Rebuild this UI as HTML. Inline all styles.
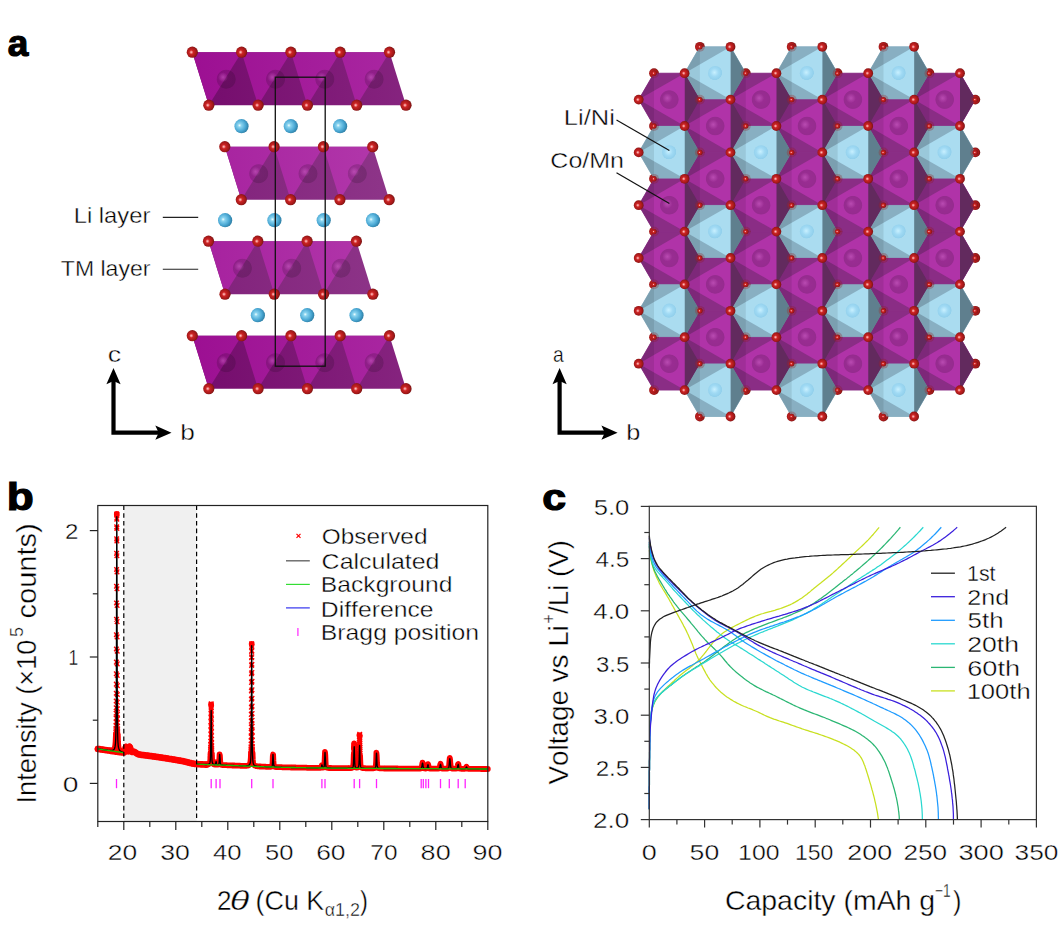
<!DOCTYPE html>
<html><head><meta charset="utf-8"><style>
html,body{margin:0;padding:0;background:#fff;width:1058px;height:925px;overflow:hidden}
svg{display:block} text{font-kerning:none}
</style></head><body>
<svg width="1058" height="925" viewBox="0 0 1058 925">
<rect width="1058" height="925" fill="#fff"/>

<defs>
<radialGradient id="gO" cx="0.45" cy="0.5" r="0.58" fx="0.4" fy="0.5">
 <stop offset="0" stop-color="#ffc8c8"/>
 <stop offset="0.12" stop-color="#f49090"/>
 <stop offset="0.32" stop-color="#cc2424"/>
 <stop offset="0.75" stop-color="#a01818"/>
 <stop offset="1" stop-color="#6a1212"/>
</radialGradient>
<radialGradient id="gOb" cx="0.38" cy="0.36" r="0.65" fx="0.36" fy="0.34">
 <stop offset="0" stop-color="#ffe0e0"/>
 <stop offset="0.25" stop-color="#d83a30"/>
 <stop offset="1" stop-color="#a01818"/>
</radialGradient>
<radialGradient id="gLi" cx="0.4" cy="0.45" r="0.62" fx="0.36" fy="0.44">
 <stop offset="0" stop-color="#f0ffff"/>
 <stop offset="0.2" stop-color="#8ad4f0"/>
 <stop offset="0.65" stop-color="#4aa8d4"/>
 <stop offset="1" stop-color="#2a7aa0"/>
</radialGradient>
<radialGradient id="gTM" cx="0.5" cy="0.5" r="0.5">
 <stop offset="0" stop-color="#000" stop-opacity="0.12"/>
 <stop offset="0.9" stop-color="#000" stop-opacity="0.15"/>
 <stop offset="1" stop-color="#000" stop-opacity="0"/>
</radialGradient>
<radialGradient id="gHi" cx="0.5" cy="0.5" r="0.5">
 <stop offset="0" stop-color="#fff" stop-opacity="0.22"/>
 <stop offset="1" stop-color="#fff" stop-opacity="0"/>
</radialGradient>
<radialGradient id="gHiP" cx="0.5" cy="0.5" r="0.5">
 <stop offset="0" stop-color="#e070d8" stop-opacity="0.45"/>
 <stop offset="1" stop-color="#e070d8" stop-opacity="0"/>
</radialGradient>
<radialGradient id="gSB" cx="0.45" cy="0.45" r="0.55">
 <stop offset="0" stop-color="#c8f0ff"/>
 <stop offset="0.5" stop-color="#a0daf4"/>
 <stop offset="0.92" stop-color="#92d0ec"/>
 <stop offset="1" stop-color="#92d0ec" stop-opacity="0"/>
</radialGradient>
<linearGradient id="L1l" gradientUnits="userSpaceOnUse" x1="190" y1="0" x2="410" y2="0"><stop offset="0" stop-color="#9c0f92"/><stop offset="1" stop-color="#aa28a2"/></linearGradient>
<linearGradient id="L1d" gradientUnits="userSpaceOnUse" x1="190" y1="0" x2="410" y2="0"><stop offset="0" stop-color="#740b6c"/><stop offset="1" stop-color="#86247f"/></linearGradient>
<linearGradient id="L2l" gradientUnits="userSpaceOnUse" x1="190" y1="0" x2="410" y2="0"><stop offset="0" stop-color="#a6209e"/><stop offset="1" stop-color="#b33bac"/></linearGradient>
<linearGradient id="L2d" gradientUnits="userSpaceOnUse" x1="190" y1="0" x2="410" y2="0"><stop offset="0" stop-color="#80207a"/><stop offset="1" stop-color="#8f378a"/></linearGradient>
</defs>

<polygon points="192.3,52.2 389.5,52.2 406.0,105.2 208.8,105.2" fill="url(#L1d)"/>
<polygon points="192.3,52.2 241.6,52.2 208.8,105.2" fill="url(#L1l)"/>
<polygon points="241.6,52.2 290.9,52.2 258.1,105.2" fill="url(#L1l)"/>
<polygon points="290.9,52.2 340.2,52.2 307.4,105.2" fill="url(#L1l)"/>
<polygon points="340.2,52.2 389.5,52.2 356.7,105.2" fill="url(#L1l)"/>
<circle cx="226.2" cy="79.2" r="10" fill="url(#gTM)"/>
<circle cx="223.0" cy="77.2" r="5" fill="url(#gHiP)"/>
<circle cx="275.5" cy="79.2" r="10" fill="url(#gTM)"/>
<circle cx="272.3" cy="77.2" r="5" fill="url(#gHiP)"/>
<circle cx="324.8" cy="79.2" r="10" fill="url(#gTM)"/>
<circle cx="321.6" cy="77.2" r="5" fill="url(#gHiP)"/>
<circle cx="374.1" cy="79.2" r="10" fill="url(#gTM)"/>
<circle cx="370.9" cy="77.2" r="5" fill="url(#gHiP)"/>
<circle cx="192.3" cy="52.2" r="5.6" fill="url(#gO)"/>
<circle cx="241.6" cy="52.2" r="5.6" fill="url(#gO)"/>
<circle cx="290.9" cy="52.2" r="5.6" fill="url(#gO)"/>
<circle cx="340.2" cy="52.2" r="5.6" fill="url(#gO)"/>
<circle cx="389.5" cy="52.2" r="5.6" fill="url(#gO)"/>
<circle cx="208.8" cy="105.2" r="5.6" fill="url(#gO)"/>
<circle cx="258.1" cy="105.2" r="5.6" fill="url(#gO)"/>
<circle cx="307.4" cy="105.2" r="5.6" fill="url(#gO)"/>
<circle cx="356.7" cy="105.2" r="5.6" fill="url(#gO)"/>
<circle cx="406.0" cy="105.2" r="5.6" fill="url(#gO)"/>
<polygon points="224.8,146.7 372.7,146.7 389.2,199.7 241.3,199.7" fill="url(#L2d)"/>
<polygon points="224.8,146.7 274.1,146.7 241.3,199.7" fill="url(#L2l)"/>
<polygon points="274.1,146.7 323.4,146.7 290.6,199.7" fill="url(#L2l)"/>
<polygon points="323.4,146.7 372.7,146.7 339.9,199.7" fill="url(#L2l)"/>
<circle cx="258.7" cy="173.7" r="10" fill="url(#gTM)"/>
<circle cx="255.5" cy="171.7" r="5" fill="url(#gHiP)"/>
<circle cx="308.0" cy="173.7" r="10" fill="url(#gTM)"/>
<circle cx="304.8" cy="171.7" r="5" fill="url(#gHiP)"/>
<circle cx="357.3" cy="173.7" r="10" fill="url(#gTM)"/>
<circle cx="354.1" cy="171.7" r="5" fill="url(#gHiP)"/>
<circle cx="224.8" cy="146.7" r="5.6" fill="url(#gO)"/>
<circle cx="274.1" cy="146.7" r="5.6" fill="url(#gO)"/>
<circle cx="323.4" cy="146.7" r="5.6" fill="url(#gO)"/>
<circle cx="372.7" cy="146.7" r="5.6" fill="url(#gO)"/>
<circle cx="241.3" cy="199.7" r="5.6" fill="url(#gO)"/>
<circle cx="290.6" cy="199.7" r="5.6" fill="url(#gO)"/>
<circle cx="339.9" cy="199.7" r="5.6" fill="url(#gO)"/>
<circle cx="389.2" cy="199.7" r="5.6" fill="url(#gO)"/>
<polygon points="208.5,241.2 356.4,241.2 372.9,294.2 225.0,294.2" fill="url(#L2d)"/>
<polygon points="208.5,241.2 257.8,241.2 225.0,294.2" fill="url(#L2l)"/>
<polygon points="257.8,241.2 307.1,241.2 274.3,294.2" fill="url(#L2l)"/>
<polygon points="307.1,241.2 356.4,241.2 323.6,294.2" fill="url(#L2l)"/>
<circle cx="242.4" cy="268.2" r="10" fill="url(#gTM)"/>
<circle cx="239.2" cy="266.2" r="5" fill="url(#gHiP)"/>
<circle cx="291.7" cy="268.2" r="10" fill="url(#gTM)"/>
<circle cx="288.5" cy="266.2" r="5" fill="url(#gHiP)"/>
<circle cx="341.0" cy="268.2" r="10" fill="url(#gTM)"/>
<circle cx="337.8" cy="266.2" r="5" fill="url(#gHiP)"/>
<circle cx="208.5" cy="241.2" r="5.6" fill="url(#gO)"/>
<circle cx="257.8" cy="241.2" r="5.6" fill="url(#gO)"/>
<circle cx="307.1" cy="241.2" r="5.6" fill="url(#gO)"/>
<circle cx="356.4" cy="241.2" r="5.6" fill="url(#gO)"/>
<circle cx="225.0" cy="294.2" r="5.6" fill="url(#gO)"/>
<circle cx="274.3" cy="294.2" r="5.6" fill="url(#gO)"/>
<circle cx="323.6" cy="294.2" r="5.6" fill="url(#gO)"/>
<circle cx="372.9" cy="294.2" r="5.6" fill="url(#gO)"/>
<polygon points="192.3,335.7 389.5,335.7 406.0,388.7 208.8,388.7" fill="url(#L1d)"/>
<polygon points="192.3,335.7 241.6,335.7 208.8,388.7" fill="url(#L1l)"/>
<polygon points="241.6,335.7 290.9,335.7 258.1,388.7" fill="url(#L1l)"/>
<polygon points="290.9,335.7 340.2,335.7 307.4,388.7" fill="url(#L1l)"/>
<polygon points="340.2,335.7 389.5,335.7 356.7,388.7" fill="url(#L1l)"/>
<circle cx="226.2" cy="362.7" r="10" fill="url(#gTM)"/>
<circle cx="223.0" cy="360.7" r="5" fill="url(#gHiP)"/>
<circle cx="275.5" cy="362.7" r="10" fill="url(#gTM)"/>
<circle cx="272.3" cy="360.7" r="5" fill="url(#gHiP)"/>
<circle cx="324.8" cy="362.7" r="10" fill="url(#gTM)"/>
<circle cx="321.6" cy="360.7" r="5" fill="url(#gHiP)"/>
<circle cx="374.1" cy="362.7" r="10" fill="url(#gTM)"/>
<circle cx="370.9" cy="360.7" r="5" fill="url(#gHiP)"/>
<circle cx="192.3" cy="335.7" r="5.6" fill="url(#gO)"/>
<circle cx="241.6" cy="335.7" r="5.6" fill="url(#gO)"/>
<circle cx="290.9" cy="335.7" r="5.6" fill="url(#gO)"/>
<circle cx="340.2" cy="335.7" r="5.6" fill="url(#gO)"/>
<circle cx="389.5" cy="335.7" r="5.6" fill="url(#gO)"/>
<circle cx="208.8" cy="388.7" r="5.6" fill="url(#gO)"/>
<circle cx="258.1" cy="388.7" r="5.6" fill="url(#gO)"/>
<circle cx="307.4" cy="388.7" r="5.6" fill="url(#gO)"/>
<circle cx="356.7" cy="388.7" r="5.6" fill="url(#gO)"/>
<circle cx="406.0" cy="388.7" r="5.6" fill="url(#gO)"/>
<circle cx="241.5" cy="126.2" r="7.1" fill="url(#gLi)"/>
<circle cx="290.8" cy="126.2" r="7.1" fill="url(#gLi)"/>
<circle cx="340.1" cy="126.2" r="7.1" fill="url(#gLi)"/>
<circle cx="225.1" cy="220.2" r="7.1" fill="url(#gLi)"/>
<circle cx="274.4" cy="220.2" r="7.1" fill="url(#gLi)"/>
<circle cx="323.7" cy="220.2" r="7.1" fill="url(#gLi)"/>
<circle cx="373.0" cy="220.2" r="7.1" fill="url(#gLi)"/>
<circle cx="257.9" cy="315.2" r="7.1" fill="url(#gLi)"/>
<circle cx="307.2" cy="315.2" r="7.1" fill="url(#gLi)"/>
<circle cx="356.5" cy="315.2" r="7.1" fill="url(#gLi)"/>
<rect x="275.3" y="77.2" width="49.9" height="289" fill="none" stroke="#111" stroke-width="1.3"/>
<text x="73.65" y="222.60" font-family="&quot;Liberation Sans&quot;, sans-serif" font-size="22.8" font-weight="normal" font-style="normal" fill="#000" textLength="76.75" lengthAdjust="spacingAndGlyphs" stroke="#fff" stroke-width="0.4">Li layer</text>
<text x="60.88" y="276.10" font-family="&quot;Liberation Sans&quot;, sans-serif" font-size="22.8" font-weight="normal" font-style="normal" fill="#000" textLength="89.50" lengthAdjust="spacingAndGlyphs" stroke="#fff" stroke-width="0.4">TM layer</text>
<line x1="162.8" y1="217.4" x2="198.2" y2="217.4" stroke="#222" stroke-width="1.1"/>
<line x1="162.8" y1="269.2" x2="198.2" y2="269.2" stroke="#222" stroke-width="1.1"/>
<path d="M111.4,434.8 L111.4,378 L115.6,378 L115.6,430.6 L160.5,430.6 L160.5,434.8 Z" fill="#000"/><path d="M113.5,368 L120.6,384.3 L113.5,381 L106.4,384.3 Z" fill="#000"/><path d="M171.5,432.7 L155.3,439.8 L158.7,432.7 L155.3,425.6 Z" fill="#000"/>
<path d="M557.5,434.8 L557.5,378 L561.7,378 L561.7,430.6 L606.6,430.6 L606.6,434.8 Z" fill="#000"/><path d="M559.6,368 L566.7,384.3 L559.6,381 L552.5,384.3 Z" fill="#000"/><path d="M617.6,432.7 L601.4,439.8 L604.8,432.7 L601.4,425.6 Z" fill="#000"/>
<text x="107.76" y="361.50" font-family="&quot;Liberation Sans&quot;, sans-serif" font-size="22.8" font-weight="normal" font-style="normal" fill="#000" textLength="13.45" lengthAdjust="spacingAndGlyphs" stroke="#fff" stroke-width="0.4">c</text>
<text x="180.31" y="439.70" font-family="&quot;Liberation Sans&quot;, sans-serif" font-size="22.8" font-weight="normal" font-style="normal" fill="#000" textLength="14.59" lengthAdjust="spacingAndGlyphs" stroke="#fff" stroke-width="0.4">b</text>
<text x="552.88" y="361.50" font-family="&quot;Liberation Sans&quot;, sans-serif" font-size="22.8" font-weight="normal" font-style="normal" fill="#000" textLength="10.72" lengthAdjust="spacingAndGlyphs" stroke="#fff" stroke-width="0.4">a</text>
<text x="626.37" y="439.70" font-family="&quot;Liberation Sans&quot;, sans-serif" font-size="22.8" font-weight="normal" font-style="normal" fill="#000" textLength="14.10" lengthAdjust="spacingAndGlyphs" stroke="#fff" stroke-width="0.4">b</text>
<text x="7.72" y="56.10" font-family="&quot;Liberation Sans&quot;, sans-serif" font-size="37" font-weight="bold" font-style="normal" fill="#000" textLength="20.55" lengthAdjust="spacingAndGlyphs" stroke="#000" stroke-width="1.2">a</text>
<text x="6.88" y="509.80" font-family="&quot;Liberation Sans&quot;, sans-serif" font-size="38.4" font-weight="bold" font-style="normal" fill="#000" textLength="27.03" lengthAdjust="spacingAndGlyphs" stroke="#000" stroke-width="1.2">b</text>
<text x="542.23" y="509.90" font-family="&quot;Liberation Sans&quot;, sans-serif" font-size="36.5" font-weight="bold" font-style="normal" fill="#000" textLength="23.83" lengthAdjust="spacingAndGlyphs" stroke="#000" stroke-width="1.2">c</text>
<polygon points="654.0,73.2 684.6,73.2 699.9,99.6 684.6,126.0 654.0,126.0 638.7,99.6" fill="#8a2d85" stroke="#8a2d85" stroke-width="0.8"/>
<polygon points="654.0,126.0 684.6,126.0 699.9,152.4 684.6,178.8 654.0,178.8 638.7,152.4" fill="#88afc2" stroke="#88afc2" stroke-width="0.8"/>
<polygon points="654.0,178.8 684.6,178.8 699.9,205.2 684.6,231.6 654.0,231.6 638.7,205.2" fill="#8a2d85" stroke="#8a2d85" stroke-width="0.8"/>
<polygon points="654.0,231.6 684.6,231.6 699.9,258.0 684.6,284.4 654.0,284.4 638.7,258.0" fill="#8a2d85" stroke="#8a2d85" stroke-width="0.8"/>
<polygon points="654.0,284.4 684.6,284.4 699.9,310.8 684.6,337.2 654.0,337.2 638.7,310.8" fill="#88afc2" stroke="#88afc2" stroke-width="0.8"/>
<polygon points="654.0,337.2 684.6,337.2 699.9,363.7 684.6,390.1 654.0,390.1 638.7,363.7" fill="#8a2d85" stroke="#8a2d85" stroke-width="0.8"/>
<polygon points="699.9,46.8 730.5,46.8 745.8,73.2 730.5,99.6 699.9,99.6 684.6,73.2" fill="#88afc2" stroke="#88afc2" stroke-width="0.8"/>
<polygon points="699.9,99.6 730.5,99.6 745.8,126.0 730.5,152.4 699.9,152.4 684.6,126.0" fill="#8a2d85" stroke="#8a2d85" stroke-width="0.8"/>
<polygon points="699.9,152.4 730.5,152.4 745.8,178.8 730.5,205.2 699.9,205.2 684.6,178.8" fill="#8a2d85" stroke="#8a2d85" stroke-width="0.8"/>
<polygon points="699.9,205.2 730.5,205.2 745.8,231.6 730.5,258.0 699.9,258.0 684.6,231.6" fill="#88afc2" stroke="#88afc2" stroke-width="0.8"/>
<polygon points="699.9,258.0 730.5,258.0 745.8,284.4 730.5,310.8 699.9,310.8 684.6,284.4" fill="#8a2d85" stroke="#8a2d85" stroke-width="0.8"/>
<polygon points="699.9,310.8 730.5,310.8 745.8,337.2 730.5,363.7 699.9,363.7 684.6,337.2" fill="#8a2d85" stroke="#8a2d85" stroke-width="0.8"/>
<polygon points="699.9,363.7 730.5,363.7 745.8,390.1 730.5,416.5 699.9,416.5 684.6,390.1" fill="#88afc2" stroke="#88afc2" stroke-width="0.8"/>
<polygon points="745.8,73.2 776.4,73.2 791.7,99.6 776.4,126.0 745.8,126.0 730.5,99.6" fill="#8a2d85" stroke="#8a2d85" stroke-width="0.8"/>
<polygon points="745.8,126.0 776.4,126.0 791.7,152.4 776.4,178.8 745.8,178.8 730.5,152.4" fill="#88afc2" stroke="#88afc2" stroke-width="0.8"/>
<polygon points="745.8,178.8 776.4,178.8 791.7,205.2 776.4,231.6 745.8,231.6 730.5,205.2" fill="#8a2d85" stroke="#8a2d85" stroke-width="0.8"/>
<polygon points="745.8,231.6 776.4,231.6 791.7,258.0 776.4,284.4 745.8,284.4 730.5,258.0" fill="#8a2d85" stroke="#8a2d85" stroke-width="0.8"/>
<polygon points="745.8,284.4 776.4,284.4 791.7,310.8 776.4,337.2 745.8,337.2 730.5,310.8" fill="#88afc2" stroke="#88afc2" stroke-width="0.8"/>
<polygon points="745.8,337.2 776.4,337.2 791.7,363.7 776.4,390.1 745.8,390.1 730.5,363.7" fill="#8a2d85" stroke="#8a2d85" stroke-width="0.8"/>
<polygon points="791.7,46.8 822.3,46.8 837.6,73.2 822.3,99.6 791.7,99.6 776.4,73.2" fill="#88afc2" stroke="#88afc2" stroke-width="0.8"/>
<polygon points="791.7,99.6 822.3,99.6 837.6,126.0 822.3,152.4 791.7,152.4 776.4,126.0" fill="#8a2d85" stroke="#8a2d85" stroke-width="0.8"/>
<polygon points="791.7,152.4 822.3,152.4 837.6,178.8 822.3,205.2 791.7,205.2 776.4,178.8" fill="#8a2d85" stroke="#8a2d85" stroke-width="0.8"/>
<polygon points="791.7,205.2 822.3,205.2 837.6,231.6 822.3,258.0 791.7,258.0 776.4,231.6" fill="#88afc2" stroke="#88afc2" stroke-width="0.8"/>
<polygon points="791.7,258.0 822.3,258.0 837.6,284.4 822.3,310.8 791.7,310.8 776.4,284.4" fill="#8a2d85" stroke="#8a2d85" stroke-width="0.8"/>
<polygon points="791.7,310.8 822.3,310.8 837.6,337.2 822.3,363.7 791.7,363.7 776.4,337.2" fill="#8a2d85" stroke="#8a2d85" stroke-width="0.8"/>
<polygon points="791.7,363.7 822.3,363.7 837.6,390.1 822.3,416.5 791.7,416.5 776.4,390.1" fill="#88afc2" stroke="#88afc2" stroke-width="0.8"/>
<polygon points="837.6,73.2 868.2,73.2 883.5,99.6 868.2,126.0 837.6,126.0 822.3,99.6" fill="#8a2d85" stroke="#8a2d85" stroke-width="0.8"/>
<polygon points="837.6,126.0 868.2,126.0 883.5,152.4 868.2,178.8 837.6,178.8 822.3,152.4" fill="#88afc2" stroke="#88afc2" stroke-width="0.8"/>
<polygon points="837.6,178.8 868.2,178.8 883.5,205.2 868.2,231.6 837.6,231.6 822.3,205.2" fill="#8a2d85" stroke="#8a2d85" stroke-width="0.8"/>
<polygon points="837.6,231.6 868.2,231.6 883.5,258.0 868.2,284.4 837.6,284.4 822.3,258.0" fill="#8a2d85" stroke="#8a2d85" stroke-width="0.8"/>
<polygon points="837.6,284.4 868.2,284.4 883.5,310.8 868.2,337.2 837.6,337.2 822.3,310.8" fill="#88afc2" stroke="#88afc2" stroke-width="0.8"/>
<polygon points="837.6,337.2 868.2,337.2 883.5,363.7 868.2,390.1 837.6,390.1 822.3,363.7" fill="#8a2d85" stroke="#8a2d85" stroke-width="0.8"/>
<polygon points="883.5,46.8 914.1,46.8 929.4,73.2 914.1,99.6 883.5,99.6 868.2,73.2" fill="#88afc2" stroke="#88afc2" stroke-width="0.8"/>
<polygon points="883.5,99.6 914.1,99.6 929.4,126.0 914.1,152.4 883.5,152.4 868.2,126.0" fill="#8a2d85" stroke="#8a2d85" stroke-width="0.8"/>
<polygon points="883.5,152.4 914.1,152.4 929.4,178.8 914.1,205.2 883.5,205.2 868.2,178.8" fill="#8a2d85" stroke="#8a2d85" stroke-width="0.8"/>
<polygon points="883.5,205.2 914.1,205.2 929.4,231.6 914.1,258.0 883.5,258.0 868.2,231.6" fill="#88afc2" stroke="#88afc2" stroke-width="0.8"/>
<polygon points="883.5,258.0 914.1,258.0 929.4,284.4 914.1,310.8 883.5,310.8 868.2,284.4" fill="#8a2d85" stroke="#8a2d85" stroke-width="0.8"/>
<polygon points="883.5,310.8 914.1,310.8 929.4,337.2 914.1,363.7 883.5,363.7 868.2,337.2" fill="#8a2d85" stroke="#8a2d85" stroke-width="0.8"/>
<polygon points="883.5,363.7 914.1,363.7 929.4,390.1 914.1,416.5 883.5,416.5 868.2,390.1" fill="#88afc2" stroke="#88afc2" stroke-width="0.8"/>
<polygon points="929.4,73.2 960.0,73.2 975.3,99.6 960.0,126.0 929.4,126.0 914.1,99.6" fill="#8a2d85" stroke="#8a2d85" stroke-width="0.8"/>
<polygon points="929.4,126.0 960.0,126.0 975.3,152.4 960.0,178.8 929.4,178.8 914.1,152.4" fill="#88afc2" stroke="#88afc2" stroke-width="0.8"/>
<polygon points="929.4,178.8 960.0,178.8 975.3,205.2 960.0,231.6 929.4,231.6 914.1,205.2" fill="#8a2d85" stroke="#8a2d85" stroke-width="0.8"/>
<polygon points="929.4,231.6 960.0,231.6 975.3,258.0 960.0,284.4 929.4,284.4 914.1,258.0" fill="#8a2d85" stroke="#8a2d85" stroke-width="0.8"/>
<polygon points="929.4,284.4 960.0,284.4 975.3,310.8 960.0,337.2 929.4,337.2 914.1,310.8" fill="#88afc2" stroke="#88afc2" stroke-width="0.8"/>
<polygon points="929.4,337.2 960.0,337.2 975.3,363.7 960.0,390.1 929.4,390.1 914.1,363.7" fill="#8a2d85" stroke="#8a2d85" stroke-width="0.8"/>
<polygon points="684.6,73.2 699.9,99.6 684.6,126.0" fill="#622a5e"/>
<polygon points="684.6,73.2 638.7,99.6 684.6,126.0" fill="#b033a8"/>
<polygon points="654.0,73.2 638.7,99.6 654.0,126.0" fill="#000" fill-opacity="0.09"/>
<polygon points="684.6,126.0 699.9,152.4 684.6,178.8" fill="#5f7f8e"/>
<polygon points="684.6,126.0 638.7,152.4 684.6,178.8" fill="#aadcf0"/>
<polygon points="654.0,126.0 638.7,152.4 654.0,178.8" fill="#000" fill-opacity="0.09"/>
<polygon points="684.6,178.8 699.9,205.2 684.6,231.6" fill="#622a5e"/>
<polygon points="684.6,178.8 638.7,205.2 684.6,231.6" fill="#b033a8"/>
<polygon points="654.0,178.8 638.7,205.2 654.0,231.6" fill="#000" fill-opacity="0.09"/>
<polygon points="684.6,231.6 699.9,258.0 684.6,284.4" fill="#622a5e"/>
<polygon points="684.6,231.6 638.7,258.0 684.6,284.4" fill="#b033a8"/>
<polygon points="654.0,231.6 638.7,258.0 654.0,284.4" fill="#000" fill-opacity="0.09"/>
<polygon points="684.6,284.4 699.9,310.8 684.6,337.2" fill="#5f7f8e"/>
<polygon points="684.6,284.4 638.7,310.8 684.6,337.2" fill="#aadcf0"/>
<polygon points="654.0,284.4 638.7,310.8 654.0,337.2" fill="#000" fill-opacity="0.09"/>
<polygon points="684.6,337.2 699.9,363.7 684.6,390.1" fill="#622a5e"/>
<polygon points="684.6,337.2 638.7,363.7 684.6,390.1" fill="#b033a8"/>
<polygon points="654.0,337.2 638.7,363.7 654.0,390.1" fill="#000" fill-opacity="0.09"/>
<polygon points="730.5,46.8 745.8,73.2 730.5,99.6" fill="#5f7f8e"/>
<polygon points="730.5,46.8 684.6,73.2 730.5,99.6" fill="#aadcf0"/>
<polygon points="699.9,46.8 684.6,73.2 699.9,99.6" fill="#000" fill-opacity="0.09"/>
<polygon points="730.5,99.6 745.8,126.0 730.5,152.4" fill="#622a5e"/>
<polygon points="730.5,99.6 684.6,126.0 730.5,152.4" fill="#b033a8"/>
<polygon points="699.9,99.6 684.6,126.0 699.9,152.4" fill="#000" fill-opacity="0.09"/>
<polygon points="730.5,152.4 745.8,178.8 730.5,205.2" fill="#622a5e"/>
<polygon points="730.5,152.4 684.6,178.8 730.5,205.2" fill="#b033a8"/>
<polygon points="699.9,152.4 684.6,178.8 699.9,205.2" fill="#000" fill-opacity="0.09"/>
<polygon points="730.5,205.2 745.8,231.6 730.5,258.0" fill="#5f7f8e"/>
<polygon points="730.5,205.2 684.6,231.6 730.5,258.0" fill="#aadcf0"/>
<polygon points="699.9,205.2 684.6,231.6 699.9,258.0" fill="#000" fill-opacity="0.09"/>
<polygon points="730.5,258.0 745.8,284.4 730.5,310.8" fill="#622a5e"/>
<polygon points="730.5,258.0 684.6,284.4 730.5,310.8" fill="#b033a8"/>
<polygon points="699.9,258.0 684.6,284.4 699.9,310.8" fill="#000" fill-opacity="0.09"/>
<polygon points="730.5,310.8 745.8,337.2 730.5,363.7" fill="#622a5e"/>
<polygon points="730.5,310.8 684.6,337.2 730.5,363.7" fill="#b033a8"/>
<polygon points="699.9,310.8 684.6,337.2 699.9,363.7" fill="#000" fill-opacity="0.09"/>
<polygon points="730.5,363.7 745.8,390.1 730.5,416.5" fill="#5f7f8e"/>
<polygon points="730.5,363.7 684.6,390.1 730.5,416.5" fill="#aadcf0"/>
<polygon points="699.9,363.7 684.6,390.1 699.9,416.5" fill="#000" fill-opacity="0.09"/>
<polygon points="776.4,73.2 791.7,99.6 776.4,126.0" fill="#622a5e"/>
<polygon points="776.4,73.2 730.5,99.6 776.4,126.0" fill="#b033a8"/>
<polygon points="745.8,73.2 730.5,99.6 745.8,126.0" fill="#000" fill-opacity="0.09"/>
<polygon points="776.4,126.0 791.7,152.4 776.4,178.8" fill="#5f7f8e"/>
<polygon points="776.4,126.0 730.5,152.4 776.4,178.8" fill="#aadcf0"/>
<polygon points="745.8,126.0 730.5,152.4 745.8,178.8" fill="#000" fill-opacity="0.09"/>
<polygon points="776.4,178.8 791.7,205.2 776.4,231.6" fill="#622a5e"/>
<polygon points="776.4,178.8 730.5,205.2 776.4,231.6" fill="#b033a8"/>
<polygon points="745.8,178.8 730.5,205.2 745.8,231.6" fill="#000" fill-opacity="0.09"/>
<polygon points="776.4,231.6 791.7,258.0 776.4,284.4" fill="#622a5e"/>
<polygon points="776.4,231.6 730.5,258.0 776.4,284.4" fill="#b033a8"/>
<polygon points="745.8,231.6 730.5,258.0 745.8,284.4" fill="#000" fill-opacity="0.09"/>
<polygon points="776.4,284.4 791.7,310.8 776.4,337.2" fill="#5f7f8e"/>
<polygon points="776.4,284.4 730.5,310.8 776.4,337.2" fill="#aadcf0"/>
<polygon points="745.8,284.4 730.5,310.8 745.8,337.2" fill="#000" fill-opacity="0.09"/>
<polygon points="776.4,337.2 791.7,363.7 776.4,390.1" fill="#622a5e"/>
<polygon points="776.4,337.2 730.5,363.7 776.4,390.1" fill="#b033a8"/>
<polygon points="745.8,337.2 730.5,363.7 745.8,390.1" fill="#000" fill-opacity="0.09"/>
<polygon points="822.3,46.8 837.6,73.2 822.3,99.6" fill="#5f7f8e"/>
<polygon points="822.3,46.8 776.4,73.2 822.3,99.6" fill="#aadcf0"/>
<polygon points="791.7,46.8 776.4,73.2 791.7,99.6" fill="#000" fill-opacity="0.09"/>
<polygon points="822.3,99.6 837.6,126.0 822.3,152.4" fill="#622a5e"/>
<polygon points="822.3,99.6 776.4,126.0 822.3,152.4" fill="#b033a8"/>
<polygon points="791.7,99.6 776.4,126.0 791.7,152.4" fill="#000" fill-opacity="0.09"/>
<polygon points="822.3,152.4 837.6,178.8 822.3,205.2" fill="#622a5e"/>
<polygon points="822.3,152.4 776.4,178.8 822.3,205.2" fill="#b033a8"/>
<polygon points="791.7,152.4 776.4,178.8 791.7,205.2" fill="#000" fill-opacity="0.09"/>
<polygon points="822.3,205.2 837.6,231.6 822.3,258.0" fill="#5f7f8e"/>
<polygon points="822.3,205.2 776.4,231.6 822.3,258.0" fill="#aadcf0"/>
<polygon points="791.7,205.2 776.4,231.6 791.7,258.0" fill="#000" fill-opacity="0.09"/>
<polygon points="822.3,258.0 837.6,284.4 822.3,310.8" fill="#622a5e"/>
<polygon points="822.3,258.0 776.4,284.4 822.3,310.8" fill="#b033a8"/>
<polygon points="791.7,258.0 776.4,284.4 791.7,310.8" fill="#000" fill-opacity="0.09"/>
<polygon points="822.3,310.8 837.6,337.2 822.3,363.7" fill="#622a5e"/>
<polygon points="822.3,310.8 776.4,337.2 822.3,363.7" fill="#b033a8"/>
<polygon points="791.7,310.8 776.4,337.2 791.7,363.7" fill="#000" fill-opacity="0.09"/>
<polygon points="822.3,363.7 837.6,390.1 822.3,416.5" fill="#5f7f8e"/>
<polygon points="822.3,363.7 776.4,390.1 822.3,416.5" fill="#aadcf0"/>
<polygon points="791.7,363.7 776.4,390.1 791.7,416.5" fill="#000" fill-opacity="0.09"/>
<polygon points="868.2,73.2 883.5,99.6 868.2,126.0" fill="#622a5e"/>
<polygon points="868.2,73.2 822.3,99.6 868.2,126.0" fill="#b033a8"/>
<polygon points="837.6,73.2 822.3,99.6 837.6,126.0" fill="#000" fill-opacity="0.09"/>
<polygon points="868.2,126.0 883.5,152.4 868.2,178.8" fill="#5f7f8e"/>
<polygon points="868.2,126.0 822.3,152.4 868.2,178.8" fill="#aadcf0"/>
<polygon points="837.6,126.0 822.3,152.4 837.6,178.8" fill="#000" fill-opacity="0.09"/>
<polygon points="868.2,178.8 883.5,205.2 868.2,231.6" fill="#622a5e"/>
<polygon points="868.2,178.8 822.3,205.2 868.2,231.6" fill="#b033a8"/>
<polygon points="837.6,178.8 822.3,205.2 837.6,231.6" fill="#000" fill-opacity="0.09"/>
<polygon points="868.2,231.6 883.5,258.0 868.2,284.4" fill="#622a5e"/>
<polygon points="868.2,231.6 822.3,258.0 868.2,284.4" fill="#b033a8"/>
<polygon points="837.6,231.6 822.3,258.0 837.6,284.4" fill="#000" fill-opacity="0.09"/>
<polygon points="868.2,284.4 883.5,310.8 868.2,337.2" fill="#5f7f8e"/>
<polygon points="868.2,284.4 822.3,310.8 868.2,337.2" fill="#aadcf0"/>
<polygon points="837.6,284.4 822.3,310.8 837.6,337.2" fill="#000" fill-opacity="0.09"/>
<polygon points="868.2,337.2 883.5,363.7 868.2,390.1" fill="#622a5e"/>
<polygon points="868.2,337.2 822.3,363.7 868.2,390.1" fill="#b033a8"/>
<polygon points="837.6,337.2 822.3,363.7 837.6,390.1" fill="#000" fill-opacity="0.09"/>
<polygon points="914.1,46.8 929.4,73.2 914.1,99.6" fill="#5f7f8e"/>
<polygon points="914.1,46.8 868.2,73.2 914.1,99.6" fill="#aadcf0"/>
<polygon points="883.5,46.8 868.2,73.2 883.5,99.6" fill="#000" fill-opacity="0.09"/>
<polygon points="914.1,99.6 929.4,126.0 914.1,152.4" fill="#622a5e"/>
<polygon points="914.1,99.6 868.2,126.0 914.1,152.4" fill="#b033a8"/>
<polygon points="883.5,99.6 868.2,126.0 883.5,152.4" fill="#000" fill-opacity="0.09"/>
<polygon points="914.1,152.4 929.4,178.8 914.1,205.2" fill="#622a5e"/>
<polygon points="914.1,152.4 868.2,178.8 914.1,205.2" fill="#b033a8"/>
<polygon points="883.5,152.4 868.2,178.8 883.5,205.2" fill="#000" fill-opacity="0.09"/>
<polygon points="914.1,205.2 929.4,231.6 914.1,258.0" fill="#5f7f8e"/>
<polygon points="914.1,205.2 868.2,231.6 914.1,258.0" fill="#aadcf0"/>
<polygon points="883.5,205.2 868.2,231.6 883.5,258.0" fill="#000" fill-opacity="0.09"/>
<polygon points="914.1,258.0 929.4,284.4 914.1,310.8" fill="#622a5e"/>
<polygon points="914.1,258.0 868.2,284.4 914.1,310.8" fill="#b033a8"/>
<polygon points="883.5,258.0 868.2,284.4 883.5,310.8" fill="#000" fill-opacity="0.09"/>
<polygon points="914.1,310.8 929.4,337.2 914.1,363.7" fill="#622a5e"/>
<polygon points="914.1,310.8 868.2,337.2 914.1,363.7" fill="#b033a8"/>
<polygon points="883.5,310.8 868.2,337.2 883.5,363.7" fill="#000" fill-opacity="0.09"/>
<polygon points="914.1,363.7 929.4,390.1 914.1,416.5" fill="#5f7f8e"/>
<polygon points="914.1,363.7 868.2,390.1 914.1,416.5" fill="#aadcf0"/>
<polygon points="883.5,363.7 868.2,390.1 883.5,416.5" fill="#000" fill-opacity="0.09"/>
<polygon points="960.0,73.2 975.3,99.6 960.0,126.0" fill="#622a5e"/>
<polygon points="960.0,73.2 914.1,99.6 960.0,126.0" fill="#b033a8"/>
<polygon points="929.4,73.2 914.1,99.6 929.4,126.0" fill="#000" fill-opacity="0.09"/>
<polygon points="960.0,126.0 975.3,152.4 960.0,178.8" fill="#5f7f8e"/>
<polygon points="960.0,126.0 914.1,152.4 960.0,178.8" fill="#aadcf0"/>
<polygon points="929.4,126.0 914.1,152.4 929.4,178.8" fill="#000" fill-opacity="0.09"/>
<polygon points="960.0,178.8 975.3,205.2 960.0,231.6" fill="#622a5e"/>
<polygon points="960.0,178.8 914.1,205.2 960.0,231.6" fill="#b033a8"/>
<polygon points="929.4,178.8 914.1,205.2 929.4,231.6" fill="#000" fill-opacity="0.09"/>
<polygon points="960.0,231.6 975.3,258.0 960.0,284.4" fill="#622a5e"/>
<polygon points="960.0,231.6 914.1,258.0 960.0,284.4" fill="#b033a8"/>
<polygon points="929.4,231.6 914.1,258.0 929.4,284.4" fill="#000" fill-opacity="0.09"/>
<polygon points="960.0,284.4 975.3,310.8 960.0,337.2" fill="#5f7f8e"/>
<polygon points="960.0,284.4 914.1,310.8 960.0,337.2" fill="#aadcf0"/>
<polygon points="929.4,284.4 914.1,310.8 929.4,337.2" fill="#000" fill-opacity="0.09"/>
<polygon points="960.0,337.2 975.3,363.7 960.0,390.1" fill="#622a5e"/>
<polygon points="960.0,337.2 914.1,363.7 960.0,390.1" fill="#b033a8"/>
<polygon points="929.4,337.2 914.1,363.7 929.4,390.1" fill="#000" fill-opacity="0.09"/>
<circle cx="654.0" cy="73.2" r="4.9" fill="url(#gO)"/>
<circle cx="699.9" cy="99.6" r="4.9" fill="url(#gO)"/>
<circle cx="654.0" cy="126.0" r="4.9" fill="url(#gO)"/>
<circle cx="699.9" cy="152.4" r="4.9" fill="url(#gO)"/>
<circle cx="654.0" cy="178.8" r="4.9" fill="url(#gO)"/>
<circle cx="699.9" cy="205.2" r="4.9" fill="url(#gO)"/>
<circle cx="654.0" cy="231.6" r="4.9" fill="url(#gO)"/>
<circle cx="699.9" cy="258.0" r="4.9" fill="url(#gO)"/>
<circle cx="654.0" cy="284.4" r="4.9" fill="url(#gO)"/>
<circle cx="699.9" cy="310.8" r="4.9" fill="url(#gO)"/>
<circle cx="654.0" cy="337.2" r="4.9" fill="url(#gO)"/>
<circle cx="699.9" cy="363.7" r="4.9" fill="url(#gO)"/>
<circle cx="654.0" cy="390.1" r="4.9" fill="url(#gO)"/>
<circle cx="699.9" cy="46.8" r="4.9" fill="url(#gO)"/>
<circle cx="745.8" cy="73.2" r="4.9" fill="url(#gO)"/>
<circle cx="745.8" cy="126.0" r="4.9" fill="url(#gO)"/>
<circle cx="745.8" cy="178.8" r="4.9" fill="url(#gO)"/>
<circle cx="745.8" cy="231.6" r="4.9" fill="url(#gO)"/>
<circle cx="745.8" cy="284.4" r="4.9" fill="url(#gO)"/>
<circle cx="745.8" cy="337.2" r="4.9" fill="url(#gO)"/>
<circle cx="745.8" cy="390.1" r="4.9" fill="url(#gO)"/>
<circle cx="699.9" cy="416.5" r="4.9" fill="url(#gO)"/>
<circle cx="791.7" cy="99.6" r="4.9" fill="url(#gO)"/>
<circle cx="791.7" cy="152.4" r="4.9" fill="url(#gO)"/>
<circle cx="791.7" cy="205.2" r="4.9" fill="url(#gO)"/>
<circle cx="791.7" cy="258.0" r="4.9" fill="url(#gO)"/>
<circle cx="791.7" cy="310.8" r="4.9" fill="url(#gO)"/>
<circle cx="791.7" cy="363.7" r="4.9" fill="url(#gO)"/>
<circle cx="791.7" cy="46.8" r="4.9" fill="url(#gO)"/>
<circle cx="837.6" cy="73.2" r="4.9" fill="url(#gO)"/>
<circle cx="837.6" cy="126.0" r="4.9" fill="url(#gO)"/>
<circle cx="837.6" cy="178.8" r="4.9" fill="url(#gO)"/>
<circle cx="837.6" cy="231.6" r="4.9" fill="url(#gO)"/>
<circle cx="837.6" cy="284.4" r="4.9" fill="url(#gO)"/>
<circle cx="837.6" cy="337.2" r="4.9" fill="url(#gO)"/>
<circle cx="837.6" cy="390.1" r="4.9" fill="url(#gO)"/>
<circle cx="791.7" cy="416.5" r="4.9" fill="url(#gO)"/>
<circle cx="883.5" cy="99.6" r="4.9" fill="url(#gO)"/>
<circle cx="883.5" cy="152.4" r="4.9" fill="url(#gO)"/>
<circle cx="883.5" cy="205.2" r="4.9" fill="url(#gO)"/>
<circle cx="883.5" cy="258.0" r="4.9" fill="url(#gO)"/>
<circle cx="883.5" cy="310.8" r="4.9" fill="url(#gO)"/>
<circle cx="883.5" cy="363.7" r="4.9" fill="url(#gO)"/>
<circle cx="883.5" cy="46.8" r="4.9" fill="url(#gO)"/>
<circle cx="929.4" cy="73.2" r="4.9" fill="url(#gO)"/>
<circle cx="929.4" cy="126.0" r="4.9" fill="url(#gO)"/>
<circle cx="929.4" cy="178.8" r="4.9" fill="url(#gO)"/>
<circle cx="929.4" cy="231.6" r="4.9" fill="url(#gO)"/>
<circle cx="929.4" cy="284.4" r="4.9" fill="url(#gO)"/>
<circle cx="929.4" cy="337.2" r="4.9" fill="url(#gO)"/>
<circle cx="929.4" cy="390.1" r="4.9" fill="url(#gO)"/>
<circle cx="883.5" cy="416.5" r="4.9" fill="url(#gO)"/>
<circle cx="975.3" cy="99.6" r="4.9" fill="url(#gO)"/>
<circle cx="975.3" cy="152.4" r="4.9" fill="url(#gO)"/>
<circle cx="975.3" cy="205.2" r="4.9" fill="url(#gO)"/>
<circle cx="975.3" cy="258.0" r="4.9" fill="url(#gO)"/>
<circle cx="975.3" cy="310.8" r="4.9" fill="url(#gO)"/>
<circle cx="975.3" cy="363.7" r="4.9" fill="url(#gO)"/>
<g opacity="0.72">
<polygon points="654.0,73.2 684.6,73.2 699.9,99.6 684.6,126.0 654.0,126.0 638.7,99.6" fill="#8a2d85"/>
<polygon points="654.0,126.0 684.6,126.0 699.9,152.4 684.6,178.8 654.0,178.8 638.7,152.4" fill="#88afc2"/>
<polygon points="654.0,178.8 684.6,178.8 699.9,205.2 684.6,231.6 654.0,231.6 638.7,205.2" fill="#8a2d85"/>
<polygon points="654.0,231.6 684.6,231.6 699.9,258.0 684.6,284.4 654.0,284.4 638.7,258.0" fill="#8a2d85"/>
<polygon points="654.0,284.4 684.6,284.4 699.9,310.8 684.6,337.2 654.0,337.2 638.7,310.8" fill="#88afc2"/>
<polygon points="654.0,337.2 684.6,337.2 699.9,363.7 684.6,390.1 654.0,390.1 638.7,363.7" fill="#8a2d85"/>
<polygon points="699.9,46.8 730.5,46.8 745.8,73.2 730.5,99.6 699.9,99.6 684.6,73.2" fill="#88afc2"/>
<polygon points="699.9,99.6 730.5,99.6 745.8,126.0 730.5,152.4 699.9,152.4 684.6,126.0" fill="#8a2d85"/>
<polygon points="699.9,152.4 730.5,152.4 745.8,178.8 730.5,205.2 699.9,205.2 684.6,178.8" fill="#8a2d85"/>
<polygon points="699.9,205.2 730.5,205.2 745.8,231.6 730.5,258.0 699.9,258.0 684.6,231.6" fill="#88afc2"/>
<polygon points="699.9,258.0 730.5,258.0 745.8,284.4 730.5,310.8 699.9,310.8 684.6,284.4" fill="#8a2d85"/>
<polygon points="699.9,310.8 730.5,310.8 745.8,337.2 730.5,363.7 699.9,363.7 684.6,337.2" fill="#8a2d85"/>
<polygon points="699.9,363.7 730.5,363.7 745.8,390.1 730.5,416.5 699.9,416.5 684.6,390.1" fill="#88afc2"/>
<polygon points="745.8,73.2 776.4,73.2 791.7,99.6 776.4,126.0 745.8,126.0 730.5,99.6" fill="#8a2d85"/>
<polygon points="745.8,126.0 776.4,126.0 791.7,152.4 776.4,178.8 745.8,178.8 730.5,152.4" fill="#88afc2"/>
<polygon points="745.8,178.8 776.4,178.8 791.7,205.2 776.4,231.6 745.8,231.6 730.5,205.2" fill="#8a2d85"/>
<polygon points="745.8,231.6 776.4,231.6 791.7,258.0 776.4,284.4 745.8,284.4 730.5,258.0" fill="#8a2d85"/>
<polygon points="745.8,284.4 776.4,284.4 791.7,310.8 776.4,337.2 745.8,337.2 730.5,310.8" fill="#88afc2"/>
<polygon points="745.8,337.2 776.4,337.2 791.7,363.7 776.4,390.1 745.8,390.1 730.5,363.7" fill="#8a2d85"/>
<polygon points="791.7,46.8 822.3,46.8 837.6,73.2 822.3,99.6 791.7,99.6 776.4,73.2" fill="#88afc2"/>
<polygon points="791.7,99.6 822.3,99.6 837.6,126.0 822.3,152.4 791.7,152.4 776.4,126.0" fill="#8a2d85"/>
<polygon points="791.7,152.4 822.3,152.4 837.6,178.8 822.3,205.2 791.7,205.2 776.4,178.8" fill="#8a2d85"/>
<polygon points="791.7,205.2 822.3,205.2 837.6,231.6 822.3,258.0 791.7,258.0 776.4,231.6" fill="#88afc2"/>
<polygon points="791.7,258.0 822.3,258.0 837.6,284.4 822.3,310.8 791.7,310.8 776.4,284.4" fill="#8a2d85"/>
<polygon points="791.7,310.8 822.3,310.8 837.6,337.2 822.3,363.7 791.7,363.7 776.4,337.2" fill="#8a2d85"/>
<polygon points="791.7,363.7 822.3,363.7 837.6,390.1 822.3,416.5 791.7,416.5 776.4,390.1" fill="#88afc2"/>
<polygon points="837.6,73.2 868.2,73.2 883.5,99.6 868.2,126.0 837.6,126.0 822.3,99.6" fill="#8a2d85"/>
<polygon points="837.6,126.0 868.2,126.0 883.5,152.4 868.2,178.8 837.6,178.8 822.3,152.4" fill="#88afc2"/>
<polygon points="837.6,178.8 868.2,178.8 883.5,205.2 868.2,231.6 837.6,231.6 822.3,205.2" fill="#8a2d85"/>
<polygon points="837.6,231.6 868.2,231.6 883.5,258.0 868.2,284.4 837.6,284.4 822.3,258.0" fill="#8a2d85"/>
<polygon points="837.6,284.4 868.2,284.4 883.5,310.8 868.2,337.2 837.6,337.2 822.3,310.8" fill="#88afc2"/>
<polygon points="837.6,337.2 868.2,337.2 883.5,363.7 868.2,390.1 837.6,390.1 822.3,363.7" fill="#8a2d85"/>
<polygon points="883.5,46.8 914.1,46.8 929.4,73.2 914.1,99.6 883.5,99.6 868.2,73.2" fill="#88afc2"/>
<polygon points="883.5,99.6 914.1,99.6 929.4,126.0 914.1,152.4 883.5,152.4 868.2,126.0" fill="#8a2d85"/>
<polygon points="883.5,152.4 914.1,152.4 929.4,178.8 914.1,205.2 883.5,205.2 868.2,178.8" fill="#8a2d85"/>
<polygon points="883.5,205.2 914.1,205.2 929.4,231.6 914.1,258.0 883.5,258.0 868.2,231.6" fill="#88afc2"/>
<polygon points="883.5,258.0 914.1,258.0 929.4,284.4 914.1,310.8 883.5,310.8 868.2,284.4" fill="#8a2d85"/>
<polygon points="883.5,310.8 914.1,310.8 929.4,337.2 914.1,363.7 883.5,363.7 868.2,337.2" fill="#8a2d85"/>
<polygon points="883.5,363.7 914.1,363.7 929.4,390.1 914.1,416.5 883.5,416.5 868.2,390.1" fill="#88afc2"/>
<polygon points="929.4,73.2 960.0,73.2 975.3,99.6 960.0,126.0 929.4,126.0 914.1,99.6" fill="#8a2d85"/>
<polygon points="929.4,126.0 960.0,126.0 975.3,152.4 960.0,178.8 929.4,178.8 914.1,152.4" fill="#88afc2"/>
<polygon points="929.4,178.8 960.0,178.8 975.3,205.2 960.0,231.6 929.4,231.6 914.1,205.2" fill="#8a2d85"/>
<polygon points="929.4,231.6 960.0,231.6 975.3,258.0 960.0,284.4 929.4,284.4 914.1,258.0" fill="#8a2d85"/>
<polygon points="929.4,284.4 960.0,284.4 975.3,310.8 960.0,337.2 929.4,337.2 914.1,310.8" fill="#88afc2"/>
<polygon points="929.4,337.2 960.0,337.2 975.3,363.7 960.0,390.1 929.4,390.1 914.1,363.7" fill="#8a2d85"/>
<polygon points="684.6,73.2 699.9,99.6 684.6,126.0" fill="#622a5e"/>
<polygon points="684.6,73.2 638.7,99.6 684.6,126.0" fill="#b033a8"/>
<polygon points="654.0,73.2 638.7,99.6 654.0,126.0" fill="#000" fill-opacity="0.09"/>
<polygon points="684.6,126.0 699.9,152.4 684.6,178.8" fill="#5f7f8e"/>
<polygon points="684.6,126.0 638.7,152.4 684.6,178.8" fill="#aadcf0"/>
<polygon points="654.0,126.0 638.7,152.4 654.0,178.8" fill="#000" fill-opacity="0.09"/>
<polygon points="684.6,178.8 699.9,205.2 684.6,231.6" fill="#622a5e"/>
<polygon points="684.6,178.8 638.7,205.2 684.6,231.6" fill="#b033a8"/>
<polygon points="654.0,178.8 638.7,205.2 654.0,231.6" fill="#000" fill-opacity="0.09"/>
<polygon points="684.6,231.6 699.9,258.0 684.6,284.4" fill="#622a5e"/>
<polygon points="684.6,231.6 638.7,258.0 684.6,284.4" fill="#b033a8"/>
<polygon points="654.0,231.6 638.7,258.0 654.0,284.4" fill="#000" fill-opacity="0.09"/>
<polygon points="684.6,284.4 699.9,310.8 684.6,337.2" fill="#5f7f8e"/>
<polygon points="684.6,284.4 638.7,310.8 684.6,337.2" fill="#aadcf0"/>
<polygon points="654.0,284.4 638.7,310.8 654.0,337.2" fill="#000" fill-opacity="0.09"/>
<polygon points="684.6,337.2 699.9,363.7 684.6,390.1" fill="#622a5e"/>
<polygon points="684.6,337.2 638.7,363.7 684.6,390.1" fill="#b033a8"/>
<polygon points="654.0,337.2 638.7,363.7 654.0,390.1" fill="#000" fill-opacity="0.09"/>
<polygon points="730.5,46.8 745.8,73.2 730.5,99.6" fill="#5f7f8e"/>
<polygon points="730.5,46.8 684.6,73.2 730.5,99.6" fill="#aadcf0"/>
<polygon points="699.9,46.8 684.6,73.2 699.9,99.6" fill="#000" fill-opacity="0.09"/>
<polygon points="730.5,99.6 745.8,126.0 730.5,152.4" fill="#622a5e"/>
<polygon points="730.5,99.6 684.6,126.0 730.5,152.4" fill="#b033a8"/>
<polygon points="699.9,99.6 684.6,126.0 699.9,152.4" fill="#000" fill-opacity="0.09"/>
<polygon points="730.5,152.4 745.8,178.8 730.5,205.2" fill="#622a5e"/>
<polygon points="730.5,152.4 684.6,178.8 730.5,205.2" fill="#b033a8"/>
<polygon points="699.9,152.4 684.6,178.8 699.9,205.2" fill="#000" fill-opacity="0.09"/>
<polygon points="730.5,205.2 745.8,231.6 730.5,258.0" fill="#5f7f8e"/>
<polygon points="730.5,205.2 684.6,231.6 730.5,258.0" fill="#aadcf0"/>
<polygon points="699.9,205.2 684.6,231.6 699.9,258.0" fill="#000" fill-opacity="0.09"/>
<polygon points="730.5,258.0 745.8,284.4 730.5,310.8" fill="#622a5e"/>
<polygon points="730.5,258.0 684.6,284.4 730.5,310.8" fill="#b033a8"/>
<polygon points="699.9,258.0 684.6,284.4 699.9,310.8" fill="#000" fill-opacity="0.09"/>
<polygon points="730.5,310.8 745.8,337.2 730.5,363.7" fill="#622a5e"/>
<polygon points="730.5,310.8 684.6,337.2 730.5,363.7" fill="#b033a8"/>
<polygon points="699.9,310.8 684.6,337.2 699.9,363.7" fill="#000" fill-opacity="0.09"/>
<polygon points="730.5,363.7 745.8,390.1 730.5,416.5" fill="#5f7f8e"/>
<polygon points="730.5,363.7 684.6,390.1 730.5,416.5" fill="#aadcf0"/>
<polygon points="699.9,363.7 684.6,390.1 699.9,416.5" fill="#000" fill-opacity="0.09"/>
<polygon points="776.4,73.2 791.7,99.6 776.4,126.0" fill="#622a5e"/>
<polygon points="776.4,73.2 730.5,99.6 776.4,126.0" fill="#b033a8"/>
<polygon points="745.8,73.2 730.5,99.6 745.8,126.0" fill="#000" fill-opacity="0.09"/>
<polygon points="776.4,126.0 791.7,152.4 776.4,178.8" fill="#5f7f8e"/>
<polygon points="776.4,126.0 730.5,152.4 776.4,178.8" fill="#aadcf0"/>
<polygon points="745.8,126.0 730.5,152.4 745.8,178.8" fill="#000" fill-opacity="0.09"/>
<polygon points="776.4,178.8 791.7,205.2 776.4,231.6" fill="#622a5e"/>
<polygon points="776.4,178.8 730.5,205.2 776.4,231.6" fill="#b033a8"/>
<polygon points="745.8,178.8 730.5,205.2 745.8,231.6" fill="#000" fill-opacity="0.09"/>
<polygon points="776.4,231.6 791.7,258.0 776.4,284.4" fill="#622a5e"/>
<polygon points="776.4,231.6 730.5,258.0 776.4,284.4" fill="#b033a8"/>
<polygon points="745.8,231.6 730.5,258.0 745.8,284.4" fill="#000" fill-opacity="0.09"/>
<polygon points="776.4,284.4 791.7,310.8 776.4,337.2" fill="#5f7f8e"/>
<polygon points="776.4,284.4 730.5,310.8 776.4,337.2" fill="#aadcf0"/>
<polygon points="745.8,284.4 730.5,310.8 745.8,337.2" fill="#000" fill-opacity="0.09"/>
<polygon points="776.4,337.2 791.7,363.7 776.4,390.1" fill="#622a5e"/>
<polygon points="776.4,337.2 730.5,363.7 776.4,390.1" fill="#b033a8"/>
<polygon points="745.8,337.2 730.5,363.7 745.8,390.1" fill="#000" fill-opacity="0.09"/>
<polygon points="822.3,46.8 837.6,73.2 822.3,99.6" fill="#5f7f8e"/>
<polygon points="822.3,46.8 776.4,73.2 822.3,99.6" fill="#aadcf0"/>
<polygon points="791.7,46.8 776.4,73.2 791.7,99.6" fill="#000" fill-opacity="0.09"/>
<polygon points="822.3,99.6 837.6,126.0 822.3,152.4" fill="#622a5e"/>
<polygon points="822.3,99.6 776.4,126.0 822.3,152.4" fill="#b033a8"/>
<polygon points="791.7,99.6 776.4,126.0 791.7,152.4" fill="#000" fill-opacity="0.09"/>
<polygon points="822.3,152.4 837.6,178.8 822.3,205.2" fill="#622a5e"/>
<polygon points="822.3,152.4 776.4,178.8 822.3,205.2" fill="#b033a8"/>
<polygon points="791.7,152.4 776.4,178.8 791.7,205.2" fill="#000" fill-opacity="0.09"/>
<polygon points="822.3,205.2 837.6,231.6 822.3,258.0" fill="#5f7f8e"/>
<polygon points="822.3,205.2 776.4,231.6 822.3,258.0" fill="#aadcf0"/>
<polygon points="791.7,205.2 776.4,231.6 791.7,258.0" fill="#000" fill-opacity="0.09"/>
<polygon points="822.3,258.0 837.6,284.4 822.3,310.8" fill="#622a5e"/>
<polygon points="822.3,258.0 776.4,284.4 822.3,310.8" fill="#b033a8"/>
<polygon points="791.7,258.0 776.4,284.4 791.7,310.8" fill="#000" fill-opacity="0.09"/>
<polygon points="822.3,310.8 837.6,337.2 822.3,363.7" fill="#622a5e"/>
<polygon points="822.3,310.8 776.4,337.2 822.3,363.7" fill="#b033a8"/>
<polygon points="791.7,310.8 776.4,337.2 791.7,363.7" fill="#000" fill-opacity="0.09"/>
<polygon points="822.3,363.7 837.6,390.1 822.3,416.5" fill="#5f7f8e"/>
<polygon points="822.3,363.7 776.4,390.1 822.3,416.5" fill="#aadcf0"/>
<polygon points="791.7,363.7 776.4,390.1 791.7,416.5" fill="#000" fill-opacity="0.09"/>
<polygon points="868.2,73.2 883.5,99.6 868.2,126.0" fill="#622a5e"/>
<polygon points="868.2,73.2 822.3,99.6 868.2,126.0" fill="#b033a8"/>
<polygon points="837.6,73.2 822.3,99.6 837.6,126.0" fill="#000" fill-opacity="0.09"/>
<polygon points="868.2,126.0 883.5,152.4 868.2,178.8" fill="#5f7f8e"/>
<polygon points="868.2,126.0 822.3,152.4 868.2,178.8" fill="#aadcf0"/>
<polygon points="837.6,126.0 822.3,152.4 837.6,178.8" fill="#000" fill-opacity="0.09"/>
<polygon points="868.2,178.8 883.5,205.2 868.2,231.6" fill="#622a5e"/>
<polygon points="868.2,178.8 822.3,205.2 868.2,231.6" fill="#b033a8"/>
<polygon points="837.6,178.8 822.3,205.2 837.6,231.6" fill="#000" fill-opacity="0.09"/>
<polygon points="868.2,231.6 883.5,258.0 868.2,284.4" fill="#622a5e"/>
<polygon points="868.2,231.6 822.3,258.0 868.2,284.4" fill="#b033a8"/>
<polygon points="837.6,231.6 822.3,258.0 837.6,284.4" fill="#000" fill-opacity="0.09"/>
<polygon points="868.2,284.4 883.5,310.8 868.2,337.2" fill="#5f7f8e"/>
<polygon points="868.2,284.4 822.3,310.8 868.2,337.2" fill="#aadcf0"/>
<polygon points="837.6,284.4 822.3,310.8 837.6,337.2" fill="#000" fill-opacity="0.09"/>
<polygon points="868.2,337.2 883.5,363.7 868.2,390.1" fill="#622a5e"/>
<polygon points="868.2,337.2 822.3,363.7 868.2,390.1" fill="#b033a8"/>
<polygon points="837.6,337.2 822.3,363.7 837.6,390.1" fill="#000" fill-opacity="0.09"/>
<polygon points="914.1,46.8 929.4,73.2 914.1,99.6" fill="#5f7f8e"/>
<polygon points="914.1,46.8 868.2,73.2 914.1,99.6" fill="#aadcf0"/>
<polygon points="883.5,46.8 868.2,73.2 883.5,99.6" fill="#000" fill-opacity="0.09"/>
<polygon points="914.1,99.6 929.4,126.0 914.1,152.4" fill="#622a5e"/>
<polygon points="914.1,99.6 868.2,126.0 914.1,152.4" fill="#b033a8"/>
<polygon points="883.5,99.6 868.2,126.0 883.5,152.4" fill="#000" fill-opacity="0.09"/>
<polygon points="914.1,152.4 929.4,178.8 914.1,205.2" fill="#622a5e"/>
<polygon points="914.1,152.4 868.2,178.8 914.1,205.2" fill="#b033a8"/>
<polygon points="883.5,152.4 868.2,178.8 883.5,205.2" fill="#000" fill-opacity="0.09"/>
<polygon points="914.1,205.2 929.4,231.6 914.1,258.0" fill="#5f7f8e"/>
<polygon points="914.1,205.2 868.2,231.6 914.1,258.0" fill="#aadcf0"/>
<polygon points="883.5,205.2 868.2,231.6 883.5,258.0" fill="#000" fill-opacity="0.09"/>
<polygon points="914.1,258.0 929.4,284.4 914.1,310.8" fill="#622a5e"/>
<polygon points="914.1,258.0 868.2,284.4 914.1,310.8" fill="#b033a8"/>
<polygon points="883.5,258.0 868.2,284.4 883.5,310.8" fill="#000" fill-opacity="0.09"/>
<polygon points="914.1,310.8 929.4,337.2 914.1,363.7" fill="#622a5e"/>
<polygon points="914.1,310.8 868.2,337.2 914.1,363.7" fill="#b033a8"/>
<polygon points="883.5,310.8 868.2,337.2 883.5,363.7" fill="#000" fill-opacity="0.09"/>
<polygon points="914.1,363.7 929.4,390.1 914.1,416.5" fill="#5f7f8e"/>
<polygon points="914.1,363.7 868.2,390.1 914.1,416.5" fill="#aadcf0"/>
<polygon points="883.5,363.7 868.2,390.1 883.5,416.5" fill="#000" fill-opacity="0.09"/>
<polygon points="960.0,73.2 975.3,99.6 960.0,126.0" fill="#622a5e"/>
<polygon points="960.0,73.2 914.1,99.6 960.0,126.0" fill="#b033a8"/>
<polygon points="929.4,73.2 914.1,99.6 929.4,126.0" fill="#000" fill-opacity="0.09"/>
<polygon points="960.0,126.0 975.3,152.4 960.0,178.8" fill="#5f7f8e"/>
<polygon points="960.0,126.0 914.1,152.4 960.0,178.8" fill="#aadcf0"/>
<polygon points="929.4,126.0 914.1,152.4 929.4,178.8" fill="#000" fill-opacity="0.09"/>
<polygon points="960.0,178.8 975.3,205.2 960.0,231.6" fill="#622a5e"/>
<polygon points="960.0,178.8 914.1,205.2 960.0,231.6" fill="#b033a8"/>
<polygon points="929.4,178.8 914.1,205.2 929.4,231.6" fill="#000" fill-opacity="0.09"/>
<polygon points="960.0,231.6 975.3,258.0 960.0,284.4" fill="#622a5e"/>
<polygon points="960.0,231.6 914.1,258.0 960.0,284.4" fill="#b033a8"/>
<polygon points="929.4,231.6 914.1,258.0 929.4,284.4" fill="#000" fill-opacity="0.09"/>
<polygon points="960.0,284.4 975.3,310.8 960.0,337.2" fill="#5f7f8e"/>
<polygon points="960.0,284.4 914.1,310.8 960.0,337.2" fill="#aadcf0"/>
<polygon points="929.4,284.4 914.1,310.8 929.4,337.2" fill="#000" fill-opacity="0.09"/>
<polygon points="960.0,337.2 975.3,363.7 960.0,390.1" fill="#622a5e"/>
<polygon points="960.0,337.2 914.1,363.7 960.0,390.1" fill="#b033a8"/>
<polygon points="929.4,337.2 914.1,363.7 929.4,390.1" fill="#000" fill-opacity="0.09"/>
</g>
<circle cx="654.0" cy="73.2" r="2.7" fill="url(#gO)"/>
<circle cx="699.9" cy="99.6" r="2.7" fill="url(#gO)"/>
<circle cx="654.0" cy="126.0" r="2.7" fill="url(#gO)"/>
<circle cx="699.9" cy="152.4" r="2.7" fill="url(#gO)"/>
<circle cx="654.0" cy="178.8" r="2.7" fill="url(#gO)"/>
<circle cx="699.9" cy="205.2" r="2.7" fill="url(#gO)"/>
<circle cx="654.0" cy="231.6" r="2.7" fill="url(#gO)"/>
<circle cx="699.9" cy="258.0" r="2.7" fill="url(#gO)"/>
<circle cx="654.0" cy="284.4" r="2.7" fill="url(#gO)"/>
<circle cx="699.9" cy="310.8" r="2.7" fill="url(#gO)"/>
<circle cx="654.0" cy="337.2" r="2.7" fill="url(#gO)"/>
<circle cx="699.9" cy="363.7" r="2.7" fill="url(#gO)"/>
<circle cx="654.0" cy="390.1" r="2.7" fill="url(#gO)"/>
<circle cx="699.9" cy="46.8" r="2.7" fill="url(#gO)"/>
<circle cx="745.8" cy="73.2" r="2.7" fill="url(#gO)"/>
<circle cx="745.8" cy="126.0" r="2.7" fill="url(#gO)"/>
<circle cx="745.8" cy="178.8" r="2.7" fill="url(#gO)"/>
<circle cx="745.8" cy="231.6" r="2.7" fill="url(#gO)"/>
<circle cx="745.8" cy="284.4" r="2.7" fill="url(#gO)"/>
<circle cx="745.8" cy="337.2" r="2.7" fill="url(#gO)"/>
<circle cx="745.8" cy="390.1" r="2.7" fill="url(#gO)"/>
<circle cx="699.9" cy="416.5" r="2.7" fill="url(#gO)"/>
<circle cx="791.7" cy="99.6" r="2.7" fill="url(#gO)"/>
<circle cx="791.7" cy="152.4" r="2.7" fill="url(#gO)"/>
<circle cx="791.7" cy="205.2" r="2.7" fill="url(#gO)"/>
<circle cx="791.7" cy="258.0" r="2.7" fill="url(#gO)"/>
<circle cx="791.7" cy="310.8" r="2.7" fill="url(#gO)"/>
<circle cx="791.7" cy="363.7" r="2.7" fill="url(#gO)"/>
<circle cx="791.7" cy="46.8" r="2.7" fill="url(#gO)"/>
<circle cx="837.6" cy="73.2" r="2.7" fill="url(#gO)"/>
<circle cx="837.6" cy="126.0" r="2.7" fill="url(#gO)"/>
<circle cx="837.6" cy="178.8" r="2.7" fill="url(#gO)"/>
<circle cx="837.6" cy="231.6" r="2.7" fill="url(#gO)"/>
<circle cx="837.6" cy="284.4" r="2.7" fill="url(#gO)"/>
<circle cx="837.6" cy="337.2" r="2.7" fill="url(#gO)"/>
<circle cx="837.6" cy="390.1" r="2.7" fill="url(#gO)"/>
<circle cx="791.7" cy="416.5" r="2.7" fill="url(#gO)"/>
<circle cx="883.5" cy="99.6" r="2.7" fill="url(#gO)"/>
<circle cx="883.5" cy="152.4" r="2.7" fill="url(#gO)"/>
<circle cx="883.5" cy="205.2" r="2.7" fill="url(#gO)"/>
<circle cx="883.5" cy="258.0" r="2.7" fill="url(#gO)"/>
<circle cx="883.5" cy="310.8" r="2.7" fill="url(#gO)"/>
<circle cx="883.5" cy="363.7" r="2.7" fill="url(#gO)"/>
<circle cx="883.5" cy="46.8" r="2.7" fill="url(#gO)"/>
<circle cx="929.4" cy="73.2" r="2.7" fill="url(#gO)"/>
<circle cx="929.4" cy="126.0" r="2.7" fill="url(#gO)"/>
<circle cx="929.4" cy="178.8" r="2.7" fill="url(#gO)"/>
<circle cx="929.4" cy="231.6" r="2.7" fill="url(#gO)"/>
<circle cx="929.4" cy="284.4" r="2.7" fill="url(#gO)"/>
<circle cx="929.4" cy="337.2" r="2.7" fill="url(#gO)"/>
<circle cx="929.4" cy="390.1" r="2.7" fill="url(#gO)"/>
<circle cx="883.5" cy="416.5" r="2.7" fill="url(#gO)"/>
<circle cx="975.3" cy="99.6" r="2.7" fill="url(#gO)"/>
<circle cx="975.3" cy="152.4" r="2.7" fill="url(#gO)"/>
<circle cx="975.3" cy="205.2" r="2.7" fill="url(#gO)"/>
<circle cx="975.3" cy="258.0" r="2.7" fill="url(#gO)"/>
<circle cx="975.3" cy="310.8" r="2.7" fill="url(#gO)"/>
<circle cx="975.3" cy="363.7" r="2.7" fill="url(#gO)"/>
<circle cx="669.3" cy="99.6" r="9.8" fill="url(#gTM)"/>
<circle cx="667.3" cy="98.1" r="5" fill="url(#gHiP)"/>
<circle cx="669.3" cy="152.4" r="7.2" fill="url(#gSB)"/>
<circle cx="669.3" cy="205.2" r="9.8" fill="url(#gTM)"/>
<circle cx="667.3" cy="203.7" r="5" fill="url(#gHiP)"/>
<circle cx="669.3" cy="258.0" r="9.8" fill="url(#gTM)"/>
<circle cx="667.3" cy="256.5" r="5" fill="url(#gHiP)"/>
<circle cx="669.3" cy="310.8" r="7.2" fill="url(#gSB)"/>
<circle cx="669.3" cy="363.7" r="9.8" fill="url(#gTM)"/>
<circle cx="667.3" cy="362.2" r="5" fill="url(#gHiP)"/>
<circle cx="715.2" cy="73.2" r="7.2" fill="url(#gSB)"/>
<circle cx="715.2" cy="126.0" r="9.8" fill="url(#gTM)"/>
<circle cx="713.2" cy="124.5" r="5" fill="url(#gHiP)"/>
<circle cx="715.2" cy="178.8" r="9.8" fill="url(#gTM)"/>
<circle cx="713.2" cy="177.3" r="5" fill="url(#gHiP)"/>
<circle cx="715.2" cy="231.6" r="7.2" fill="url(#gSB)"/>
<circle cx="715.2" cy="284.4" r="9.8" fill="url(#gTM)"/>
<circle cx="713.2" cy="282.9" r="5" fill="url(#gHiP)"/>
<circle cx="715.2" cy="337.2" r="9.8" fill="url(#gTM)"/>
<circle cx="713.2" cy="335.8" r="5" fill="url(#gHiP)"/>
<circle cx="715.2" cy="390.1" r="7.2" fill="url(#gSB)"/>
<circle cx="761.1" cy="99.6" r="9.8" fill="url(#gTM)"/>
<circle cx="759.1" cy="98.1" r="5" fill="url(#gHiP)"/>
<circle cx="761.1" cy="152.4" r="7.2" fill="url(#gSB)"/>
<circle cx="761.1" cy="205.2" r="9.8" fill="url(#gTM)"/>
<circle cx="759.1" cy="203.7" r="5" fill="url(#gHiP)"/>
<circle cx="761.1" cy="258.0" r="9.8" fill="url(#gTM)"/>
<circle cx="759.1" cy="256.5" r="5" fill="url(#gHiP)"/>
<circle cx="761.1" cy="310.8" r="7.2" fill="url(#gSB)"/>
<circle cx="761.1" cy="363.7" r="9.8" fill="url(#gTM)"/>
<circle cx="759.1" cy="362.2" r="5" fill="url(#gHiP)"/>
<circle cx="807.0" cy="73.2" r="7.2" fill="url(#gSB)"/>
<circle cx="807.0" cy="126.0" r="9.8" fill="url(#gTM)"/>
<circle cx="805.0" cy="124.5" r="5" fill="url(#gHiP)"/>
<circle cx="807.0" cy="178.8" r="9.8" fill="url(#gTM)"/>
<circle cx="805.0" cy="177.3" r="5" fill="url(#gHiP)"/>
<circle cx="807.0" cy="231.6" r="7.2" fill="url(#gSB)"/>
<circle cx="807.0" cy="284.4" r="9.8" fill="url(#gTM)"/>
<circle cx="805.0" cy="282.9" r="5" fill="url(#gHiP)"/>
<circle cx="807.0" cy="337.2" r="9.8" fill="url(#gTM)"/>
<circle cx="805.0" cy="335.8" r="5" fill="url(#gHiP)"/>
<circle cx="807.0" cy="390.1" r="7.2" fill="url(#gSB)"/>
<circle cx="852.9" cy="99.6" r="9.8" fill="url(#gTM)"/>
<circle cx="850.9" cy="98.1" r="5" fill="url(#gHiP)"/>
<circle cx="852.9" cy="152.4" r="7.2" fill="url(#gSB)"/>
<circle cx="852.9" cy="205.2" r="9.8" fill="url(#gTM)"/>
<circle cx="850.9" cy="203.7" r="5" fill="url(#gHiP)"/>
<circle cx="852.9" cy="258.0" r="9.8" fill="url(#gTM)"/>
<circle cx="850.9" cy="256.5" r="5" fill="url(#gHiP)"/>
<circle cx="852.9" cy="310.8" r="7.2" fill="url(#gSB)"/>
<circle cx="852.9" cy="363.7" r="9.8" fill="url(#gTM)"/>
<circle cx="850.9" cy="362.2" r="5" fill="url(#gHiP)"/>
<circle cx="898.8" cy="73.2" r="7.2" fill="url(#gSB)"/>
<circle cx="898.8" cy="126.0" r="9.8" fill="url(#gTM)"/>
<circle cx="896.8" cy="124.5" r="5" fill="url(#gHiP)"/>
<circle cx="898.8" cy="178.8" r="9.8" fill="url(#gTM)"/>
<circle cx="896.8" cy="177.3" r="5" fill="url(#gHiP)"/>
<circle cx="898.8" cy="231.6" r="7.2" fill="url(#gSB)"/>
<circle cx="898.8" cy="284.4" r="9.8" fill="url(#gTM)"/>
<circle cx="896.8" cy="282.9" r="5" fill="url(#gHiP)"/>
<circle cx="898.8" cy="337.2" r="9.8" fill="url(#gTM)"/>
<circle cx="896.8" cy="335.8" r="5" fill="url(#gHiP)"/>
<circle cx="898.8" cy="390.1" r="7.2" fill="url(#gSB)"/>
<circle cx="944.7" cy="99.6" r="9.8" fill="url(#gTM)"/>
<circle cx="942.7" cy="98.1" r="5" fill="url(#gHiP)"/>
<circle cx="944.7" cy="152.4" r="7.2" fill="url(#gSB)"/>
<circle cx="944.7" cy="205.2" r="9.8" fill="url(#gTM)"/>
<circle cx="942.7" cy="203.7" r="5" fill="url(#gHiP)"/>
<circle cx="944.7" cy="258.0" r="9.8" fill="url(#gTM)"/>
<circle cx="942.7" cy="256.5" r="5" fill="url(#gHiP)"/>
<circle cx="944.7" cy="310.8" r="7.2" fill="url(#gSB)"/>
<circle cx="944.7" cy="363.7" r="9.8" fill="url(#gTM)"/>
<circle cx="942.7" cy="362.2" r="5" fill="url(#gHiP)"/>
<circle cx="684.6" cy="73.2" r="4.9" fill="url(#gO)"/>
<circle cx="638.7" cy="99.6" r="4.9" fill="url(#gO)"/>
<circle cx="684.6" cy="126.0" r="4.9" fill="url(#gO)"/>
<circle cx="638.7" cy="152.4" r="4.9" fill="url(#gO)"/>
<circle cx="684.6" cy="178.8" r="4.9" fill="url(#gO)"/>
<circle cx="638.7" cy="205.2" r="4.9" fill="url(#gO)"/>
<circle cx="684.6" cy="231.6" r="4.9" fill="url(#gO)"/>
<circle cx="638.7" cy="258.0" r="4.9" fill="url(#gO)"/>
<circle cx="684.6" cy="284.4" r="4.9" fill="url(#gO)"/>
<circle cx="638.7" cy="310.8" r="4.9" fill="url(#gO)"/>
<circle cx="684.6" cy="337.2" r="4.9" fill="url(#gO)"/>
<circle cx="638.7" cy="363.7" r="4.9" fill="url(#gO)"/>
<circle cx="684.6" cy="390.1" r="4.9" fill="url(#gO)"/>
<circle cx="730.5" cy="46.8" r="4.9" fill="url(#gO)"/>
<circle cx="730.5" cy="99.6" r="4.9" fill="url(#gO)"/>
<circle cx="730.5" cy="152.4" r="4.9" fill="url(#gO)"/>
<circle cx="730.5" cy="205.2" r="4.9" fill="url(#gO)"/>
<circle cx="730.5" cy="258.0" r="4.9" fill="url(#gO)"/>
<circle cx="730.5" cy="310.8" r="4.9" fill="url(#gO)"/>
<circle cx="730.5" cy="363.7" r="4.9" fill="url(#gO)"/>
<circle cx="730.5" cy="416.5" r="4.9" fill="url(#gO)"/>
<circle cx="776.4" cy="73.2" r="4.9" fill="url(#gO)"/>
<circle cx="776.4" cy="126.0" r="4.9" fill="url(#gO)"/>
<circle cx="776.4" cy="178.8" r="4.9" fill="url(#gO)"/>
<circle cx="776.4" cy="231.6" r="4.9" fill="url(#gO)"/>
<circle cx="776.4" cy="284.4" r="4.9" fill="url(#gO)"/>
<circle cx="776.4" cy="337.2" r="4.9" fill="url(#gO)"/>
<circle cx="776.4" cy="390.1" r="4.9" fill="url(#gO)"/>
<circle cx="822.3" cy="46.8" r="4.9" fill="url(#gO)"/>
<circle cx="822.3" cy="99.6" r="4.9" fill="url(#gO)"/>
<circle cx="822.3" cy="152.4" r="4.9" fill="url(#gO)"/>
<circle cx="822.3" cy="205.2" r="4.9" fill="url(#gO)"/>
<circle cx="822.3" cy="258.0" r="4.9" fill="url(#gO)"/>
<circle cx="822.3" cy="310.8" r="4.9" fill="url(#gO)"/>
<circle cx="822.3" cy="363.7" r="4.9" fill="url(#gO)"/>
<circle cx="822.3" cy="416.5" r="4.9" fill="url(#gO)"/>
<circle cx="868.2" cy="73.2" r="4.9" fill="url(#gO)"/>
<circle cx="868.2" cy="126.0" r="4.9" fill="url(#gO)"/>
<circle cx="868.2" cy="178.8" r="4.9" fill="url(#gO)"/>
<circle cx="868.2" cy="231.6" r="4.9" fill="url(#gO)"/>
<circle cx="868.2" cy="284.4" r="4.9" fill="url(#gO)"/>
<circle cx="868.2" cy="337.2" r="4.9" fill="url(#gO)"/>
<circle cx="868.2" cy="390.1" r="4.9" fill="url(#gO)"/>
<circle cx="914.1" cy="46.8" r="4.9" fill="url(#gO)"/>
<circle cx="914.1" cy="99.6" r="4.9" fill="url(#gO)"/>
<circle cx="914.1" cy="152.4" r="4.9" fill="url(#gO)"/>
<circle cx="914.1" cy="205.2" r="4.9" fill="url(#gO)"/>
<circle cx="914.1" cy="258.0" r="4.9" fill="url(#gO)"/>
<circle cx="914.1" cy="310.8" r="4.9" fill="url(#gO)"/>
<circle cx="914.1" cy="363.7" r="4.9" fill="url(#gO)"/>
<circle cx="914.1" cy="416.5" r="4.9" fill="url(#gO)"/>
<circle cx="960.0" cy="73.2" r="4.9" fill="url(#gO)"/>
<circle cx="960.0" cy="126.0" r="4.9" fill="url(#gO)"/>
<circle cx="960.0" cy="178.8" r="4.9" fill="url(#gO)"/>
<circle cx="960.0" cy="231.6" r="4.9" fill="url(#gO)"/>
<circle cx="960.0" cy="284.4" r="4.9" fill="url(#gO)"/>
<circle cx="960.0" cy="337.2" r="4.9" fill="url(#gO)"/>
<circle cx="960.0" cy="390.1" r="4.9" fill="url(#gO)"/>
<text x="563.81" y="124.80" font-family="&quot;Liberation Sans&quot;, sans-serif" font-size="22.8" font-weight="normal" font-style="normal" fill="#000" textLength="51.01" lengthAdjust="spacingAndGlyphs" stroke="#fff" stroke-width="0.4">Li/Ni</text>
<text x="550.33" y="168.40" font-family="&quot;Liberation Sans&quot;, sans-serif" font-size="22.8" font-weight="normal" font-style="normal" fill="#000" textLength="73.70" lengthAdjust="spacingAndGlyphs" stroke="#fff" stroke-width="0.4">Co/Mn</text>
<line x1="616.5" y1="120.1" x2="669.4" y2="150.6" stroke="#111" stroke-width="1.2"/>
<line x1="616.5" y1="172.8" x2="669.4" y2="203.5" stroke="#111" stroke-width="1.2"/>
<rect x="123.8" y="505.5" width="72.8" height="316.0" fill="#f0f0f0"/>
<polyline points="97.8,748.9 98.3,749.0 98.8,749.1 99.4,749.1 99.9,749.2 100.4,749.3 100.9,749.4 101.4,749.5 102.0,749.5 102.5,749.6 103.0,749.7 103.5,749.8 104.0,749.8 104.6,749.9 105.1,750.0 105.6,750.1 106.1,750.2 106.6,750.2 107.2,750.3 107.7,750.4 108.2,750.5 108.7,750.5 109.2,750.6 109.8,750.7 110.3,750.8 110.8,750.9 111.3,750.9 111.6,751.0 111.7,751.0 111.8,751.0 111.8,751.0 111.9,751.0 112.0,751.0 112.1,751.0 112.2,751.1 112.3,751.1 112.4,751.1 112.4,751.1 112.5,751.1 112.6,751.1 112.7,751.1 112.8,751.1 112.9,751.2 112.9,751.2 113.0,751.2 113.1,751.2 113.2,751.2 113.3,751.2 113.4,751.2 113.5,751.2 113.6,751.3 113.7,751.3 113.8,751.3 113.9,751.3 113.9,751.3 114.0,751.3 114.1,751.3 114.2,751.3 114.3,751.4 114.4,751.4 114.4,751.4 114.5,751.4 114.6,751.4 114.7,751.4 114.8,751.4 114.9,751.4 115.0,751.5 115.0,751.5 115.1,751.5 115.2,751.5 115.3,751.5 115.4,751.5 115.5,751.5 115.5,751.5 115.6,751.6 115.7,751.6 115.8,751.6 115.9,751.6 116.0,751.6 116.1,751.6 116.2,751.6 116.3,751.6 116.4,751.7 116.5,751.7 116.5,751.7 116.6,751.7 116.7,751.7 116.8,751.7 116.9,751.7 117.0,751.7 117.0,751.8 117.1,751.8 117.2,751.8 117.3,751.8 117.4,751.8 117.5,751.8 117.6,751.8 117.6,751.8 117.7,751.8 117.8,751.9 117.9,751.9 118.0,751.9 118.1,751.9 118.1,751.9 118.2,751.9 118.3,751.9 118.4,751.9 118.5,752.0 118.6,752.0 118.7,752.0 118.8,752.0 118.9,752.0 119.0,752.0 119.1,752.0 119.1,752.0 119.2,752.0 119.3,752.1 119.4,752.1 119.5,752.1 119.6,752.1 119.6,752.1 119.7,752.1 119.8,752.1 119.9,752.2 120.0,752.2 120.1,752.2 120.2,752.2 120.2,752.2 120.3,752.2 120.4,752.2 120.5,752.2 120.6,752.3 120.7,752.3 120.7,752.3 120.8,752.3 120.9,752.3 121.0,752.3 121.1,752.3 121.2,752.3 121.3,752.3 121.4,752.4 121.5,752.4 121.6,752.4 121.7,752.4 121.7,752.4 121.8,752.4 121.9,752.4 122.2,752.5 122.8,752.5 123.3,752.6 123.8,752.6 124.3,752.3 124.8,751.1 125.4,748.9 125.9,747.0 126.4,747.0 126.9,749.0 127.4,750.9 128.0,751.2 128.5,749.7 129.0,747.7 129.5,746.7 130.0,747.5 130.6,749.4 131.1,751.0 131.6,751.7 132.1,751.9 132.6,751.8 133.2,751.7 133.7,751.7 134.2,751.8 134.7,752.0 135.2,752.4 135.8,752.7 136.3,753.1 136.8,753.5 137.3,753.8 137.8,754.0 138.4,754.3 138.9,754.4 139.4,754.5 139.9,754.6 140.4,754.7 141.0,754.8 141.5,754.9 142.0,754.9 142.5,755.0 143.0,755.1 143.6,755.1 144.1,755.2 144.6,755.3 145.1,755.3 145.6,755.4 146.2,755.5 146.7,755.5 147.2,755.6 147.7,755.6 148.2,755.7 148.8,755.8 149.3,755.9 149.8,755.9 150.3,756.0 150.8,756.1 151.4,756.1 151.9,756.2 152.4,756.3 152.9,756.4 153.4,756.4 154.0,756.5 154.5,756.6 155.0,756.6 155.5,756.7 156.0,756.8 156.6,756.9 157.1,756.9 157.6,757.0 158.1,757.1 158.6,757.2 159.2,757.3 159.7,757.3 160.2,757.4 160.7,757.5 161.2,757.6 161.8,757.6 162.3,757.7 162.8,757.8 163.3,757.9 163.8,758.0 164.4,758.0 164.9,758.1 165.4,758.2 165.9,758.3 166.4,758.4 167.0,758.4 167.5,758.5 168.0,758.6 168.5,758.7 169.0,758.8 169.6,758.9 170.1,759.0 170.6,759.0 171.1,759.1 171.6,759.2 172.2,759.3 172.7,759.4 173.2,759.5 173.7,759.6 174.2,759.6 174.8,759.7 175.3,759.8 175.8,759.9 176.3,760.0 176.8,760.1 177.4,760.2 177.9,760.3 178.4,760.4 178.9,760.5 179.4,760.6 180.0,760.6 180.5,760.7 181.0,760.8 181.5,760.9 182.0,761.0 182.6,761.1 183.1,761.2 183.6,761.3 184.1,761.5 184.6,761.6 185.2,761.7 185.7,761.8 186.2,762.0 186.7,762.1 187.2,762.2 187.8,762.4 188.3,762.5 188.8,762.6 189.3,762.7 189.8,762.9 190.4,763.0 190.9,763.1 191.4,763.2 191.9,763.4 192.4,763.5 193.0,763.6 193.5,763.7 194.0,763.7 194.5,763.8 195.0,763.9 195.6,764.0 196.1,764.0 196.6,764.1 197.1,764.1 197.6,764.1 198.2,764.2 198.7,764.2 199.2,764.2 199.7,764.3 200.2,764.3 200.8,764.3 201.3,764.4 201.8,764.4 202.3,764.4 202.8,764.4 203.4,764.5 203.9,764.5 204.4,764.5 204.9,764.6 205.4,764.6 206.0,764.6 206.1,764.6 206.2,764.6 206.3,764.6 206.4,764.6 206.5,764.6 206.6,764.6 206.7,764.6 206.8,764.6 206.9,764.6 207.0,764.6" fill="none" stroke="#ff0000" stroke-width="6.6" stroke-linejoin="round" stroke-linecap="round"/>
<path d="M97.8,748.9 L98.1,748.9 L98.4,748.9 L98.7,749.0 L99.0,749.0 L99.3,749.1 L99.5,749.1 L99.8,749.2 L100.1,749.2 L100.4,749.2 L100.7,749.3 L101.0,749.3 L101.3,749.4 L101.6,749.4 L101.9,749.5 L102.2,749.5 L102.5,749.5 L102.8,749.6 L103.0,749.6 L103.3,749.7 L103.6,749.7 L103.9,749.7 L104.2,749.8 L104.5,749.8 L104.8,749.9 L105.1,749.9 L105.4,749.9 L105.7,750.0 L106.0,750.0 L106.2,750.0 L106.5,750.1 L106.8,750.1 L107.1,750.1 L107.4,750.2 L107.7,750.2 L108.0,750.2 L108.3,750.3 L108.6,750.3 L108.9,750.3 L109.2,750.4 L109.4,750.4 L109.7,750.4 L110.0,750.4 L110.3,750.4 L110.6,750.4 L110.9,750.4 L111.2,750.4 L111.5,750.4 L111.8,750.4 L112.1,750.4 L112.4,750.3 L112.7,750.2 L112.9,750.2 L113.2,750.0 L113.5,749.9 L113.8,749.6 L114.1,749.3 L114.4,748.8 L114.7,748.1 L115.0,747.0 L115.3,745.2 L115.6,742.1 L115.9,735.6 L115.9,734.2 M116.8,514.0 L116.8,514.3 M117.7,734.6 L118.0,742.0 L118.3,745.4 L118.5,747.3 L118.8,748.6 L119.1,749.4 L119.4,750.0 L119.7,750.4 L120.0,750.7 L120.3,751.0 L120.6,751.2 L120.9,751.4 L121.2,751.6 L121.5,751.7 L121.8,751.8 L122.0,751.9 L122.3,752.0 L122.6,752.1 L122.9,752.2 L123.2,752.2 L123.5,752.3 L123.8,752.3 L124.1,752.2 L124.4,751.9 L124.7,751.4 L125.0,750.5 L125.2,749.2 L125.5,747.9 L125.8,746.9 L126.1,746.5 L126.4,746.9 L126.7,747.9 L127.0,749.2 L127.3,750.3 L127.6,751.0 L127.9,751.1 L128.2,750.6 L128.4,749.7 L128.7,748.6 L129.0,747.5 L129.3,746.8 L129.6,746.6 L129.9,747.1 L130.2,747.9 L130.5,749.0 L130.8,750.1 L131.1,750.9 L131.4,751.4 L131.7,751.7 L131.9,751.8 L132.2,751.8 L132.5,751.7 L132.8,751.7 L133.1,751.6 L133.4,751.6 L133.7,751.6 L134.0,751.7 L134.3,751.8 L134.6,751.9 L134.9,752.1 L135.1,752.2 L135.4,752.4 L135.7,752.7 L136.0,752.9 L136.3,753.1 L136.6,753.3 L136.9,753.5 L137.2,753.7 L137.5,753.8 L137.8,754.0 L138.1,754.1 L138.3,754.2 L138.6,754.3 L138.9,754.4 L139.2,754.5 L139.5,754.5 L139.8,754.6 L140.1,754.6 L140.4,754.7 L140.7,754.7 L141.0,754.8 L141.3,754.8 L141.6,754.9 L141.8,754.9 L142.1,754.9 L142.4,755.0 L142.7,755.0 L143.0,755.0 L143.3,755.1 L143.6,755.1 L143.9,755.1 L144.2,755.2 L144.5,755.2 L144.8,755.3 L145.0,755.3 L145.3,755.3 L145.6,755.4 L145.9,755.4 L146.2,755.4 L146.5,755.5 L146.8,755.5 L147.1,755.5 L147.4,755.6 L147.7,755.6 L148.0,755.7 L148.3,755.7 L148.5,755.7 L148.8,755.8 L149.1,755.8 L149.4,755.9 L149.7,755.9 L150.0,755.9 L150.3,756.0 L150.6,756.0 L150.9,756.1 L151.2,756.1 L151.5,756.1 L151.7,756.2 L152.0,756.2 L152.3,756.3 L152.6,756.3 L152.9,756.3 L153.2,756.4 L153.5,756.4 L153.8,756.5 L154.1,756.5 L154.4,756.5 L154.7,756.6 L154.9,756.6 L155.2,756.7 L155.5,756.7 L155.8,756.8 L156.1,756.8 L156.4,756.8 L156.7,756.9 L157.0,756.9 L157.3,757.0 L157.6,757.0 L157.9,757.0 L158.2,757.1 L158.4,757.1 L158.7,757.2 L159.0,757.2 L159.3,757.3 L159.6,757.3 L159.9,757.4 L160.2,757.4 L160.5,757.4 L160.8,757.5 L161.1,757.5 L161.4,757.6 L161.6,757.6 L161.9,757.7 L162.2,757.7 L162.5,757.7 L162.8,757.8 L163.1,757.8 L163.4,757.9 L163.7,757.9 L164.0,758.0 L164.3,758.0 L164.6,758.1 L164.8,758.1 L165.1,758.2 L165.4,758.2 L165.7,758.2 L166.0,758.3 L166.3,758.3 L166.6,758.4 L166.9,758.4 L167.2,758.5 L167.5,758.5 L167.8,758.6 L168.1,758.6 L168.3,758.7 L168.6,758.7 L168.9,758.8 L169.2,758.8 L169.5,758.8 L169.8,758.9 L170.1,758.9 L170.4,759.0 L170.7,759.0 L171.0,759.1 L171.3,759.1 L171.5,759.2 L171.8,759.2 L172.1,759.3 L172.4,759.3 L172.7,759.4 L173.0,759.4 L173.3,759.5 L173.6,759.5 L173.9,759.6 L174.2,759.6 L174.5,759.7 L174.7,759.7 L175.0,759.8 L175.3,759.8 L175.6,759.9 L175.9,759.9 L176.2,760.0 L176.5,760.0 L176.8,760.1 L177.1,760.1 L177.4,760.2 L177.7,760.2 L178.0,760.3 L178.2,760.3 L178.5,760.4 L178.8,760.4 L179.1,760.5 L179.4,760.5 L179.7,760.6 L180.0,760.6 L180.3,760.7 L180.6,760.7 L180.9,760.8 L181.2,760.9 L181.4,760.9 L181.7,761.0 L182.0,761.0 L182.3,761.1 L182.6,761.1 L182.9,761.2 L183.2,761.2 L183.5,761.3 L183.8,761.4 L184.1,761.4 L184.4,761.5 L184.7,761.6 L184.9,761.6 L185.2,761.7 L185.5,761.8 L185.8,761.8 L186.1,761.9 L186.4,762.0 L186.7,762.1 L187.0,762.1 L187.3,762.2 L187.6,762.3 L187.9,762.4 L188.1,762.4 L188.4,762.5 L188.7,762.6 L189.0,762.7 L189.3,762.7 L189.6,762.8 L189.9,762.9 L190.2,762.9 L190.5,763.0 L190.8,763.1 L191.1,763.1 L191.3,763.2 L191.6,763.3 L191.9,763.3 L192.2,763.4 L192.5,763.5 L192.8,763.5 L193.1,763.6 L193.4,763.6 L193.7,763.7 L194.0,763.7 L194.3,763.8 L194.6,763.8 L194.8,763.9 L195.1,763.9 L195.4,763.9 L195.7,764.0 L196.0,764.0 L196.3,764.0 L196.6,764.0 L196.9,764.1 L197.2,764.1 L197.5,764.1 L197.8,764.1 L198.0,764.1 L198.3,764.2 L198.6,764.2 L198.9,764.2 L199.2,764.2 L199.5,764.2 L199.8,764.2 L200.1,764.3 L200.4,764.3 L200.7,764.3 L201.0,764.3 L201.2,764.3 L201.5,764.3 L201.8,764.3 L202.1,764.4 L202.4,764.4 L202.7,764.4 L203.0,764.4 L203.3,764.4 L203.6,764.4 L203.9,764.4 L204.2,764.4 L204.5,764.4 L204.7,764.4 L205.0,764.4 L205.3,764.4 L205.6,764.4 L205.9,764.4 L206.2,764.4 L206.5,764.4 L206.8,764.4 L207.1,764.4 L207.4,764.4 L207.7,764.3 L207.9,764.3 L208.2,764.2 L208.5,764.1 L208.8,764.0 L209.1,763.8 L209.4,763.5 L209.7,763.0 L210.0,762.2 L210.3,760.2 L210.6,753.2 M211.1,704.5 L211.2,705.2 M211.8,753.9 L212.1,760.4 L212.4,762.3 L212.6,763.1 L212.9,763.6 L213.2,763.9 L213.5,764.1 L213.8,764.3 L214.1,764.4 L214.4,764.4 L214.7,764.5 L215.0,764.5 L215.3,764.4 L215.6,764.0 L215.8,763.0 L216.1,762.3 L216.4,763.4 L216.7,764.3 L217.0,764.6 L217.3,764.6 L217.6,764.6 L217.9,764.6 L218.2,764.6 L218.5,764.4 L218.8,764.1 L219.0,763.2 L219.3,759.9 L219.6,754.4 L219.9,755.7 L220.2,761.1 L220.5,763.6 L220.8,764.4 L221.1,764.6 L221.4,764.8 L221.7,764.9 L222.0,764.9 L222.3,765.0 L222.5,765.0 L222.8,765.0 L223.1,765.0 L223.4,765.1 L223.7,765.1 L224.0,765.1 L224.3,765.1 L224.6,765.1 L224.9,765.2 L225.2,765.2 L225.5,765.2 L225.7,765.2 L226.0,765.2 L226.3,765.2 L226.6,765.2 L226.9,765.2 L227.2,765.3 L227.5,765.3 L227.8,765.3 L228.1,765.3 L228.4,765.3 L228.7,765.3 L228.9,765.3 L229.2,765.3 L229.5,765.4 L229.8,765.4 L230.1,765.4 L230.4,765.4 L230.7,765.4 L231.0,765.4 L231.3,765.4 L231.6,765.4 L231.9,765.4 L232.2,765.5 L232.4,765.5 L232.7,765.5 L233.0,765.5 L233.3,765.5 L233.6,765.5 L233.9,765.5 L234.2,765.5 L234.5,765.5 L234.8,765.6 L235.1,765.6 L235.4,765.6 L235.6,765.6 L235.9,765.6 L236.2,765.6 L236.5,765.6 L236.8,765.6 L237.1,765.6 L237.4,765.7 L237.7,765.7 L238.0,765.7 L238.3,765.7 L238.6,765.7 L238.9,765.7 L239.1,765.7 L239.4,765.7 L239.7,765.7 L240.0,765.7 L240.3,765.8 L240.6,765.8 L240.9,765.8 L241.2,765.8 L241.5,765.8 L241.8,765.8 L242.1,765.8 L242.3,765.8 L242.6,765.8 L242.9,765.8 L243.2,765.8 L243.5,765.8 L243.8,765.8 L244.1,765.8 L244.4,765.8 L244.7,765.8 L245.0,765.8 L245.3,765.8 L245.5,765.8 L245.8,765.8 L246.1,765.8 L246.4,765.8 L246.7,765.8 L247.0,765.7 L247.3,765.7 L247.6,765.7 L247.9,765.6 L248.2,765.5 L248.5,765.4 L248.8,765.3 L249.0,765.1 L249.3,764.9 L249.6,764.5 L249.9,763.9 L250.2,763.0 L250.5,761.4 L250.8,758.1 L251.0,753.0 M251.7,644.1 L251.7,643.9 M252.5,752.8 L252.8,759.7 L253.0,762.2 L253.3,763.5 L253.6,764.3 L253.9,764.8 L254.2,765.2 L254.5,765.4 L254.8,765.6 L255.1,765.7 L255.4,765.9 L255.7,765.9 L256.0,766.0 L256.2,766.1 L256.5,766.1 L256.8,766.2 L257.1,766.2 L257.4,766.3 L257.7,766.3 L258.0,766.3 L258.3,766.4 L258.6,766.4 L258.9,766.4 L259.2,766.4 L259.5,766.5 L259.7,766.5 L260.0,766.5 L260.3,766.5 L260.6,766.5 L260.9,766.5 L261.2,766.6 L261.5,766.6 L261.8,766.6 L262.1,766.6 L262.4,766.6 L262.7,766.6 L262.9,766.6 L263.2,766.7 L263.5,766.7 L263.8,766.7 L264.1,766.7 L264.4,766.7 L264.7,766.7 L265.0,766.7 L265.3,766.7 L265.6,766.7 L265.9,766.8 L266.1,766.8 L266.4,766.8 L266.7,766.8 L267.0,766.8 L267.3,766.8 L267.6,766.8 L267.9,766.8 L268.2,766.8 L268.5,766.8 L268.8,766.8 L269.1,766.8 L269.4,766.8 L269.6,766.8 L269.9,766.8 L270.2,766.8 L270.5,766.8 L270.8,766.8 L271.1,766.7 L271.4,766.6 L271.7,766.5 L272.0,766.2 L272.3,765.4 L272.6,762.6 L272.8,756.3 L273.1,754.5 L273.4,760.9 L273.7,764.9 L274.0,766.1 L274.3,766.5 L274.6,766.7 L274.9,766.8 L275.2,766.9 L275.5,766.9 L275.8,767.0 L276.1,767.0 L276.3,767.0 L276.6,767.1 L276.9,767.1 L277.2,767.1 L277.5,767.1 L277.8,767.1 L278.1,767.1 L278.4,767.1 L278.7,767.1 L279.0,767.2 L279.3,767.2 L279.5,767.2 L279.8,767.2 L280.1,767.2 L280.4,767.2 L280.7,767.2 L281.0,767.2 L281.3,767.2 L281.6,767.2 L281.9,767.2 L282.2,767.3 L282.5,767.3 L282.7,767.3 L283.0,767.3 L283.3,767.3 L283.6,767.3 L283.9,767.3 L284.2,767.3 L284.5,767.3 L284.8,767.3 L285.1,767.3 L285.4,767.3 L285.7,767.3 L286.0,767.3 L286.2,767.3 L286.5,767.4 L286.8,767.4 L287.1,767.4 L287.4,767.4 L287.7,767.4 L288.0,767.4 L288.3,767.4 L288.6,767.4 L288.9,767.4 L289.2,767.4 L289.4,767.4 L289.7,767.4 L290.0,767.4 L290.3,767.4 L290.6,767.4 L290.9,767.5 L291.2,767.5 L291.5,767.5 L291.8,767.5 L292.1,767.5 L292.4,767.5 L292.6,767.5 L292.9,767.5 L293.2,767.5 L293.5,767.5 L293.8,767.5 L294.1,767.5 L294.4,767.5 L294.7,767.5 L295.0,767.5 L295.3,767.5 L295.6,767.5 L295.9,767.6 L296.1,767.6 L296.4,767.6 L296.7,767.6 L297.0,767.6 L297.3,767.6 L297.6,767.6 L297.9,767.6 L298.2,767.6 L298.5,767.6 L298.8,767.6 L299.1,767.6 L299.3,767.6 L299.6,767.6 L299.9,767.6 L300.2,767.6 L300.5,767.6 L300.8,767.6 L301.1,767.7 L301.4,767.7 L301.7,767.7 L302.0,767.7 L302.3,767.7 L302.6,767.7 L302.8,767.7 L303.1,767.7 L303.4,767.7 L303.7,767.7 L304.0,767.7 L304.3,767.7 L304.6,767.7 L304.9,767.7 L305.2,767.7 L305.5,767.7 L305.8,767.7 L306.0,767.7 L306.3,767.7 L306.6,767.7 L306.9,767.8 L307.2,767.8 L307.5,767.8 L307.8,767.8 L308.1,767.8 L308.4,767.8 L308.7,767.8 L309.0,767.8 L309.2,767.8 L309.5,767.8 L309.8,767.8 L310.1,767.8 L310.4,767.8 L310.7,767.8 L311.0,767.8 L311.3,767.8 L311.6,767.8 L311.9,767.8 L312.2,767.8 L312.5,767.8 L312.7,767.8 L313.0,767.8 L313.3,767.8 L313.6,767.9 L313.9,767.9 L314.2,767.9 L314.5,767.9 L314.8,767.9 L315.1,767.9 L315.4,767.9 L315.7,767.9 L315.9,767.9 L316.2,767.9 L316.5,767.9 L316.8,767.9 L317.1,767.9 L317.4,767.9 L317.7,767.9 L318.0,767.9 L318.3,767.9 L318.6,767.9 L318.9,767.9 L319.1,767.9 L319.4,767.9 L319.7,767.9 L320.0,767.8 L320.3,767.8 L320.6,767.8 L320.9,767.7 L321.2,767.4 L321.5,766.6 L321.8,765.3 L322.1,765.2 L322.4,766.5 L322.6,767.3 L322.9,767.5 L323.2,767.5 L323.5,767.4 L323.8,767.1 L324.1,766.5 L324.4,764.5 L324.7,759.0 L325.0,751.9 L325.3,755.3 L325.6,762.5 L325.8,765.9 L326.1,767.0 L326.4,767.4 L326.7,767.6 L327.0,767.7 L327.3,767.8 L327.6,767.8 L327.9,767.9 L328.2,767.9 L328.5,767.9 L328.8,768.0 L329.0,768.0 L329.3,768.0 L329.6,768.0 L329.9,768.0 L330.2,768.0 L330.5,768.0 L330.8,768.0 L331.1,768.0 L331.4,768.1 L331.7,768.1 L332.0,768.1 L332.3,768.1 L332.5,768.1 L332.8,768.1 L333.1,768.1 L333.4,768.1 L333.7,768.1 L334.0,768.1 L334.3,768.1 L334.6,768.1 L334.9,768.1 L335.2,768.1 L335.5,768.1 L335.7,768.1 L336.0,768.1 L336.3,768.1 L336.6,768.1 L336.9,768.1 L337.2,768.1 L337.5,768.1 L337.8,768.1 L338.1,768.1 L338.4,768.1 L338.7,768.1 L338.9,768.1 L339.2,768.1 L339.5,768.2 L339.8,768.2 L340.1,768.2 L340.4,768.2 L340.7,768.2 L341.0,768.2 L341.3,768.2 L341.6,768.2 L341.9,768.2 L342.2,768.2 L342.4,768.2 L342.7,768.2 L343.0,768.2 L343.3,768.2 L343.6,768.2 L343.9,768.2 L344.2,768.2 L344.5,768.2 L344.8,768.2 L345.1,768.2 L345.4,768.2 L345.6,768.2 L345.9,768.2 L346.2,768.2 L346.5,768.2 L346.8,768.2 L347.1,768.2 L347.4,768.2 L347.7,768.2 L348.0,768.2 L348.3,768.2 L348.6,768.2 L348.9,768.2 L349.1,768.1 L349.4,768.1 L349.7,768.1 L350.0,768.1 L350.3,768.1 L350.6,768.1 L350.9,768.0 L351.2,768.0 L351.5,767.9 L351.8,767.9 L352.1,767.8 L352.3,767.6 L352.6,767.4 L352.9,766.9 L353.2,765.9 L353.5,762.8 L353.8,754.2 M353.9,748.0 L354.2,743.4 L354.4,748.4 M354.5,753.1 L354.8,762.3 L355.1,765.7 L355.4,766.8 L355.7,767.2 L355.9,767.5 L356.2,767.6 L356.5,767.6 L356.8,767.6 L357.1,767.6 L357.4,767.5 L357.7,767.4 L358.0,767.1 L358.3,766.7 L358.6,765.8 L358.9,763.1 L359.1,756.1 M359.5,735.3 L359.7,735.7 M360.1,756.5 L360.4,763.8 L360.7,766.1 L361.0,766.9 L361.3,767.3 L361.6,767.6 L361.9,767.8 L362.2,767.9 L362.5,768.0 L362.8,768.0 L363.0,768.1 L363.3,768.1 L363.6,768.1 L363.9,768.2 L364.2,768.2 L364.5,768.2 L364.8,768.2 L365.1,768.2 L365.4,768.3 L365.7,768.3 L366.0,768.3 L366.2,768.3 L366.5,768.3 L366.8,768.3 L367.1,768.3 L367.4,768.3 L367.7,768.3 L368.0,768.3 L368.3,768.3 L368.6,768.3 L368.9,768.3 L369.2,768.3 L369.5,768.3 L369.7,768.3 L370.0,768.3 L370.3,768.3 L370.6,768.3 L370.9,768.3 L371.2,768.3 L371.5,768.3 L371.8,768.3 L372.1,768.3 L372.4,768.3 L372.7,768.3 L372.9,768.3 L373.2,768.3 L373.5,768.3 L373.8,768.2 L374.1,768.2 L374.4,768.1 L374.7,768.0 L375.0,767.9 L375.3,767.6 L375.6,767.0 L375.9,765.1 L376.2,759.8 L376.4,752.7 L376.7,755.6 L377.0,762.8 L377.3,766.3 L377.6,767.4 L377.9,767.8 L378.2,768.0 L378.5,768.1 L378.8,768.2 L379.1,768.2 L379.4,768.3 L379.6,768.3 L379.9,768.3 L380.2,768.4 L380.5,768.4 L380.8,768.4 L381.1,768.4 L381.4,768.4 L381.7,768.4 L382.0,768.4 L382.3,768.4 L382.6,768.4 L382.8,768.4 L383.1,768.4 L383.4,768.4 L383.7,768.4 L384.0,768.5 L384.3,768.5 L384.6,768.5 L384.9,768.5 L385.2,768.5 L385.5,768.5 L385.8,768.5 L386.1,768.5 L386.3,768.5 L386.6,768.5 L386.9,768.5 L387.2,768.5 L387.5,768.5 L387.8,768.5 L388.1,768.5 L388.4,768.5 L388.7,768.5 L389.0,768.5 L389.3,768.5 L389.5,768.5 L389.8,768.5 L390.1,768.5 L390.4,768.5 L390.7,768.5 L391.0,768.5 L391.3,768.5 L391.6,768.5 L391.9,768.5 L392.2,768.5 L392.5,768.5 L392.7,768.5 L393.0,768.5 L393.3,768.5 L393.6,768.5 L393.9,768.5 L394.2,768.5 L394.5,768.5 L394.8,768.5 L395.1,768.5 L395.4,768.5 L395.7,768.5 L396.0,768.5 L396.2,768.5 L396.5,768.5 L396.8,768.5 L397.1,768.5 L397.4,768.5 L397.7,768.5 L398.0,768.6 L398.3,768.6 L398.6,768.6 L398.9,768.6 L399.2,768.6 L399.4,768.6 L399.7,768.6 L400.0,768.6 L400.3,768.6 L400.6,768.6 L400.9,768.6 L401.2,768.6 L401.5,768.6 L401.8,768.6 L402.1,768.6 L402.4,768.6 L402.7,768.6 L402.9,768.6 L403.2,768.6 L403.5,768.6 L403.8,768.6 L404.1,768.6 L404.4,768.6 L404.7,768.6 L405.0,768.6 L405.3,768.6 L405.6,768.6 L405.9,768.6 L406.1,768.6 L406.4,768.6 L406.7,768.6 L407.0,768.6 L407.3,768.6 L407.6,768.6 L407.9,768.6 L408.2,768.6 L408.5,768.6 L408.8,768.6 L409.1,768.6 L409.3,768.6 L409.6,768.6 L409.9,768.6 L410.2,768.6 L410.5,768.6 L410.8,768.6 L411.1,768.6 L411.4,768.6 L411.7,768.6 L412.0,768.6 L412.3,768.6 L412.6,768.6 L412.8,768.6 L413.1,768.6 L413.4,768.6 L413.7,768.6 L414.0,768.6 L414.3,768.6 L414.6,768.6 L414.9,768.6 L415.2,768.6 L415.5,768.6 L415.8,768.6 L416.0,768.6 L416.3,768.6 L416.6,768.6 L416.9,768.6 L417.2,768.6 L417.5,768.6 L417.8,768.6 L418.1,768.6 L418.4,768.6 L418.7,768.6 L419.0,768.6 L419.2,768.6 L419.5,768.5 L419.8,768.5 L420.1,768.5 L420.4,768.5 L420.7,768.4 L421.0,768.3 L421.3,768.1 L421.6,767.6 L421.9,766.5 L422.2,764.5 L422.5,762.7 L422.7,763.2 L423.0,765.4 L423.3,767.0 L423.6,767.9 L423.9,768.2 L424.2,768.3 L424.5,768.4 L424.8,768.4 L425.1,768.5 L425.4,768.5 L425.7,768.5 L425.9,768.5 L426.2,768.4 L426.5,768.3 L426.8,768.2 L427.1,767.7 L427.4,766.8 L427.7,765.2 L428.0,764.1 L428.3,765.1 L428.6,766.6 L428.9,767.7 L429.1,768.2 L429.4,768.4 L429.7,768.5 L430.0,768.5 L430.3,768.6 L430.6,768.6 L430.9,768.6 L431.2,768.6 L431.5,768.6 L431.8,768.6 L432.1,768.7 L432.4,768.7 L432.6,768.7 L432.9,768.7 L433.2,768.7 L433.5,768.7 L433.8,768.7 L434.1,768.7 L434.4,768.7 L434.7,768.7 L435.0,768.7 L435.3,768.7 L435.6,768.7 L435.8,768.7 L436.1,768.7 L436.4,768.7 L436.7,768.7 L437.0,768.7 L437.3,768.6 L437.6,768.6 L437.9,768.6 L438.2,768.6 L438.5,768.6 L438.8,768.5 L439.1,768.4 L439.3,768.2 L439.6,767.6 L439.9,766.5 L440.2,764.7 L440.5,763.8 L440.8,765.0 L441.1,766.7 L441.4,767.8 L441.7,768.2 L442.0,768.4 L442.3,768.5 L442.5,768.6 L442.8,768.6 L443.1,768.6 L443.4,768.6 L443.7,768.7 L444.0,768.7 L444.3,768.7 L444.6,768.7 L444.9,768.7 L445.2,768.7 L445.5,768.7 L445.7,768.7 L446.0,768.6 L446.3,768.6 L446.6,768.6 L446.9,768.6 L447.2,768.5 L447.5,768.5 L447.8,768.4 L448.1,768.3 L448.4,768.1 L448.7,767.7 L449.0,766.6 L449.2,764.2 L449.5,760.5 L449.8,757.9 L450.1,760.0 L450.4,763.9 L450.7,766.4 L451.0,767.6 L451.3,768.1 L451.6,768.3 L451.9,768.4 L452.2,768.5 L452.4,768.6 L452.7,768.6 L453.0,768.6 L453.3,768.7 L453.6,768.7 L453.9,768.7 L454.2,768.7 L454.5,768.7 L454.8,768.7 L455.1,768.7 L455.4,768.7 L455.6,768.7 L455.9,768.6 L456.2,768.6 L456.5,768.5 L456.8,768.4 L457.1,768.1 L457.4,767.4 L457.7,766.0 L458.0,764.3 L458.3,764.0 L458.6,765.6 L458.9,767.2 L459.1,768.0 L459.4,768.4 L459.7,768.5 L460.0,768.6 L460.3,768.7 L460.6,768.7 L460.9,768.7 L461.2,768.8 L461.5,768.8 L461.8,768.8 L462.1,768.8 L462.3,768.8 L462.6,768.8 L462.9,768.8 L463.2,768.8 L463.5,768.8 L463.8,768.8 L464.1,768.8 L464.4,768.8 L464.7,768.8 L465.0,768.7 L465.3,768.7 L465.5,768.5 L465.8,768.0 L466.1,767.3 L466.4,766.7 L466.7,767.0 L467.0,767.8 L467.3,768.4 L467.6,768.6 L467.9,768.7 L468.2,768.8 L468.5,768.8 L468.8,768.8 L469.0,768.8 L469.3,768.8 L469.6,768.9 L469.9,768.9 L470.2,768.9 L470.5,768.9 L470.8,768.9 L471.1,768.9 L471.4,768.9 L471.7,768.9 L472.0,768.9 L472.2,768.9 L472.5,768.9 L472.8,768.9 L473.1,768.9 L473.4,768.9 L473.7,768.9 L474.0,768.9 L474.3,768.9 L474.6,768.9 L474.9,768.9 L475.2,768.9 L475.5,768.9 L475.7,768.9 L476.0,768.9 L476.3,768.9 L476.6,768.9 L476.9,768.9 L477.2,768.9 L477.5,768.9 L477.8,768.9 L478.1,768.9 L478.4,768.9 L478.7,768.9 L478.9,768.9 L479.2,768.9 L479.5,768.9 L479.8,768.9 L480.1,768.9 L480.4,768.9 L480.7,768.9 L481.0,769.0 L481.3,769.0 L481.6,769.0 L481.9,769.0 L482.1,769.0 L482.4,769.0 L482.7,769.0 L483.0,769.0 L483.3,769.0 L483.6,769.0 L483.9,769.0 L484.2,769.0 L484.5,769.0 L484.8,769.0 L485.1,769.0 L485.4,769.0 L485.6,769.0 L485.9,769.0 L486.2,769.0 L486.5,769.0 L486.8,769.0 L487.1,769.0 L487.4,769.0 L487.7,769.0 L487.8,769.0" fill="none" stroke="#ff0000" stroke-width="5.8" stroke-linejoin="round" stroke-linecap="round"/>
<path d="M113.5,734.5L118.1,739.1M113.5,739.1L118.1,734.5 M113.6,733.3L118.2,737.9M113.6,737.9L118.2,733.3 M113.6,731.9L118.2,736.5M113.6,736.5L118.2,731.9 M113.6,730.2L118.2,734.8M113.6,734.8L118.2,730.2 M113.7,728.2L118.3,732.8M113.7,732.8L118.3,728.2 M113.7,725.9L118.3,730.5M113.7,730.5L118.3,725.9 M113.7,723.1L118.3,727.7M113.7,727.7L118.3,723.1 M113.8,719.8L118.4,724.4M113.8,724.4L118.4,719.8 M113.8,715.8L118.4,720.4M113.8,720.4L118.4,715.8 M113.8,711.0L118.4,715.6M113.8,715.6L118.4,711.0 M113.9,705.4L118.5,710.0M113.9,710.0L118.5,705.4 M113.9,698.7L118.5,703.3M113.9,703.3L118.5,698.7 M114.0,690.9L118.6,695.5M114.0,695.5L118.6,690.9 M114.0,681.8L118.6,686.4M114.0,686.4L118.6,681.8 M114.0,671.5L118.6,676.1M114.0,676.1L118.6,671.5 M114.1,659.8L118.7,664.4M114.1,664.4L118.7,659.8 M114.1,646.7L118.7,651.3M114.1,651.3L118.7,646.7 M114.1,632.4L118.7,637.0M114.1,637.0L118.7,632.4 M114.2,617.0L118.8,621.6M114.2,621.6L118.8,617.0 M114.2,600.7L118.8,605.3M114.2,605.3L118.8,600.7 M114.2,583.9L118.8,588.5M114.2,588.5L118.8,583.9 M114.3,567.2L118.9,571.8M114.3,571.8L118.9,567.2 M114.3,551.1L118.9,555.7M114.3,555.7L118.9,551.1 M114.4,536.6L119.0,541.2M114.4,541.2L119.0,536.6 M114.4,524.6L119.0,529.2M114.4,529.2L119.0,524.6 M114.4,516.0L119.0,520.6M114.4,520.6L119.0,516.0 M114.5,511.7L119.1,516.3M114.5,516.3L119.1,511.7 M114.5,512.0L119.1,516.6M114.5,516.6L119.1,512.0 M114.5,517.0L119.1,521.6M114.5,521.6L119.1,517.0 M114.6,526.1L119.2,530.7M114.6,530.7L119.2,526.1 M114.6,538.6L119.2,543.2M114.6,543.2L119.2,538.6 M114.6,553.4L119.2,558.0M114.6,558.0L119.2,553.4 M114.7,569.6L119.3,574.2M114.7,574.2L119.3,569.6 M114.7,586.4L119.3,591.0M114.7,591.0L119.3,586.4 M114.8,603.2L119.4,607.8M114.8,607.8L119.4,603.2 M114.8,619.3L119.4,623.9M114.8,623.9L119.4,619.3 M114.8,634.6L119.4,639.2M114.8,639.2L119.4,634.6 M114.9,648.8L119.5,653.4M114.9,653.4L119.5,648.8 M114.9,661.6L119.5,666.2M114.9,666.2L119.5,661.6 M114.9,673.1L119.5,677.7M114.9,677.7L119.5,673.1 M115.0,683.3L119.6,687.9M115.0,687.9L119.6,683.3 M115.0,692.2L119.6,696.8M115.0,696.8L119.6,692.2 M115.0,699.9L119.6,704.5M115.0,704.5L119.6,699.9 M115.1,706.4L119.7,711.0M115.1,711.0L119.7,706.4 M115.1,711.9L119.7,716.5M115.1,716.5L119.7,711.9 M115.2,716.6L119.8,721.2M115.2,721.2L119.8,716.6 M115.2,720.5L119.8,725.1M115.2,725.1L119.8,720.5 M115.2,723.8L119.8,728.4M115.2,728.4L119.8,723.8 M115.3,726.5L119.9,731.1M115.3,731.1L119.9,726.5 M115.3,728.8L119.9,733.4M115.3,733.4L119.9,728.8 M115.3,730.7L119.9,735.3M115.3,735.3L119.9,730.7 M115.4,732.3L120.0,736.9M115.4,736.9L120.0,732.3 M115.4,733.7L120.0,738.3M115.4,738.3L120.0,733.7 M115.4,734.9L120.0,739.5M115.4,739.5L120.0,734.9 M208.2,753.7L212.8,758.3M208.2,758.3L212.8,753.7 M208.2,752.4L212.8,757.0M208.2,757.0L212.8,752.4 M208.3,750.9L212.9,755.5M208.3,755.5L212.9,750.9 M208.3,749.2L212.9,753.8M208.3,753.8L212.9,749.2 M208.3,747.1L212.9,751.7M208.3,751.7L212.9,747.1 M208.4,744.7L213.0,749.3M208.4,749.3L213.0,744.7 M208.4,742.0L213.0,746.6M208.4,746.6L213.0,742.0 M208.4,738.9L213.0,743.5M208.4,743.5L213.0,738.9 M208.5,735.5L213.1,740.1M208.5,740.1L213.1,735.5 M208.5,731.8L213.1,736.4M208.5,736.4L213.1,731.8 M208.6,727.8L213.2,732.4M208.6,732.4L213.2,727.8 M208.6,723.6L213.2,728.2M208.6,728.2L213.2,723.6 M208.6,719.3L213.2,723.9M208.6,723.9L213.2,719.3 M208.7,715.0L213.3,719.6M208.7,719.6L213.3,715.0 M208.7,710.9L213.3,715.5M208.7,715.5L213.3,710.9 M208.7,707.2L213.3,711.8M208.7,711.8L213.3,707.2 M208.8,704.2L213.4,708.8M208.8,708.8L213.4,704.2 M208.8,702.2L213.4,706.8M208.8,706.8L213.4,702.2 M208.9,701.5L213.5,706.1M208.9,706.1L213.5,701.5 M208.9,702.9L213.5,707.5M208.9,707.5L213.5,702.9 M209.0,705.4L213.6,710.0M209.0,710.0L213.6,705.4 M209.0,708.7L213.6,713.3M209.0,713.3L213.6,708.7 M209.0,712.6L213.6,717.2M209.0,717.2L213.6,712.6 M209.1,716.8L213.7,721.4M209.1,721.4L213.7,716.8 M209.1,721.2L213.7,725.8M209.1,725.8L213.7,721.2 M209.1,725.4L213.7,730.0M209.1,730.0L213.7,725.4 M209.2,729.6L213.8,734.2M209.2,734.2L213.8,729.6 M209.2,733.5L213.8,738.1M209.2,738.1L213.8,733.5 M209.2,737.1L213.9,741.7M209.2,741.7L213.9,737.1 M209.3,740.3L213.9,744.9M209.3,744.9L213.9,740.3 M209.3,743.2L213.9,747.8M209.3,747.8L213.9,743.2 M209.4,745.8L214.0,750.4M209.4,750.4L214.0,745.8 M209.4,748.0L214.0,752.6M209.4,752.6L214.0,748.0 M209.4,750.0L214.0,754.6M209.4,754.6L214.0,750.0 M209.5,751.6L214.1,756.2M209.5,756.2L214.1,751.6 M209.5,753.0L214.1,757.6M209.5,757.6L214.1,753.0 M248.6,752.1L253.2,756.7M248.6,756.7L253.2,752.1 M248.7,750.7L253.3,755.3M248.7,755.3L253.3,750.7 M248.7,749.0L253.3,753.6M248.7,753.6L253.3,749.0 M248.7,747.0L253.3,751.6M248.7,751.6L253.3,747.0 M248.8,744.6L253.4,749.2M248.8,749.2L253.4,744.6 M248.8,741.8L253.4,746.4M248.8,746.4L253.4,741.8 M248.9,738.4L253.5,743.0M248.9,743.0L253.5,738.4 M248.9,734.5L253.5,739.1M248.9,739.1L253.5,734.5 M248.9,729.9L253.5,734.5M248.9,734.5L253.5,729.9 M249.0,724.7L253.6,729.3M249.0,729.3L253.6,724.7 M249.0,718.8L253.6,723.4M249.0,723.4L253.6,718.8 M249.0,712.1L253.6,716.7M249.0,716.7L253.6,712.1 M249.1,704.9L253.7,709.5M249.1,709.5L253.7,704.9 M249.1,697.0L253.7,701.6M249.1,701.6L253.7,697.0 M249.1,688.7L253.7,693.3M249.1,693.3L253.7,688.7 M249.2,680.1L253.8,684.7M249.2,684.7L253.8,680.1 M249.2,671.4L253.8,676.0M249.2,676.0L253.8,671.4 M249.3,663.1L253.9,667.7M249.3,667.7L253.9,663.1 M249.3,655.5L253.9,660.1M249.3,660.1L253.9,655.5 M249.3,649.1L253.9,653.7M249.3,653.7L253.9,649.1 M249.4,644.4L254.0,649.0M249.4,649.0L254.0,644.4 M249.4,641.8L254.0,646.4M249.4,646.4L254.0,641.8 M249.4,641.6L254.0,646.2M249.4,646.2L254.0,641.6 M249.5,643.9L254.1,648.5M249.5,648.5L254.1,643.9 M249.5,648.3L254.1,652.9M249.5,652.9L254.1,648.3 M249.5,654.5L254.1,659.1M249.5,659.1L254.1,654.5 M249.6,662.0L254.2,666.6M249.6,666.6L254.2,662.0 M249.6,670.2L254.2,674.8M249.6,674.8L254.2,670.2 M249.7,678.9L254.3,683.5M249.7,683.5L254.3,678.9 M249.7,687.5L254.3,692.1M249.7,692.1L254.3,687.5 M249.7,695.9L254.3,700.5M249.7,700.5L254.3,695.9 M249.8,703.8L254.4,708.4M249.8,708.4L254.4,703.8 M249.8,711.2L254.4,715.8M249.8,715.8L254.4,711.2 M249.8,717.9L254.4,722.5M249.8,722.5L254.4,717.9 M249.9,723.9L254.5,728.5M249.9,728.5L254.5,723.9 M249.9,729.3L254.5,733.9M249.9,733.9L254.5,729.3 M249.9,733.9L254.5,738.5M249.9,738.5L254.5,733.9 M250.0,737.9L254.6,742.5M250.0,742.5L254.6,737.9 M250.0,741.4L254.6,746.0M250.0,746.0L254.6,741.4 M250.1,744.3L254.7,748.9M250.1,748.9L254.7,744.3 M250.1,746.8L254.7,751.4M250.1,751.4L254.7,746.8 M250.1,748.8L254.7,753.4M250.1,753.4L254.7,748.8 M250.2,750.5L254.8,755.1M250.2,755.1L254.8,750.5 M250.2,752.0L254.8,756.6M250.2,756.6L254.8,752.0 M250.2,753.2L254.8,757.8M250.2,757.8L254.8,753.2 M351.4,755.9L356.0,760.5M351.4,760.5L356.0,755.9 M351.4,754.6L356.0,759.2M351.4,759.2L356.0,754.6 M351.5,753.3L356.1,757.9M351.5,757.9L356.1,753.3 M351.5,751.9L356.1,756.5M351.5,756.5L356.1,751.9 M351.5,750.4L356.1,755.0M351.5,755.0L356.1,750.4 M351.6,748.8L356.2,753.4M351.6,753.4L356.2,748.8 M351.6,747.2L356.2,751.8M351.6,751.8L356.2,747.2 M351.6,745.7L356.2,750.3M351.6,750.3L356.2,745.7 M351.7,744.2L356.3,748.8M351.7,748.8L356.3,744.2 M351.7,742.9L356.3,747.5M351.7,747.5L356.3,742.9 M352.0,743.3L356.6,747.9M352.0,747.9L356.6,743.3 M352.0,744.6L356.6,749.2M352.0,749.2L356.6,744.6 M352.1,746.1L356.7,750.7M352.1,750.7L356.7,746.1 M352.1,747.7L356.7,752.3M352.1,752.3L356.7,747.7 M352.2,749.2L356.8,753.8M352.2,753.8L356.8,749.2 M352.2,750.8L356.8,755.4M352.2,755.4L356.8,750.8 M352.2,752.3L356.8,756.9M352.2,756.9L356.8,752.3 M352.3,753.7L356.9,758.3M352.3,758.3L356.9,753.7 M352.3,755.0L356.9,759.6M352.3,759.6L356.9,755.0 M352.3,756.2L356.9,760.8M352.3,760.8L356.9,756.2 M356.7,756.5L361.3,761.1M356.7,761.1L361.3,756.5 M356.8,755.2L361.4,759.8M356.8,759.8L361.4,755.2 M356.8,753.8L361.4,758.4M356.8,758.4L361.4,753.8 M356.9,752.2L361.5,756.8M356.9,756.8L361.5,752.2 M356.9,750.6L361.5,755.2M356.9,755.2L361.5,750.6 M356.9,748.7L361.5,753.3M356.9,753.3L361.5,748.7 M357.0,746.8L361.6,751.4M357.0,751.4L361.6,746.8 M357.0,744.7L361.6,749.3M357.0,749.3L361.6,744.7 M357.0,742.6L361.6,747.2M357.0,747.2L361.6,742.6 M357.1,740.4L361.7,745.0M357.1,745.0L361.7,740.4 M357.1,738.3L361.7,742.9M357.1,742.9L361.7,738.3 M357.1,736.3L361.7,740.9M357.1,740.9L361.7,736.3 M357.2,734.5L361.8,739.1M357.2,739.1L361.8,734.5 M357.2,733.0L361.8,737.6M357.2,737.6L361.8,733.0 M357.4,732.1L362.0,736.7M357.4,736.7L362.0,732.1 M357.4,733.4L362.0,738.0M357.4,738.0L362.0,733.4 M357.5,735.0L362.1,739.6M357.5,739.6L362.1,735.0 M357.5,736.9L362.1,741.5M357.5,741.5L362.1,736.9 M357.5,738.9L362.1,743.5M357.5,743.5L362.1,738.9 M357.6,741.1L362.2,745.7M357.6,745.7L362.2,741.1 M357.6,743.2L362.2,747.8M357.6,747.8L362.2,743.2 M357.7,745.3L362.3,749.9M357.7,749.9L362.3,745.3 M357.7,747.4L362.3,752.0M357.7,752.0L362.3,747.4 M357.7,749.3L362.3,753.9M357.7,753.9L362.3,749.3 M357.8,751.1L362.4,755.7M357.8,755.7L362.4,751.1 M357.8,752.7L362.4,757.3M357.8,757.3L362.4,752.7 M357.8,754.2L362.4,758.8M357.8,758.8L362.4,754.2 M357.9,755.6L362.5,760.2M357.9,760.2L362.5,755.6 M357.9,756.8L362.5,761.4M357.9,761.4L362.5,756.8" stroke="#ff0000" stroke-width="1.4" fill="none"/>
<polyline points="97.8,748.9 98.3,748.9 98.8,749.0 99.4,749.1 99.9,749.2 100.4,749.2 100.9,749.3 101.4,749.4 102.0,749.5 102.5,749.5 103.0,749.6 103.5,749.7 104.0,749.8 104.6,749.8 105.1,749.9 105.6,750.0 106.1,750.0 106.6,750.1 107.2,750.2 107.7,750.2 108.2,750.3 108.7,750.3 109.2,750.4 109.8,750.4 110.3,750.4 110.8,750.4 111.3,750.4 111.6,750.4 111.7,750.4 111.8,750.4 111.8,750.4 111.9,750.4 112.0,750.4 112.1,750.4 112.2,750.4 112.3,750.3 112.4,750.3 112.4,750.3 112.5,750.3 112.6,750.3 112.7,750.2 112.8,750.2 112.9,750.2 112.9,750.2 113.0,750.1 113.1,750.1 113.2,750.0 113.3,750.0 113.4,750.0 113.5,749.9 113.6,749.8 113.7,749.8 113.8,749.7 113.9,749.6 113.9,749.5 114.0,749.5 114.1,749.3 114.2,749.2 114.3,749.0 114.4,748.8 114.4,748.7 114.5,748.6 114.6,748.4 114.7,748.1 114.8,747.8 114.9,747.4 115.0,747.1 115.0,746.9 115.1,746.4 115.2,745.7 115.3,744.9 115.4,743.9 115.5,743.3 115.5,742.7 115.6,741.1 115.7,739.1 115.8,736.1 115.9,731.7 116.0,728.5 116.1,724.4 116.2,712.3 116.3,692.7 116.4,663.2 116.5,623.3 116.5,600.3 116.6,576.6 116.7,534.6 116.8,516.7 116.9,534.6 117.0,576.6 117.0,600.4 117.1,623.4 117.2,663.4 117.3,692.9 117.4,712.5 117.5,724.6 117.6,728.7 117.6,731.9 117.7,736.4 117.8,739.4 117.9,741.5 118.0,743.0 118.1,743.7 118.1,744.3 118.2,745.3 118.3,746.1 118.4,746.8 118.5,747.4 118.6,747.7 118.7,747.9 118.8,748.3 118.9,748.7 119.0,749.0 119.1,749.3 119.1,749.4 119.2,749.5 119.3,749.7 119.4,749.9 119.5,750.1 119.6,750.3 119.6,750.3 119.7,750.4 119.8,750.5 119.9,750.6 120.0,750.8 120.1,750.9 120.2,750.9 120.2,751.0 120.3,751.0 120.4,751.1 120.5,751.2 120.6,751.3 120.7,751.3 120.7,751.3 120.8,751.4 120.9,751.4 121.0,751.5 121.1,751.6 121.2,751.6 121.3,751.6 121.4,751.6 121.5,751.7 121.6,751.7 121.7,751.8 121.7,751.8 121.8,751.8 121.9,751.9 122.2,752.0 122.8,752.1 123.3,752.3 123.8,752.4" fill="none" stroke="#000" stroke-width="1.3" stroke-linejoin="round"/>
<polyline points="97.8,748.9 98.3,749.0 98.8,749.1 99.4,749.1 99.9,749.2 100.4,749.3 100.9,749.4 101.4,749.5 102.0,749.5 102.5,749.6 103.0,749.7 103.5,749.8 104.0,749.8 104.6,749.9 105.1,750.0 105.6,750.1 106.1,750.2 106.6,750.2 107.2,750.3 107.7,750.4 108.2,750.5 108.7,750.5 109.2,750.6 109.8,750.7 110.3,750.8 110.8,750.9 111.3,750.9 111.6,751.0 111.7,751.0 111.8,751.0 111.8,751.0 111.9,751.0 112.0,751.0 112.1,751.0 112.2,751.1 112.3,751.1 112.4,751.1 112.4,751.1 112.5,751.1 112.6,751.1 112.7,751.1 112.8,751.1 112.9,751.2 112.9,751.2 113.0,751.2 113.1,751.2 113.2,751.2 113.3,751.2 113.4,751.2 113.5,751.2 113.6,751.3 113.7,751.3 113.8,751.3 113.9,751.3 113.9,751.3 114.0,751.3 114.1,751.3 114.2,751.3 114.3,751.4 114.4,751.4 114.4,751.4 114.5,751.4 114.6,751.4 114.7,751.4 114.8,751.4 114.9,751.4 115.0,751.5 115.0,751.5 115.1,751.5 115.2,751.5 115.3,751.5 115.4,751.5 115.5,751.5 115.5,751.5 115.6,751.6 115.7,751.6 115.8,751.6 115.9,751.6 116.0,751.6 116.1,751.6 116.2,751.6 116.3,751.6 116.4,751.7 116.5,751.7 116.5,751.7 116.6,751.7 116.7,751.7 116.8,751.7 116.9,751.7 117.0,751.7 117.0,751.8 117.1,751.8 117.2,751.8 117.3,751.8 117.4,751.8 117.5,751.8 117.6,751.8 117.6,751.8 117.7,751.8 117.8,751.9 117.9,751.9 118.0,751.9 118.1,751.9 118.1,751.9 118.2,751.9 118.3,751.9 118.4,751.9 118.5,752.0 118.6,752.0 118.7,752.0 118.8,752.0 118.9,752.0 119.0,752.0 119.1,752.0 119.1,752.0 119.2,752.0 119.3,752.1 119.4,752.1 119.5,752.1 119.6,752.1 119.6,752.1 119.7,752.1 119.8,752.1 119.9,752.2 120.0,752.2 120.1,752.2 120.2,752.2 120.2,752.2 120.3,752.2 120.4,752.2 120.5,752.2 120.6,752.3 120.7,752.3 120.7,752.3 120.8,752.3 120.9,752.3 121.0,752.3 121.1,752.3 121.2,752.3 121.3,752.3 121.4,752.4 121.5,752.4 121.6,752.4 121.7,752.4 121.7,752.4 121.8,752.4 121.9,752.4 122.2,752.5 122.8,752.5 123.3,752.6 123.8,752.7" fill="none" stroke="#22bb00" stroke-width="1.3"/>
<polyline points="196.6,764.0 197.1,764.1 197.6,764.1 198.2,764.1 198.7,764.2 199.2,764.2 199.7,764.2 200.2,764.3 200.8,764.3 201.3,764.3 201.8,764.3 202.3,764.4 202.8,764.4 203.4,764.4 203.9,764.4 204.4,764.4 204.9,764.5 205.4,764.5 206.0,764.5 206.1,764.5 206.2,764.5 206.3,764.5 206.4,764.5 206.5,764.5 206.6,764.4 206.7,764.4 206.8,764.4 206.9,764.4 207.0,764.4 207.1,764.4 207.2,764.4 207.3,764.4 207.4,764.4 207.5,764.4 207.6,764.4 207.7,764.4 207.8,764.4 207.9,764.3 208.0,764.3 208.1,764.3 208.2,764.3 208.4,764.3 208.5,764.2 208.6,764.2 208.7,764.2 208.8,764.1 208.9,764.1 209.0,764.0 209.1,763.9 209.2,763.9 209.3,763.8 209.4,763.7 209.5,763.5 209.6,763.4 209.7,763.2 209.8,763.0 209.9,762.7 210.0,762.3 210.1,761.8 210.2,761.2 210.3,760.1 210.4,758.5 210.5,755.6 210.6,751.1 210.7,744.3 210.8,735.0 210.9,729.7 211.0,724.2 211.0,718.9 211.1,714.5 211.1,711.4 211.2,710.3 211.2,711.4 211.3,714.5 211.3,718.9 211.4,724.2 211.4,729.7 211.5,735.0 211.5,739.9 211.6,744.3 211.6,748.0 211.7,751.1 211.7,753.7 211.8,755.7 211.8,757.3 211.9,758.5 211.9,759.4 212.0,760.2 212.0,760.8 212.1,761.2 212.1,761.6 212.2,761.9 212.3,762.2 212.3,762.4 212.4,762.6 212.4,762.8 212.5,762.9 212.5,763.0 212.6,763.2 212.6,763.3 212.7,763.4 212.7,763.5 212.8,763.5 212.8,763.6 212.9,763.7 212.9,763.8 213.0,763.8 213.0,763.9 213.1,763.9 213.1,764.0 213.2,764.0 213.2,764.0 213.3,764.1 213.3,764.1 213.4,764.1 213.4,764.2 213.5,764.2 213.6,764.2 213.6,764.3 213.7,764.3 213.7,764.3 213.8,764.3 213.8,764.3 213.9,764.3 213.9,764.4 214.0,764.4 214.0,764.4 214.1,764.4 214.1,764.4 214.2,764.4 214.2,764.4 214.3,764.5 214.3,764.5 214.4,764.5 214.4,764.5 214.5,764.5 214.5,764.5 214.6,764.5 214.6,764.5 214.7,764.5 214.7,764.5 214.8,764.5 214.9,764.5 214.9,764.5 215.0,764.5 215.0,764.5 215.1,764.5 215.1,764.5 215.2,764.4 215.2,764.4 215.3,764.4 215.3,764.3 215.4,764.3 215.4,764.2 215.5,764.1 215.5,764.0 215.6,763.8 215.6,763.6 215.7,763.4 215.7,763.2 215.8,762.9 215.8,762.7 215.9,762.4 215.9,762.1 216.0,761.9 216.0,761.8 216.1,761.7 216.2,761.8 216.2,761.9 216.3,762.1 216.3,762.4 216.4,762.7 216.4,763.0 216.5,763.5 216.6,763.9 216.7,764.2 216.8,764.3 216.9,764.4 216.9,764.5 217.0,764.5 217.1,764.6 217.2,764.6 217.3,764.6 217.4,764.6 217.5,764.6 217.6,764.6 217.7,764.6 217.8,764.6 217.9,764.6 217.9,764.6 218.0,764.6 218.1,764.6 218.2,764.6 218.3,764.5 218.4,764.5 218.4,764.5 218.5,764.4 218.6,764.4 218.7,764.3 218.8,764.1 218.9,763.9 219.0,763.7 219.0,763.5 219.1,762.8 219.2,761.8 219.3,760.5 219.4,758.7 219.5,757.7 219.5,756.7 219.6,755.0 219.7,754.3 219.8,755.0 219.9,756.7 220.0,757.7 220.1,758.7 220.2,760.5 220.3,761.9 220.4,762.9 220.5,763.5 220.5,763.8 220.6,763.9 220.7,764.2 220.8,764.4 220.9,764.5 221.0,764.6 221.0,764.6 221.1,764.6 221.2,764.7 221.3,764.7 221.4,764.8 221.5,764.8 221.6,764.8 221.6,764.9 221.7,764.9 221.8,764.9 221.9,764.9 222.0,764.9 222.1,764.9 222.1,765.0 222.2,765.0 222.3,765.0 222.4,765.0 222.5,765.0 222.6,765.0 222.7,765.0 222.8,765.0 222.9,765.0 223.0,765.0 223.1,765.1 223.1,765.1 223.2,765.1 223.3,765.1 223.4,765.1 223.5,765.1 223.6,765.1 223.6,765.1 223.7,765.1 223.8,765.1 223.9,765.1 224.0,765.1 224.1,765.1 224.2,765.1 224.2,765.1 224.3,765.1 224.4,765.1 224.5,765.1 224.6,765.1 224.7,765.1 224.7,765.1 224.8,765.2 225.2,765.2 225.7,765.2 226.2,765.2 226.8,765.2 227.3,765.3 227.8,765.3 228.3,765.3 228.8,765.3 229.4,765.3 229.9,765.4 230.4,765.4 230.9,765.4 231.4,765.4 232.0,765.5 232.5,765.5 233.0,765.5 233.5,765.5 234.0,765.5 234.6,765.6 235.1,765.6 235.6,765.6 236.1,765.6 236.6,765.6 237.2,765.7 237.7,765.7 238.2,765.7 238.7,765.7 239.2,765.7 239.8,765.7 240.3,765.8 240.8,765.8 241.3,765.8 241.8,765.8 242.4,765.8 242.9,765.8 243.4,765.8 243.9,765.8 244.4,765.8 245.0,765.8 245.5,765.8 246.0,765.8 246.5,765.8 246.6,765.8 246.7,765.8 246.8,765.8 246.9,765.8 247.0,765.8 247.1,765.7 247.2,765.7 247.4,765.7 247.5,765.7 247.6,765.7 247.7,765.7 247.8,765.6 247.9,765.6 248.0,765.6 248.1,765.6 248.2,765.5 248.3,765.5 248.4,765.5 248.5,765.4 248.6,765.4 248.7,765.3 248.8,765.3 248.9,765.2 249.0,765.2 249.1,765.1 249.2,765.0 249.3,764.9 249.4,764.8 249.5,764.6 249.6,764.5 249.7,764.3 249.8,764.1 250.0,763.9 250.1,763.6 250.2,763.2 250.3,762.8 250.4,762.3 250.5,761.7 250.6,760.9 250.7,759.8 250.8,758.3 250.9,756.0 251.0,752.3 251.1,746.1 251.2,736.0 251.3,720.9 251.4,700.4 251.5,676.4 251.6,654.8 251.7,645.6 251.8,654.8 251.9,676.4 252.0,700.4 252.1,720.9 252.2,736.1 252.3,746.1 252.4,752.4 252.6,756.1 252.7,758.4 252.8,759.9 252.9,761.0 253.0,761.8 253.1,762.4 253.2,762.9 253.3,763.4 253.4,763.7 253.5,764.0 253.6,764.3 253.7,764.5 253.8,764.7 253.9,764.8 254.0,765.0 254.1,765.1 254.2,765.2 254.3,765.3 254.4,765.4 254.5,765.4 254.6,765.5 254.7,765.6 254.8,765.6 254.9,765.7 255.0,765.7 255.2,765.8 255.3,765.8 255.4,765.9 255.5,765.9 255.6,765.9 255.7,766.0 255.8,766.0 255.9,766.0 256.0,766.0 256.1,766.1 256.2,766.1 256.3,766.1 256.4,766.1 256.5,766.1 256.6,766.2 256.7,766.2 256.8,766.2 256.9,766.2 257.4,766.3 258.0,766.3 258.5,766.4 259.0,766.4 259.5,766.5 260.0,766.5 260.6,766.5 261.1,766.6 261.6,766.6 262.1,766.6 262.6,766.6 263.2,766.7 263.7,766.7 264.2,766.7 264.7,766.7 265.2,766.7 265.8,766.8 266.3,766.8 266.8,766.8 267.3,766.8 267.8,766.8 267.9,766.8 268.0,766.8 268.2,766.8 268.3,766.8 268.4,766.8 268.5,766.8 268.6,766.8 268.7,766.8 268.8,766.8 268.9,766.8 269.0,766.8 269.1,766.8 269.2,766.8 269.3,766.8 269.4,766.8 269.5,766.8 269.6,766.8 269.7,766.8 269.8,766.8 269.9,766.8 270.0,766.8 270.1,766.8 270.2,766.8 270.3,766.8 270.4,766.8 270.5,766.8 270.6,766.8 270.8,766.8 270.9,766.8 271.0,766.8 271.1,766.7 271.2,766.7 271.3,766.7 271.4,766.7 271.5,766.6 271.6,766.6 271.7,766.5 271.8,766.4 271.9,766.3 272.0,766.2 272.1,766.0 272.2,765.7 272.3,765.2 272.4,764.5 272.5,763.3 272.6,761.7 272.7,759.5 272.8,757.2 272.9,755.1 273.0,754.3 273.1,755.2 273.2,757.2 273.4,759.6 273.5,761.7 273.6,763.3 273.7,764.5 273.8,765.3 273.9,765.8 274.0,766.1 274.1,766.3 274.2,766.4 274.3,766.5 274.4,766.6 274.5,766.7 274.6,766.7 274.7,766.8 274.8,766.8 274.9,766.8 275.0,766.9 275.1,766.9 275.2,766.9 275.3,766.9 275.4,766.9 275.5,767.0 275.6,767.0 275.7,767.0 275.8,767.0 276.0,767.0 276.1,767.0 276.2,767.0 276.3,767.0 276.4,767.0 276.5,767.0 276.6,767.1 276.7,767.1 276.8,767.1 276.9,767.1 277.0,767.1 277.1,767.1 277.2,767.1 277.3,767.1 277.4,767.1 277.5,767.1 277.6,767.1 277.7,767.1 277.8,767.1 277.9,767.1 278.0,767.1 278.1,767.1 278.2,767.1 278.8,767.2 279.3,767.2 279.8,767.2 280.3,767.2 280.8,767.2 281.4,767.2 281.9,767.2 282.4,767.3 282.9,767.3 283.4,767.3 284.0,767.3 284.5,767.3 285.0,767.3 285.5,767.3 286.0,767.3 286.6,767.4 287.1,767.4 287.6,767.4 288.1,767.4 288.6,767.4 289.2,767.4 289.7,767.4 290.2,767.4 290.7,767.4 291.2,767.5 291.8,767.5 292.3,767.5 292.8,767.5 293.3,767.5 293.8,767.5 294.4,767.5 294.9,767.5 295.4,767.5 295.9,767.6 296.4,767.6 297.0,767.6 297.5,767.6 298.0,767.6 298.5,767.6 299.0,767.6 299.6,767.6 300.1,767.6 300.6,767.6 301.1,767.7 301.6,767.7 302.2,767.7 302.7,767.7 303.2,767.7 303.7,767.7 304.2,767.7 304.8,767.7 305.3,767.7 305.8,767.7 306.3,767.7 306.8,767.8 307.4,767.8 307.9,767.8 308.4,767.8 308.9,767.8 309.4,767.8 310.0,767.8 310.5,767.8 311.0,767.8 311.5,767.8 312.0,767.8 312.6,767.8 313.1,767.8 313.6,767.9 314.1,767.9 314.6,767.9 315.2,767.9 315.7,767.9 316.2,767.9 316.7,767.9 316.8,767.9 316.9,767.9 317.0,767.9 317.1,767.9 317.2,767.9 317.3,767.9 317.4,767.9 317.6,767.9 317.7,767.9 317.8,767.9 317.9,767.9 318.0,767.9 318.1,767.9 318.2,767.9 318.3,767.9 318.4,767.9 318.5,767.9 318.6,767.9 318.7,767.9 318.8,767.9 318.9,767.9 319.0,767.9 319.1,767.9 319.2,767.9 319.3,767.9 319.4,767.9 319.5,767.9 319.6,767.9 319.7,767.9 319.8,767.9 319.9,767.8 320.0,767.8 320.2,767.8 320.3,767.8 320.4,767.8 320.5,767.8 320.6,767.8 320.7,767.8 320.8,767.7 320.9,767.7 321.0,767.6 321.1,767.5 321.2,767.4 321.3,767.2 321.4,766.9 321.5,766.5 321.6,766.0 321.7,765.5 321.8,765.1 321.9,764.9 322.0,765.1 322.1,765.5 322.2,766.0 322.3,766.5 322.4,766.8 322.5,767.1 322.6,767.3 322.8,767.4 322.9,767.5 323.0,767.5 323.1,767.5 323.2,767.5 323.3,767.5 323.4,767.4 323.5,767.4 323.6,767.3 323.7,767.3 323.8,767.2 323.9,767.0 324.0,766.8 324.1,766.6 324.2,766.1 324.3,765.4 324.4,764.4 324.5,762.8 324.6,760.8 324.7,758.3 324.8,755.6 324.9,753.3 325.0,752.4 325.1,753.3 325.2,755.6 325.4,758.3 325.5,760.8 325.6,762.9 325.7,764.4 325.8,765.5 325.9,766.2 326.0,766.6 326.1,766.9 326.2,767.1 326.3,767.3 326.4,767.4 326.5,767.5 326.6,767.5 326.7,767.6 326.8,767.6 326.9,767.7 327.0,767.7 327.1,767.7 327.2,767.8 327.3,767.8 327.4,767.8 327.5,767.8 327.6,767.9 327.7,767.9 327.8,767.9 328.0,767.9 328.1,767.9 328.2,767.9 328.3,767.9 328.4,767.9 328.5,767.9 328.6,768.0 328.7,768.0 328.8,768.0 328.9,768.0 329.0,768.0 329.1,768.0 329.2,768.0 329.3,768.0 329.4,768.0 329.5,768.0 329.6,768.0 329.7,768.0 329.8,768.0 329.9,768.0 330.0,768.0 330.1,768.0 330.2,768.0 330.8,768.0 331.3,768.1 331.8,768.1 332.3,768.1 332.8,768.1 333.4,768.1 333.9,768.1 334.4,768.1 334.9,768.1 335.4,768.1 336.0,768.1 336.5,768.1 337.0,768.1 337.5,768.1 338.0,768.1 338.6,768.1 339.1,768.2 339.6,768.2 340.1,768.2 340.6,768.2 341.2,768.2 341.7,768.2 342.2,768.2 342.7,768.2 343.2,768.2 343.8,768.2 344.3,768.2 344.8,768.2 345.3,768.2 345.8,768.2 346.4,768.2 346.9,768.2 347.4,768.2 347.9,768.2 348.4,768.2 349.0,768.2 349.1,768.2 349.2,768.2 349.3,768.2 349.4,768.2 349.5,768.2 349.6,768.2 349.7,768.1 349.8,768.1 349.9,768.1 350.0,768.1 350.1,768.1 350.2,768.1 350.3,768.1 350.4,768.1 350.5,768.1 350.6,768.1 350.7,768.1 350.8,768.1 350.9,768.1 351.0,768.1 351.1,768.0 351.2,768.0 351.4,768.0 351.5,768.0 351.6,768.0 351.7,768.0 351.8,767.9 351.9,767.9 352.0,767.9 352.1,767.8 352.2,767.8 352.3,767.7 352.4,767.7 352.5,767.6 352.6,767.5 352.7,767.4 352.8,767.3 352.9,767.2 353.0,767.0 353.1,766.7 353.2,766.3 353.3,765.7 353.4,764.7 353.5,763.3 353.6,761.1 353.7,758.3 353.8,754.8 354.0,751.0 354.1,747.9 354.2,746.7 354.3,747.9 354.4,751.0 354.4,752.9 354.5,754.8 354.5,756.6 354.6,758.3 354.6,759.8 354.7,761.1 354.7,762.3 354.8,763.2 354.8,764.0 354.9,764.7 354.9,765.2 355.0,765.7 355.0,766.0 355.1,766.3 355.1,766.5 355.2,766.7 355.3,766.8 355.3,766.9 355.4,767.0 355.4,767.1 355.5,767.2 355.5,767.3 355.6,767.3 355.6,767.4 355.7,767.4 355.7,767.5 355.8,767.5 355.8,767.6 355.9,767.6 355.9,767.6 356.0,767.6 356.0,767.7 356.1,767.7 356.1,767.7 356.2,767.7 356.2,767.7 356.3,767.8 356.3,767.8 356.4,767.8 356.4,767.8 356.5,767.8 356.6,767.8 356.6,767.8 356.7,767.8 356.7,767.8 356.8,767.8 356.8,767.8 356.9,767.8 356.9,767.8 357.0,767.8 357.0,767.8 357.1,767.8 357.1,767.8 357.2,767.8 357.2,767.8 357.3,767.8 357.3,767.8 357.4,767.8 357.4,767.8 357.5,767.7 357.5,767.7 357.6,767.7 357.6,767.7 357.7,767.7 357.7,767.7 357.8,767.6 357.9,767.6 357.9,767.6 358.0,767.5 358.0,767.5 358.1,767.5 358.1,767.4 358.2,767.4 358.2,767.3 358.3,767.2 358.3,767.2 358.4,767.1 358.4,767.0 358.5,766.9 358.5,766.8 358.6,766.6 358.6,766.4 358.7,766.2 358.7,765.9 358.8,765.5 358.8,765.1 358.9,764.5 358.9,763.8 359.0,763.0 359.0,761.9 359.1,760.7 359.2,759.3 359.2,757.7 359.3,755.9 359.3,754.0 359.4,752.0 359.4,750.0 359.5,746.7 359.6,745.4 359.7,746.7 359.8,750.0 359.9,752.0 359.9,754.0 360.0,757.7 360.1,760.8 360.2,763.0 360.3,764.6 360.4,765.1 360.5,765.6 360.6,766.2 360.7,766.7 360.8,767.0 360.9,767.2 360.9,767.3 361.0,767.3 361.1,767.5 361.2,767.6 361.3,767.6 361.4,767.7 361.4,767.8 361.5,767.8 361.6,767.8 361.7,767.9 361.8,767.9 361.9,768.0 362.0,768.0 362.0,768.0 362.1,768.0 362.2,768.0 362.3,768.1 362.4,768.1 362.5,768.1 362.5,768.1 362.6,768.1 362.7,768.1 362.8,768.1 362.9,768.2 363.0,768.2 363.1,768.2 363.2,768.2 363.3,768.2 363.4,768.2 363.5,768.2 363.5,768.2 363.6,768.2 363.7,768.2 363.8,768.2 363.9,768.2 364.0,768.2 364.0,768.2 364.1,768.2 364.2,768.2 364.3,768.3 364.4,768.3 364.5,768.3 364.6,768.3 364.6,768.3 364.7,768.3 365.1,768.3 365.6,768.3 366.1,768.3 366.6,768.3 367.2,768.3 367.7,768.3 368.2,768.3 368.7,768.3 369.2,768.3 369.8,768.3 370.3,768.3 370.8,768.3 371.3,768.3 371.4,768.3 371.5,768.3 371.6,768.3 371.7,768.3 371.8,768.3 371.9,768.3 372.0,768.3 372.2,768.3 372.3,768.3 372.4,768.3 372.5,768.3 372.6,768.3 372.7,768.3 372.8,768.3 372.9,768.3 373.0,768.3 373.1,768.3 373.2,768.3 373.3,768.3 373.4,768.3 373.5,768.3 373.6,768.3 373.7,768.2 373.8,768.2 373.9,768.2 374.0,768.2 374.1,768.2 374.2,768.2 374.3,768.2 374.4,768.1 374.5,768.1 374.6,768.1 374.8,768.0 374.9,768.0 375.0,767.9 375.1,767.9 375.2,767.8 375.3,767.7 375.4,767.5 375.5,767.3 375.6,767.0 375.7,766.6 375.8,765.9 375.9,764.9 376.0,763.4 376.1,761.3 376.2,758.8 376.3,756.2 376.4,753.9 376.5,753.1 376.6,753.9 376.7,756.2 376.8,758.8 376.9,761.3 377.0,763.4 377.1,764.9 377.2,765.9 377.4,766.6 377.5,767.1 377.6,767.3 377.7,767.5 377.8,767.7 377.9,767.8 378.0,767.9 378.1,767.9 378.2,768.0 378.3,768.0 378.4,768.1 378.5,768.1 378.6,768.2 378.7,768.2 378.8,768.2 378.9,768.2 379.0,768.2 379.1,768.3 379.2,768.3 379.3,768.3 379.4,768.3 379.5,768.3 379.6,768.3 379.7,768.3 379.8,768.3 380.0,768.3 380.1,768.4 380.2,768.4 380.3,768.4 380.4,768.4 380.5,768.4 380.6,768.4 380.7,768.4 380.8,768.4 380.9,768.4 381.0,768.4 381.1,768.4 381.2,768.4 381.3,768.4 381.4,768.4 381.5,768.4 381.6,768.4 381.7,768.4 382.2,768.4 382.8,768.4 383.3,768.4 383.8,768.5 384.3,768.5 384.8,768.5 385.4,768.5 385.9,768.5 386.4,768.5 386.9,768.5 387.4,768.5 388.0,768.5 388.5,768.5 389.0,768.5 389.5,768.5 390.0,768.5 390.6,768.5 391.1,768.5 391.6,768.5 392.1,768.5 392.6,768.5 393.2,768.5 393.7,768.5 394.2,768.5 394.7,768.5 395.2,768.5 395.8,768.5 396.3,768.5 396.8,768.5 397.3,768.5 397.8,768.6 398.4,768.6 398.9,768.6 399.4,768.6 399.9,768.6 400.4,768.6 401.0,768.6 401.5,768.6 402.0,768.6 402.5,768.6 403.0,768.6 403.6,768.6 404.1,768.6 404.6,768.6 405.1,768.6 405.6,768.6 406.2,768.6 406.7,768.6 407.2,768.6 407.7,768.6 408.2,768.6 408.8,768.6 409.3,768.6 409.8,768.6 410.3,768.6 410.8,768.6 411.4,768.6 411.9,768.6 412.4,768.6 412.9,768.6 413.4,768.6 414.0,768.6 414.5,768.6 415.0,768.6 415.5,768.6 416.0,768.6 416.6,768.6 417.1,768.6 417.3,768.6 417.4,768.6 417.5,768.6 417.6,768.6 417.7,768.6 417.8,768.6 417.9,768.6 418.0,768.6 418.1,768.6 418.1,768.6 418.2,768.6 418.3,768.6 418.4,768.6 418.5,768.6 418.6,768.6 418.6,768.6 418.7,768.6 418.8,768.6 418.9,768.6 419.0,768.6 419.1,768.6 419.2,768.6 419.2,768.6 419.3,768.6 419.4,768.6 419.5,768.6 419.6,768.6 419.7,768.6 419.7,768.5 419.8,768.5 419.9,768.5 420.0,768.5 420.1,768.5 420.2,768.5 420.3,768.5 420.4,768.5 420.5,768.5 420.6,768.5 420.7,768.4 420.7,768.4 420.8,768.4 420.9,768.4 421.0,768.3 421.1,768.3 421.2,768.2 421.2,768.2 421.3,768.2 421.4,768.0 421.5,767.9 421.6,767.7 421.7,767.4 421.8,767.2 421.8,767.0 421.9,766.5 422.0,765.9 422.1,765.2 422.2,764.5 422.3,764.1 422.3,763.8 422.4,763.3 422.5,763.1 422.6,763.3 422.7,763.8 422.8,764.1 422.9,764.5 422.9,764.9 423.0,765.2 423.0,765.6 423.1,765.9 423.1,766.2 423.2,766.5 423.2,766.8 423.3,767.0 423.3,767.2 423.4,767.4 423.4,767.5 423.5,767.7 423.5,767.8 423.6,767.9 423.6,768.0 423.7,768.0 423.7,768.1 423.8,768.1 423.8,768.2 423.9,768.2 423.9,768.3 424.0,768.3 424.0,768.3 424.1,768.3 424.2,768.3 424.2,768.4 424.3,768.4 424.3,768.4 424.4,768.4 424.4,768.4 424.5,768.4 424.5,768.4 424.6,768.4 424.6,768.4 424.7,768.5 424.7,768.5 424.8,768.5 424.8,768.5 424.9,768.5 424.9,768.5 425.0,768.5 425.0,768.5 425.1,768.5 425.1,768.5 425.2,768.5 425.2,768.5 425.3,768.5 425.3,768.5 425.4,768.5 425.5,768.5 425.5,768.5 425.6,768.5 425.6,768.5 425.7,768.5 425.7,768.5 425.8,768.5 425.8,768.5 425.9,768.5 425.9,768.5 426.0,768.5 426.0,768.5 426.1,768.5 426.1,768.5 426.2,768.5 426.2,768.4 426.3,768.4 426.3,768.4 426.4,768.4 426.4,768.4 426.5,768.4 426.5,768.4 426.6,768.4 426.6,768.3 426.7,768.3 426.8,768.3 426.8,768.2 426.9,768.2 426.9,768.2 427.0,768.1 427.0,768.0 427.1,767.9 427.1,767.8 427.2,767.7 427.2,767.6 427.3,767.4 427.3,767.3 427.4,767.1 427.4,766.9 427.5,766.7 427.5,766.4 427.6,766.2 427.6,765.9 427.7,765.6 427.8,765.1 427.9,764.8 428.0,764.7 428.1,764.8 428.2,765.2 428.3,765.6 428.4,766.2 428.5,766.7 428.6,767.1 428.7,767.5 428.8,767.7 428.9,768.0 429.0,768.1 429.1,768.2 429.2,768.3 429.4,768.4 429.5,768.4 429.6,768.5 429.7,768.5 429.8,768.5 429.9,768.5 430.0,768.5 430.1,768.6 430.2,768.6 430.3,768.6 430.4,768.6 430.5,768.6 430.6,768.6 430.7,768.6 430.8,768.6 430.9,768.6 431.0,768.6 431.1,768.6 431.2,768.6 431.3,768.6 431.4,768.6 431.5,768.6 431.6,768.6 431.7,768.7 431.8,768.7 432.0,768.7 432.1,768.7 432.2,768.7 432.3,768.7 432.4,768.7 432.5,768.7 432.6,768.7 432.7,768.7 432.8,768.7 432.9,768.7 433.0,768.7 433.1,768.7 433.2,768.7 433.7,768.7 434.2,768.7 434.8,768.7 435.3,768.7 435.4,768.7 435.5,768.7 435.6,768.7 435.7,768.7 435.8,768.7 435.9,768.7 436.0,768.7 436.1,768.7 436.2,768.7 436.3,768.7 436.4,768.7 436.5,768.7 436.6,768.7 436.7,768.7 436.8,768.7 436.9,768.7 437.0,768.7 437.2,768.7 437.3,768.7 437.4,768.7 437.5,768.7 437.6,768.6 437.7,768.6 437.8,768.6 437.9,768.6 438.0,768.6 438.1,768.6 438.2,768.6 438.3,768.6 438.4,768.6 438.5,768.6 438.6,768.6 438.7,768.5 438.8,768.5 438.9,768.5 439.0,768.5 439.1,768.4 439.2,768.3 439.3,768.3 439.4,768.1 439.5,768.0 439.6,767.7 439.8,767.4 439.9,767.0 440.0,766.6 440.1,766.0 440.2,765.5 440.3,764.9 440.4,764.6 440.5,764.4 440.6,764.6 440.7,764.9 440.8,765.5 440.9,766.0 441.0,766.6 441.1,767.0 441.2,767.4 441.3,767.7 441.4,768.0 441.5,768.1 441.6,768.3 441.7,768.3 441.8,768.4 441.9,768.5 442.0,768.5 442.1,768.5 442.2,768.5 442.4,768.6 442.5,768.6 442.6,768.6 442.7,768.6 442.8,768.6 442.9,768.6 443.0,768.6 443.1,768.6 443.2,768.6 443.3,768.7 443.4,768.7 443.5,768.7 443.6,768.7 443.7,768.7 443.8,768.7 443.9,768.7 444.0,768.7 444.1,768.7 444.2,768.7 444.3,768.7 444.4,768.7 444.5,768.7 444.6,768.7 444.7,768.7 444.8,768.7 445.0,768.7 445.1,768.7 445.2,768.7 445.3,768.7 445.4,768.7 445.5,768.7 445.6,768.7 445.7,768.7 445.8,768.7 445.9,768.7 446.0,768.7 446.1,768.7 446.2,768.6 446.3,768.6 446.4,768.6 446.5,768.6 446.6,768.6 446.7,768.6 446.8,768.6 446.9,768.6 447.0,768.6 447.1,768.6 447.2,768.6 447.3,768.5 447.4,768.5 447.6,768.5 447.7,768.5 447.8,768.4 447.9,768.4 448.0,768.4 448.1,768.3 448.2,768.3 448.3,768.2 448.4,768.1 448.5,768.0 448.6,767.9 448.7,767.7 448.8,767.4 448.9,767.0 449.0,766.5 449.1,765.8 449.2,764.8 449.3,763.8 449.4,762.5 449.5,761.2 449.6,760.0 449.7,759.1 449.8,758.7 449.9,759.1 450.0,760.0 450.2,761.2 450.3,762.5 450.4,763.8 450.5,764.9 450.6,765.8 450.7,766.5 450.8,767.0 450.9,767.4 451.0,767.7 451.1,767.9 451.2,768.0 451.3,768.1 451.4,768.2 451.5,768.3 451.6,768.3 451.7,768.4 451.8,768.4 451.9,768.5 452.0,768.5 452.1,768.5 452.2,768.5 452.3,768.6 452.4,768.6 452.5,768.6 452.6,768.6 452.8,768.6 452.9,768.6 453.0,768.6 453.1,768.6 453.2,768.7 453.3,768.7 453.4,768.7 453.5,768.7 453.6,768.7 453.7,768.7 453.8,768.7 453.9,768.7 454.0,768.7 454.1,768.7 454.2,768.7 454.3,768.7 454.4,768.7 454.5,768.7 454.6,768.7 454.7,768.7 454.8,768.7 454.9,768.7 455.0,768.7 455.1,768.7 455.2,768.7 455.4,768.7 455.5,768.7 455.6,768.7 455.7,768.7 455.8,768.7 455.9,768.7 456.0,768.7 456.1,768.6 456.2,768.6 456.3,768.6 456.4,768.6 456.5,768.6 456.6,768.6 456.7,768.5 456.8,768.5 456.9,768.4 457.0,768.3 457.1,768.2 457.2,768.0 457.3,767.8 457.4,767.5 457.5,767.1 457.6,766.6 457.7,766.1 457.8,765.5 458.0,765.0 458.1,764.6 458.2,764.4 458.3,764.6 458.4,765.0 458.5,765.5 458.6,766.1 458.7,766.6 458.8,767.1 458.9,767.5 459.0,767.8 459.1,768.0 459.2,768.2 459.3,768.3 459.4,768.4 459.5,768.5 459.6,768.5 459.7,768.6 459.8,768.6 459.9,768.6 460.0,768.7 460.1,768.7 460.2,768.7 460.3,768.7 460.4,768.7 460.6,768.7 460.7,768.7 460.8,768.7 460.9,768.7 461.0,768.8 461.1,768.8 461.2,768.8 461.3,768.8 461.4,768.8 461.5,768.8 461.6,768.8 461.7,768.8 461.8,768.8 461.9,768.8 462.0,768.8 462.1,768.8 462.2,768.8 462.3,768.8 462.4,768.8 462.5,768.8 462.6,768.8 462.7,768.8 462.8,768.8 462.9,768.8 463.0,768.8 463.2,768.8 463.3,768.8 463.4,768.8 463.5,768.8 463.6,768.8 463.7,768.8 463.8,768.8 463.9,768.8 464.0,768.8 464.1,768.8 464.2,768.8 464.3,768.8 464.4,768.8 464.5,768.8 464.6,768.8 464.7,768.8 464.8,768.8 464.9,768.7 465.0,768.7 465.1,768.7 465.2,768.7 465.3,768.6 465.4,768.6 465.5,768.5 465.6,768.4 465.8,768.3 465.9,768.1 466.0,767.9 466.1,767.7 466.2,767.4 466.3,767.2 466.4,767.0 466.5,767.0 466.6,767.0 466.7,767.2 466.8,767.4 466.9,767.7 467.0,767.9 467.1,768.1 467.2,768.3 467.3,768.4 467.4,768.5 467.5,768.6 467.6,768.7 467.7,768.7 467.8,768.7 467.9,768.8 468.0,768.8 468.1,768.8 468.2,768.8 468.4,768.8 468.5,768.8 468.6,768.8 468.7,768.8 468.8,768.8 468.9,768.8 469.0,768.8 469.1,768.8 469.2,768.9 469.3,768.9 469.4,768.9 469.5,768.9 469.6,768.9 469.7,768.9 469.8,768.9 469.9,768.9 470.0,768.9 470.1,768.9 470.2,768.9 470.3,768.9 470.4,768.9 470.5,768.9 470.6,768.9 470.7,768.9 470.8,768.9 471.0,768.9 471.1,768.9 471.2,768.9 471.3,768.9 471.4,768.9 471.5,768.9 471.6,768.9 471.7,768.9 472.2,768.9 472.7,768.9 473.2,768.9 473.8,768.9 474.3,768.9 474.8,768.9 475.3,768.9 475.8,768.9 476.4,768.9 476.9,768.9 477.4,768.9 477.9,768.9 478.4,768.9 479.0,768.9 479.5,768.9 480.0,768.9 480.5,768.9 481.0,769.0 481.6,769.0 482.1,769.0 482.6,769.0 483.1,769.0 483.6,769.0 484.2,769.0 484.7,769.0 485.2,769.0 485.7,769.0 486.2,769.0 486.8,769.0 487.3,769.0 487.8,769.0" fill="none" stroke="#000" stroke-width="1.3" stroke-linejoin="round"/>
<polyline points="196.6,764.1 197.1,764.1 197.6,764.1 198.2,764.2 198.7,764.2 199.2,764.2 199.7,764.3 200.2,764.3 200.8,764.3 201.3,764.4 201.8,764.4 202.3,764.4 202.8,764.4 203.4,764.5 203.9,764.5 204.4,764.5 204.9,764.6 205.4,764.6 206.0,764.6 206.1,764.6 206.2,764.6 206.3,764.6 206.4,764.6 206.5,764.6 206.6,764.6 206.7,764.6 206.8,764.6 206.9,764.6 207.0,764.6 207.1,764.6 207.2,764.6 207.3,764.7 207.4,764.7 207.5,764.7 207.6,764.7 207.7,764.7 207.8,764.7 207.9,764.7 208.0,764.7 208.1,764.7 208.2,764.7 208.4,764.7 208.5,764.7 208.6,764.7 208.7,764.7 208.8,764.7 208.9,764.7 209.0,764.7 209.1,764.7 209.2,764.7 209.3,764.7 209.4,764.7 209.5,764.7 209.6,764.7 209.7,764.7 209.8,764.7 209.9,764.8 210.0,764.8 210.1,764.8 210.2,764.8 210.3,764.8 210.4,764.8 210.5,764.8 210.6,764.8 210.7,764.8 210.8,764.8 210.9,764.8 211.0,764.8 211.0,764.8 211.1,764.8 211.1,764.8 211.2,764.8 211.2,764.8 211.3,764.8 211.3,764.8 211.4,764.8 211.4,764.8 211.5,764.8 211.5,764.8 211.6,764.8 211.6,764.8 211.7,764.8 211.7,764.8 211.8,764.8 211.8,764.8 211.9,764.8 211.9,764.8 212.0,764.8 212.0,764.8 212.1,764.8 212.1,764.8 212.2,764.8 212.3,764.8 212.3,764.8 212.4,764.8 212.4,764.8 212.5,764.8 212.5,764.8 212.6,764.8 212.6,764.8 212.7,764.8 212.7,764.8 212.8,764.8 212.8,764.9 212.9,764.9 212.9,764.9 213.0,764.9 213.0,764.9 213.1,764.9 213.1,764.9 213.2,764.9 213.2,764.9 213.3,764.9 213.3,764.9 213.4,764.9 213.4,764.9 213.5,764.9 213.6,764.9 213.6,764.9 213.7,764.9 213.7,764.9 213.8,764.9 213.8,764.9 213.9,764.9 213.9,764.9 214.0,764.9 214.0,764.9 214.1,764.9 214.1,764.9 214.2,764.9 214.2,764.9 214.3,764.9 214.3,764.9 214.4,764.9 214.4,764.9 214.5,764.9 214.5,764.9 214.6,764.9 214.6,764.9 214.7,764.9 214.7,764.9 214.8,764.9 214.9,764.9 214.9,764.9 215.0,764.9 215.0,764.9 215.1,764.9 215.1,764.9 215.2,764.9 215.2,764.9 215.3,764.9 215.3,764.9 215.4,764.9 215.4,764.9 215.5,764.9 215.5,764.9 215.6,764.9 215.6,764.9 215.7,764.9 215.7,764.9 215.8,764.9 215.8,764.9 215.9,764.9 215.9,764.9 216.0,764.9 216.0,764.9 216.1,765.0 216.2,765.0 216.2,765.0 216.3,765.0 216.3,765.0 216.4,765.0 216.4,765.0 216.5,765.0 216.6,765.0 216.7,765.0 216.8,765.0 216.9,765.0 216.9,765.0 217.0,765.0 217.1,765.0 217.2,765.0 217.3,765.0 217.4,765.0 217.5,765.0 217.6,765.0 217.7,765.0 217.8,765.0 217.9,765.0 217.9,765.0 218.0,765.0 218.1,765.0 218.2,765.0 218.3,765.0 218.4,765.0 218.4,765.0 218.5,765.0 218.6,765.0 218.7,765.0 218.8,765.0 218.9,765.0 219.0,765.0 219.0,765.0 219.1,765.0 219.2,765.0 219.3,765.0 219.4,765.0 219.5,765.1 219.5,765.1 219.6,765.1 219.7,765.1 219.8,765.1 219.9,765.1 220.0,765.1 220.1,765.1 220.2,765.1 220.3,765.1 220.4,765.1 220.5,765.1 220.5,765.1 220.6,765.1 220.7,765.1 220.8,765.1 220.9,765.1 221.0,765.1 221.0,765.1 221.1,765.1 221.2,765.1 221.3,765.1 221.4,765.1 221.5,765.1 221.6,765.1 221.6,765.1 221.7,765.1 221.8,765.1 221.9,765.1 222.0,765.1 222.1,765.1 222.1,765.1 222.2,765.1 222.3,765.1 222.4,765.1 222.5,765.1 222.6,765.1 222.7,765.1 222.8,765.2 222.9,765.2 223.0,765.2 223.1,765.2 223.1,765.2 223.2,765.2 223.3,765.2 223.4,765.2 223.5,765.2 223.6,765.2 223.6,765.2 223.7,765.2 223.8,765.2 223.9,765.2 224.0,765.2 224.1,765.2 224.2,765.2 224.2,765.2 224.3,765.2 224.4,765.2 224.5,765.2 224.6,765.2 224.7,765.2 224.7,765.2 224.8,765.2 225.2,765.2 225.7,765.2 226.2,765.3 226.8,765.3 227.3,765.3 227.8,765.3 228.3,765.3 228.8,765.4 229.4,765.4 229.9,765.4 230.4,765.4 230.9,765.4 231.4,765.5 232.0,765.5 232.5,765.5 233.0,765.5 233.5,765.6 234.0,765.6 234.6,765.6 235.1,765.6 235.6,765.6 236.1,765.7 236.6,765.7 237.2,765.7 237.7,765.7 238.2,765.7 238.7,765.8 239.2,765.8 239.8,765.8 240.3,765.8 240.8,765.8 241.3,765.9 241.8,765.9 242.4,765.9 242.9,765.9 243.4,766.0 243.9,766.0 244.4,766.0 245.0,766.0 245.5,766.0 246.0,766.1 246.5,766.1 246.6,766.1 246.7,766.1 246.8,766.1 246.9,766.1 247.0,766.1 247.1,766.1 247.2,766.1 247.4,766.1 247.5,766.1 247.6,766.1 247.7,766.1 247.8,766.1 247.9,766.1 248.0,766.1 248.1,766.1 248.2,766.1 248.3,766.2 248.4,766.2 248.5,766.2 248.6,766.2 248.7,766.2 248.8,766.2 248.9,766.2 249.0,766.2 249.1,766.2 249.2,766.2 249.3,766.2 249.4,766.2 249.5,766.2 249.6,766.2 249.7,766.2 249.8,766.2 250.0,766.2 250.1,766.2 250.2,766.2 250.3,766.2 250.4,766.2 250.5,766.2 250.6,766.2 250.7,766.2 250.8,766.3 250.9,766.3 251.0,766.3 251.1,766.3 251.2,766.3 251.3,766.3 251.4,766.3 251.5,766.3 251.6,766.3 251.7,766.3 251.8,766.3 251.9,766.3 252.0,766.3 252.1,766.3 252.2,766.3 252.3,766.3 252.4,766.3 252.6,766.3 252.7,766.3 252.8,766.3 252.9,766.3 253.0,766.3 253.1,766.3 253.2,766.3 253.3,766.4 253.4,766.4 253.5,766.4 253.6,766.4 253.7,766.4 253.8,766.4 253.9,766.4 254.0,766.4 254.1,766.4 254.2,766.4 254.3,766.4 254.4,766.4 254.5,766.4 254.6,766.4 254.7,766.4 254.8,766.4 254.9,766.4 255.0,766.4 255.2,766.4 255.3,766.4 255.4,766.4 255.5,766.4 255.6,766.4 255.7,766.4 255.8,766.4 255.9,766.5 256.0,766.5 256.1,766.5 256.2,766.5 256.3,766.5 256.4,766.5 256.5,766.5 256.6,766.5 256.7,766.5 256.8,766.5 256.9,766.5 257.4,766.5 258.0,766.5 258.5,766.6 259.0,766.6 259.5,766.6 260.0,766.6 260.6,766.6 261.1,766.6 261.6,766.7 262.1,766.7 262.6,766.7 263.2,766.7 263.7,766.7 264.2,766.8 264.7,766.8 265.2,766.8 265.8,766.8 266.3,766.8 266.8,766.8 267.3,766.9 267.8,766.9 267.9,766.9 268.0,766.9 268.2,766.9 268.3,766.9 268.4,766.9 268.5,766.9 268.6,766.9 268.7,766.9 268.8,766.9 268.9,766.9 269.0,766.9 269.1,766.9 269.2,766.9 269.3,766.9 269.4,766.9 269.5,766.9 269.6,766.9 269.7,766.9 269.8,766.9 269.9,766.9 270.0,767.0 270.1,767.0 270.2,767.0 270.3,767.0 270.4,767.0 270.5,767.0 270.6,767.0 270.8,767.0 270.9,767.0 271.0,767.0 271.1,767.0 271.2,767.0 271.3,767.0 271.4,767.0 271.5,767.0 271.6,767.0 271.7,767.0 271.8,767.0 271.9,767.0 272.0,767.0 272.1,767.0 272.2,767.0 272.3,767.0 272.4,767.0 272.5,767.0 272.6,767.0 272.7,767.0 272.8,767.0 272.9,767.0 273.0,767.0 273.1,767.0 273.2,767.0 273.4,767.1 273.5,767.1 273.6,767.1 273.7,767.1 273.8,767.1 273.9,767.1 274.0,767.1 274.1,767.1 274.2,767.1 274.3,767.1 274.4,767.1 274.5,767.1 274.6,767.1 274.7,767.1 274.8,767.1 274.9,767.1 275.0,767.1 275.1,767.1 275.2,767.1 275.3,767.1 275.4,767.1 275.5,767.1 275.6,767.1 275.7,767.1 275.8,767.1 276.0,767.1 276.1,767.1 276.2,767.1 276.3,767.1 276.4,767.1 276.5,767.1 276.6,767.1 276.7,767.1 276.8,767.1 276.9,767.1 277.0,767.2 277.1,767.2 277.2,767.2 277.3,767.2 277.4,767.2 277.5,767.2 277.6,767.2 277.7,767.2 277.8,767.2 277.9,767.2 278.0,767.2 278.1,767.2 278.2,767.2 278.8,767.2 279.3,767.2 279.8,767.2 280.3,767.2 280.8,767.2 281.4,767.3 281.9,767.3 282.4,767.3 282.9,767.3 283.4,767.3 284.0,767.3 284.5,767.3 285.0,767.3 285.5,767.3 286.0,767.4 286.6,767.4 287.1,767.4 287.6,767.4 288.1,767.4 288.6,767.4 289.2,767.4 289.7,767.4 290.2,767.5 290.7,767.5 291.2,767.5 291.8,767.5 292.3,767.5 292.8,767.5 293.3,767.5 293.8,767.5 294.4,767.5 294.9,767.5 295.4,767.6 295.9,767.6 296.4,767.6 297.0,767.6 297.5,767.6 298.0,767.6 298.5,767.6 299.0,767.6 299.6,767.6 300.1,767.6 300.6,767.7 301.1,767.7 301.6,767.7 302.2,767.7 302.7,767.7 303.2,767.7 303.7,767.7 304.2,767.7 304.8,767.7 305.3,767.7 305.8,767.7 306.3,767.8 306.8,767.8 307.4,767.8 307.9,767.8 308.4,767.8 308.9,767.8 309.4,767.8 310.0,767.8 310.5,767.8 311.0,767.8 311.5,767.8 312.0,767.8 312.6,767.9 313.1,767.9 313.6,767.9 314.1,767.9 314.6,767.9 315.2,767.9 315.7,767.9 316.2,767.9 316.7,767.9 316.8,767.9 316.9,767.9 317.0,767.9 317.1,767.9 317.2,767.9 317.3,767.9 317.4,767.9 317.6,767.9 317.7,767.9 317.8,767.9 317.9,767.9 318.0,767.9 318.1,767.9 318.2,767.9 318.3,767.9 318.4,767.9 318.5,767.9 318.6,767.9 318.7,767.9 318.8,767.9 318.9,768.0 319.0,768.0 319.1,768.0 319.2,768.0 319.3,768.0 319.4,768.0 319.5,768.0 319.6,768.0 319.7,768.0 319.8,768.0 319.9,768.0 320.0,768.0 320.2,768.0 320.3,768.0 320.4,768.0 320.5,768.0 320.6,768.0 320.7,768.0 320.8,768.0 320.9,768.0 321.0,768.0 321.1,768.0 321.2,768.0 321.3,768.0 321.4,768.0 321.5,768.0 321.6,768.0 321.7,768.0 321.8,768.0 321.9,768.0 322.0,768.0 322.1,768.0 322.2,768.0 322.3,768.0 322.4,768.0 322.5,768.0 322.6,768.0 322.8,768.0 322.9,768.0 323.0,768.0 323.1,768.0 323.2,768.0 323.3,768.0 323.4,768.0 323.5,768.0 323.6,768.0 323.7,768.0 323.8,768.0 323.9,768.0 324.0,768.0 324.1,768.0 324.2,768.0 324.3,768.0 324.4,768.0 324.5,768.0 324.6,768.0 324.7,768.0 324.8,768.0 324.9,768.0 325.0,768.0 325.1,768.0 325.2,768.0 325.4,768.0 325.5,768.0 325.6,768.0 325.7,768.0 325.8,768.0 325.9,768.0 326.0,768.0 326.1,768.0 326.2,768.0 326.3,768.0 326.4,768.0 326.5,768.0 326.6,768.0 326.7,768.0 326.8,768.1 326.9,768.1 327.0,768.1 327.1,768.1 327.2,768.1 327.3,768.1 327.4,768.1 327.5,768.1 327.6,768.1 327.7,768.1 327.8,768.1 328.0,768.1 328.1,768.1 328.2,768.1 328.3,768.1 328.4,768.1 328.5,768.1 328.6,768.1 328.7,768.1 328.8,768.1 328.9,768.1 329.0,768.1 329.1,768.1 329.2,768.1 329.3,768.1 329.4,768.1 329.5,768.1 329.6,768.1 329.7,768.1 329.8,768.1 329.9,768.1 330.0,768.1 330.1,768.1 330.2,768.1 330.8,768.1 331.3,768.1 331.8,768.1 332.3,768.1 332.8,768.1 333.4,768.1 333.9,768.1 334.4,768.1 334.9,768.1 335.4,768.1 336.0,768.1 336.5,768.2 337.0,768.2 337.5,768.2 338.0,768.2 338.6,768.2 339.1,768.2 339.6,768.2 340.1,768.2 340.6,768.2 341.2,768.2 341.7,768.2 342.2,768.2 342.7,768.2 343.2,768.2 343.8,768.2 344.3,768.2 344.8,768.2 345.3,768.2 345.8,768.2 346.4,768.2 346.9,768.2 347.4,768.2 347.9,768.3 348.4,768.3 349.0,768.3 349.1,768.3 349.2,768.3 349.3,768.3 349.4,768.3 349.5,768.3 349.6,768.3 349.7,768.3 349.8,768.3 349.9,768.3 350.0,768.3 350.1,768.3 350.2,768.3 350.3,768.3 350.4,768.3 350.5,768.3 350.6,768.3 350.7,768.3 350.8,768.3 350.9,768.3 351.0,768.3 351.1,768.3 351.2,768.3 351.4,768.3 351.5,768.3 351.6,768.3 351.7,768.3 351.8,768.3 351.9,768.3 352.0,768.3 352.1,768.3 352.2,768.3 352.3,768.3 352.4,768.3 352.5,768.3 352.6,768.3 352.7,768.3 352.8,768.3 352.9,768.3 353.0,768.3 353.1,768.3 353.2,768.3 353.3,768.3 353.4,768.3 353.5,768.3 353.6,768.3 353.7,768.3 353.8,768.3 354.0,768.3 354.1,768.3 354.2,768.3 354.3,768.3 354.4,768.3 354.4,768.3 354.5,768.3 354.5,768.3 354.6,768.3 354.6,768.3 354.7,768.3 354.7,768.3 354.8,768.3 354.8,768.3 354.9,768.3 354.9,768.3 355.0,768.3 355.0,768.3 355.1,768.3 355.1,768.3 355.2,768.3 355.3,768.3 355.3,768.3 355.4,768.3 355.4,768.3 355.5,768.3 355.5,768.3 355.6,768.3 355.6,768.3 355.7,768.3 355.7,768.3 355.8,768.3 355.8,768.3 355.9,768.3 355.9,768.3 356.0,768.3 356.0,768.3 356.1,768.3 356.1,768.3 356.2,768.3 356.2,768.3 356.3,768.3 356.3,768.3 356.4,768.3 356.4,768.3 356.5,768.3 356.6,768.3 356.6,768.3 356.7,768.3 356.7,768.3 356.8,768.3 356.8,768.3 356.9,768.3 356.9,768.3 357.0,768.3 357.0,768.3 357.1,768.3 357.1,768.3 357.2,768.3 357.2,768.3 357.3,768.3 357.3,768.3 357.4,768.3 357.4,768.3 357.5,768.3 357.5,768.3 357.6,768.3 357.6,768.3 357.7,768.3 357.7,768.3 357.8,768.3 357.9,768.3 357.9,768.3 358.0,768.3 358.0,768.3 358.1,768.3 358.1,768.3 358.2,768.3 358.2,768.3 358.3,768.3 358.3,768.3 358.4,768.3 358.4,768.3 358.5,768.3 358.5,768.3 358.6,768.3 358.6,768.3 358.7,768.3 358.7,768.3 358.8,768.3 358.8,768.3 358.9,768.3 358.9,768.3 359.0,768.3 359.0,768.3 359.1,768.3 359.2,768.3 359.2,768.3 359.3,768.3 359.3,768.3 359.4,768.3 359.4,768.3 359.5,768.3 359.6,768.3 359.7,768.3 359.8,768.3 359.9,768.3 359.9,768.3 360.0,768.3 360.1,768.3 360.2,768.3 360.3,768.3 360.4,768.3 360.5,768.3 360.6,768.3 360.7,768.3 360.8,768.3 360.9,768.3 360.9,768.3 361.0,768.3 361.1,768.3 361.2,768.3 361.3,768.3 361.4,768.3 361.4,768.3 361.5,768.3 361.6,768.3 361.7,768.4 361.8,768.4 361.9,768.4 362.0,768.4 362.0,768.4 362.1,768.4 362.2,768.4 362.3,768.4 362.4,768.4 362.5,768.4 362.5,768.4 362.6,768.4 362.7,768.4 362.8,768.4 362.9,768.4 363.0,768.4 363.1,768.4 363.2,768.4 363.3,768.4 363.4,768.4 363.5,768.4 363.5,768.4 363.6,768.4 363.7,768.4 363.8,768.4 363.9,768.4 364.0,768.4 364.0,768.4 364.1,768.4 364.2,768.4 364.3,768.4 364.4,768.4 364.5,768.4 364.6,768.4 364.6,768.4 364.7,768.4 365.1,768.4 365.6,768.4 366.1,768.4 366.6,768.4 367.2,768.4 367.7,768.4 368.2,768.4 368.7,768.4 369.2,768.4 369.8,768.4 370.3,768.4 370.8,768.4 371.3,768.4 371.4,768.4 371.5,768.4 371.6,768.4 371.7,768.4 371.8,768.4 371.9,768.4 372.0,768.4 372.2,768.4 372.3,768.4 372.4,768.4 372.5,768.4 372.6,768.4 372.7,768.4 372.8,768.4 372.9,768.4 373.0,768.4 373.1,768.4 373.2,768.4 373.3,768.4 373.4,768.4 373.5,768.4 373.6,768.4 373.7,768.4 373.8,768.4 373.9,768.4 374.0,768.4 374.1,768.4 374.2,768.4 374.3,768.4 374.4,768.4 374.5,768.4 374.6,768.4 374.8,768.4 374.9,768.4 375.0,768.4 375.1,768.4 375.2,768.4 375.3,768.4 375.4,768.4 375.5,768.4 375.6,768.4 375.7,768.4 375.8,768.4 375.9,768.4 376.0,768.4 376.1,768.4 376.2,768.4 376.3,768.4 376.4,768.4 376.5,768.4 376.6,768.4 376.7,768.4 376.8,768.4 376.9,768.4 377.0,768.4 377.1,768.4 377.2,768.4 377.4,768.4 377.5,768.4 377.6,768.4 377.7,768.4 377.8,768.4 377.9,768.5 378.0,768.5 378.1,768.5 378.2,768.5 378.3,768.5 378.4,768.5 378.5,768.5 378.6,768.5 378.7,768.5 378.8,768.5 378.9,768.5 379.0,768.5 379.1,768.5 379.2,768.5 379.3,768.5 379.4,768.5 379.5,768.5 379.6,768.5 379.7,768.5 379.8,768.5 380.0,768.5 380.1,768.5 380.2,768.5 380.3,768.5 380.4,768.5 380.5,768.5 380.6,768.5 380.7,768.5 380.8,768.5 380.9,768.5 381.0,768.5 381.1,768.5 381.2,768.5 381.3,768.5 381.4,768.5 381.5,768.5 381.6,768.5 381.7,768.5 382.2,768.5 382.8,768.5 383.3,768.5 383.8,768.5 384.3,768.5 384.8,768.5 385.4,768.5 385.9,768.5 386.4,768.5 386.9,768.5 387.4,768.5 388.0,768.5 388.5,768.5 389.0,768.5 389.5,768.5 390.0,768.5 390.6,768.5 391.1,768.5 391.6,768.5 392.1,768.5 392.6,768.5 393.2,768.5 393.7,768.5 394.2,768.5 394.7,768.5 395.2,768.5 395.8,768.5 396.3,768.6 396.8,768.6 397.3,768.6 397.8,768.6 398.4,768.6 398.9,768.6 399.4,768.6 399.9,768.6 400.4,768.6 401.0,768.6 401.5,768.6 402.0,768.6 402.5,768.6 403.0,768.6 403.6,768.6 404.1,768.6 404.6,768.6 405.1,768.6 405.6,768.6 406.2,768.6 406.7,768.6 407.2,768.6 407.7,768.6 408.2,768.6 408.8,768.6 409.3,768.6 409.8,768.6 410.3,768.6 410.8,768.6 411.4,768.6 411.9,768.6 412.4,768.6 412.9,768.6 413.4,768.6 414.0,768.6 414.5,768.6 415.0,768.6 415.5,768.6 416.0,768.6 416.6,768.6 417.1,768.7 417.3,768.7 417.4,768.7 417.5,768.7 417.6,768.7 417.7,768.7 417.8,768.7 417.9,768.7 418.0,768.7 418.1,768.7 418.1,768.7 418.2,768.7 418.3,768.7 418.4,768.7 418.5,768.7 418.6,768.7 418.6,768.7 418.7,768.7 418.8,768.7 418.9,768.7 419.0,768.7 419.1,768.7 419.2,768.7 419.2,768.7 419.3,768.7 419.4,768.7 419.5,768.7 419.6,768.7 419.7,768.7 419.7,768.7 419.8,768.7 419.9,768.7 420.0,768.7 420.1,768.7 420.2,768.7 420.3,768.7 420.4,768.7 420.5,768.7 420.6,768.7 420.7,768.7 420.7,768.7 420.8,768.7 420.9,768.7 421.0,768.7 421.1,768.7 421.2,768.7 421.2,768.7 421.3,768.7 421.4,768.7 421.5,768.7 421.6,768.7 421.7,768.7 421.8,768.7 421.8,768.7 421.9,768.7 422.0,768.7 422.1,768.7 422.2,768.7 422.3,768.7 422.3,768.7 422.4,768.7 422.5,768.7 422.6,768.7 422.7,768.7 422.8,768.7 422.9,768.7 422.9,768.7 423.0,768.7 423.0,768.7 423.1,768.7 423.1,768.7 423.2,768.7 423.2,768.7 423.3,768.7 423.3,768.7 423.4,768.7 423.4,768.7 423.5,768.7 423.5,768.7 423.6,768.7 423.6,768.7 423.7,768.7 423.7,768.7 423.8,768.7 423.8,768.7 423.9,768.7 423.9,768.7 424.0,768.7 424.0,768.7 424.1,768.7 424.2,768.7 424.2,768.7 424.3,768.7 424.3,768.7 424.4,768.7 424.4,768.7 424.5,768.7 424.5,768.7 424.6,768.7 424.6,768.7 424.7,768.7 424.7,768.7 424.8,768.7 424.8,768.7 424.9,768.7 424.9,768.7 425.0,768.7 425.0,768.7 425.1,768.7 425.1,768.7 425.2,768.7 425.2,768.7 425.3,768.7 425.3,768.7 425.4,768.7 425.5,768.7 425.5,768.7 425.6,768.7 425.6,768.7 425.7,768.7 425.7,768.7 425.8,768.7 425.8,768.7 425.9,768.7 425.9,768.7 426.0,768.7 426.0,768.7 426.1,768.7 426.1,768.7 426.2,768.7 426.2,768.7 426.3,768.7 426.3,768.7 426.4,768.7 426.4,768.7 426.5,768.7 426.5,768.7 426.6,768.7 426.6,768.7 426.7,768.7 426.8,768.7 426.8,768.7 426.9,768.7 426.9,768.7 427.0,768.7 427.0,768.7 427.1,768.7 427.1,768.7 427.2,768.7 427.2,768.7 427.3,768.7 427.3,768.7 427.4,768.7 427.4,768.7 427.5,768.7 427.5,768.7 427.6,768.7 427.6,768.7 427.7,768.7 427.8,768.7 427.9,768.7 428.0,768.7 428.1,768.7 428.2,768.7 428.3,768.7 428.4,768.7 428.5,768.7 428.6,768.7 428.7,768.7 428.8,768.7 428.9,768.7 429.0,768.7 429.1,768.7 429.2,768.7 429.4,768.7 429.5,768.7 429.6,768.7 429.7,768.7 429.8,768.7 429.9,768.7 430.0,768.7 430.1,768.7 430.2,768.7 430.3,768.7 430.4,768.7 430.5,768.7 430.6,768.7 430.7,768.7 430.8,768.7 430.9,768.7 431.0,768.7 431.1,768.7 431.2,768.7 431.3,768.7 431.4,768.7 431.5,768.7 431.6,768.7 431.7,768.7 431.8,768.7 432.0,768.7 432.1,768.7 432.2,768.7 432.3,768.7 432.4,768.7 432.5,768.7 432.6,768.7 432.7,768.7 432.8,768.7 432.9,768.7 433.0,768.7 433.1,768.7 433.2,768.7 433.7,768.7 434.2,768.7 434.8,768.7 435.3,768.7 435.4,768.7 435.5,768.7 435.6,768.7 435.7,768.7 435.8,768.7 435.9,768.7 436.0,768.7 436.1,768.7 436.2,768.7 436.3,768.7 436.4,768.7 436.5,768.7 436.6,768.7 436.7,768.7 436.8,768.7 436.9,768.7 437.0,768.7 437.2,768.7 437.3,768.7 437.4,768.7 437.5,768.7 437.6,768.7 437.7,768.7 437.8,768.7 437.9,768.7 438.0,768.7 438.1,768.7 438.2,768.7 438.3,768.7 438.4,768.8 438.5,768.8 438.6,768.8 438.7,768.8 438.8,768.8 438.9,768.8 439.0,768.8 439.1,768.8 439.2,768.8 439.3,768.8 439.4,768.8 439.5,768.8 439.6,768.8 439.8,768.8 439.9,768.8 440.0,768.8 440.1,768.8 440.2,768.8 440.3,768.8 440.4,768.8 440.5,768.8 440.6,768.8 440.7,768.8 440.8,768.8 440.9,768.8 441.0,768.8 441.1,768.8 441.2,768.8 441.3,768.8 441.4,768.8 441.5,768.8 441.6,768.8 441.7,768.8 441.8,768.8 441.9,768.8 442.0,768.8 442.1,768.8 442.2,768.8 442.4,768.8 442.5,768.8 442.6,768.8 442.7,768.8 442.8,768.8 442.9,768.8 443.0,768.8 443.1,768.8 443.2,768.8 443.3,768.8 443.4,768.8 443.5,768.8 443.6,768.8 443.7,768.8 443.8,768.8 443.9,768.8 444.0,768.8 444.1,768.8 444.2,768.8 444.3,768.8 444.4,768.8 444.5,768.8 444.6,768.8 444.7,768.8 444.8,768.8 445.0,768.8 445.1,768.8 445.2,768.8 445.3,768.8 445.4,768.8 445.5,768.8 445.6,768.8 445.7,768.8 445.8,768.8 445.9,768.8 446.0,768.8 446.1,768.8 446.2,768.8 446.3,768.8 446.4,768.8 446.5,768.8 446.6,768.8 446.7,768.8 446.8,768.8 446.9,768.8 447.0,768.8 447.1,768.8 447.2,768.8 447.3,768.8 447.4,768.8 447.6,768.8 447.7,768.8 447.8,768.8 447.9,768.8 448.0,768.8 448.1,768.8 448.2,768.8 448.3,768.8 448.4,768.8 448.5,768.8 448.6,768.8 448.7,768.8 448.8,768.8 448.9,768.8 449.0,768.8 449.1,768.8 449.2,768.8 449.3,768.8 449.4,768.8 449.5,768.8 449.6,768.8 449.7,768.8 449.8,768.8 449.9,768.8 450.0,768.8 450.2,768.8 450.3,768.8 450.4,768.8 450.5,768.8 450.6,768.8 450.7,768.8 450.8,768.8 450.9,768.8 451.0,768.8 451.1,768.8 451.2,768.8 451.3,768.8 451.4,768.8 451.5,768.8 451.6,768.8 451.7,768.8 451.8,768.8 451.9,768.8 452.0,768.8 452.1,768.8 452.2,768.8 452.3,768.8 452.4,768.8 452.5,768.8 452.6,768.8 452.8,768.8 452.9,768.8 453.0,768.8 453.1,768.8 453.2,768.8 453.3,768.8 453.4,768.8 453.5,768.8 453.6,768.8 453.7,768.8 453.8,768.8 453.9,768.8 454.0,768.8 454.1,768.8 454.2,768.8 454.3,768.8 454.4,768.8 454.5,768.8 454.6,768.8 454.7,768.8 454.8,768.8 454.9,768.8 455.0,768.8 455.1,768.8 455.2,768.8 455.4,768.8 455.5,768.8 455.6,768.8 455.7,768.8 455.8,768.8 455.9,768.8 456.0,768.8 456.1,768.8 456.2,768.8 456.3,768.8 456.4,768.8 456.5,768.8 456.6,768.8 456.7,768.8 456.8,768.8 456.9,768.8 457.0,768.8 457.1,768.8 457.2,768.8 457.3,768.8 457.4,768.8 457.5,768.8 457.6,768.8 457.7,768.8 457.8,768.8 458.0,768.8 458.1,768.8 458.2,768.8 458.3,768.8 458.4,768.8 458.5,768.8 458.6,768.8 458.7,768.8 458.8,768.8 458.9,768.8 459.0,768.9 459.1,768.9 459.2,768.9 459.3,768.9 459.4,768.9 459.5,768.9 459.6,768.9 459.7,768.9 459.8,768.9 459.9,768.9 460.0,768.9 460.1,768.9 460.2,768.9 460.3,768.9 460.4,768.9 460.6,768.9 460.7,768.9 460.8,768.9 460.9,768.9 461.0,768.9 461.1,768.9 461.2,768.9 461.3,768.9 461.4,768.9 461.5,768.9 461.6,768.9 461.7,768.9 461.8,768.9 461.9,768.9 462.0,768.9 462.1,768.9 462.2,768.9 462.3,768.9 462.4,768.9 462.5,768.9 462.6,768.9 462.7,768.9 462.8,768.9 462.9,768.9 463.0,768.9 463.2,768.9 463.3,768.9 463.4,768.9 463.5,768.9 463.6,768.9 463.7,768.9 463.8,768.9 463.9,768.9 464.0,768.9 464.1,768.9 464.2,768.9 464.3,768.9 464.4,768.9 464.5,768.9 464.6,768.9 464.7,768.9 464.8,768.9 464.9,768.9 465.0,768.9 465.1,768.9 465.2,768.9 465.3,768.9 465.4,768.9 465.5,768.9 465.6,768.9 465.8,768.9 465.9,768.9 466.0,768.9 466.1,768.9 466.2,768.9 466.3,768.9 466.4,768.9 466.5,768.9 466.6,768.9 466.7,768.9 466.8,768.9 466.9,768.9 467.0,768.9 467.1,768.9 467.2,768.9 467.3,768.9 467.4,768.9 467.5,768.9 467.6,768.9 467.7,768.9 467.8,768.9 467.9,768.9 468.0,768.9 468.1,768.9 468.2,768.9 468.4,768.9 468.5,768.9 468.6,768.9 468.7,768.9 468.8,768.9 468.9,768.9 469.0,768.9 469.1,768.9 469.2,768.9 469.3,768.9 469.4,768.9 469.5,768.9 469.6,768.9 469.7,768.9 469.8,768.9 469.9,768.9 470.0,768.9 470.1,768.9 470.2,768.9 470.3,768.9 470.4,768.9 470.5,768.9 470.6,768.9 470.7,768.9 470.8,768.9 471.0,768.9 471.1,768.9 471.2,768.9 471.3,768.9 471.4,768.9 471.5,768.9 471.6,768.9 471.7,768.9 472.2,768.9 472.7,768.9 473.2,768.9 473.8,768.9 474.3,768.9 474.8,768.9 475.3,768.9 475.8,768.9 476.4,768.9 476.9,768.9 477.4,768.9 477.9,768.9 478.4,768.9 479.0,768.9 479.5,768.9 480.0,769.0 480.5,769.0 481.0,769.0 481.6,769.0 482.1,769.0 482.6,769.0 483.1,769.0 483.6,769.0 484.2,769.0 484.7,769.0 485.2,769.0 485.7,769.0 486.2,769.0 486.8,769.0 487.3,769.0 487.8,769.0" fill="none" stroke="#22bb00" stroke-width="1.3"/>
<line x1="116.5" y1="779" x2="116.5" y2="788.2" stroke="#ff22ff" stroke-width="1.3"/>
<line x1="211.2" y1="779" x2="211.2" y2="788.2" stroke="#ff22ff" stroke-width="1.3"/>
<line x1="216.1" y1="779" x2="216.1" y2="788.2" stroke="#ff22ff" stroke-width="1.3"/>
<line x1="220.0" y1="779" x2="220.0" y2="788.2" stroke="#ff22ff" stroke-width="1.3"/>
<line x1="251.7" y1="779" x2="251.7" y2="788.2" stroke="#ff22ff" stroke-width="1.3"/>
<line x1="273.0" y1="779" x2="273.0" y2="788.2" stroke="#ff22ff" stroke-width="1.3"/>
<line x1="321.9" y1="779" x2="321.9" y2="788.2" stroke="#ff22ff" stroke-width="1.3"/>
<line x1="325.0" y1="779" x2="325.0" y2="788.2" stroke="#ff22ff" stroke-width="1.3"/>
<line x1="354.2" y1="779" x2="354.2" y2="788.2" stroke="#ff22ff" stroke-width="1.3"/>
<line x1="359.6" y1="779" x2="359.6" y2="788.2" stroke="#ff22ff" stroke-width="1.3"/>
<line x1="376.5" y1="779" x2="376.5" y2="788.2" stroke="#ff22ff" stroke-width="1.3"/>
<line x1="421.2" y1="779" x2="421.2" y2="788.2" stroke="#ff22ff" stroke-width="1.3"/>
<line x1="423.3" y1="779" x2="423.3" y2="788.2" stroke="#ff22ff" stroke-width="1.3"/>
<line x1="425.9" y1="779" x2="425.9" y2="788.2" stroke="#ff22ff" stroke-width="1.3"/>
<line x1="428.5" y1="779" x2="428.5" y2="788.2" stroke="#ff22ff" stroke-width="1.3"/>
<line x1="440.5" y1="779" x2="440.5" y2="788.2" stroke="#ff22ff" stroke-width="1.3"/>
<line x1="449.3" y1="779" x2="449.3" y2="788.2" stroke="#ff22ff" stroke-width="1.3"/>
<line x1="458.2" y1="779" x2="458.2" y2="788.2" stroke="#ff22ff" stroke-width="1.3"/>
<line x1="465.2" y1="779" x2="465.2" y2="788.2" stroke="#ff22ff" stroke-width="1.3"/>
<line x1="123.8" y1="505.5" x2="123.8" y2="821.5" stroke="#000" stroke-width="1.2" stroke-dasharray="4.6,3.1"/>
<line x1="196.6" y1="505.5" x2="196.6" y2="821.5" stroke="#000" stroke-width="1.2" stroke-dasharray="4.6,3.1"/>
<rect x="97.8" y="505.5" width="390.0" height="316.0" fill="none" stroke="#222" stroke-width="1.2"/>
<line x1="89.8" y1="783.4" x2="97.8" y2="783.4" stroke="#222" stroke-width="1.2"/>
<text x="62.70" y="791.60" font-family="&quot;Liberation Sans&quot;, sans-serif" font-size="22.8" font-weight="normal" font-style="normal" fill="#000" textLength="15.71" lengthAdjust="spacingAndGlyphs" stroke="#fff" stroke-width="0.4">0</text>
<line x1="89.8" y1="657.0" x2="97.8" y2="657.0" stroke="#222" stroke-width="1.2"/>
<text x="68.47" y="665.20" font-family="&quot;Liberation Sans&quot;, sans-serif" font-size="22.8" font-weight="normal" font-style="normal" fill="#000" textLength="9.67" lengthAdjust="spacingAndGlyphs" stroke="#fff" stroke-width="0.4">1</text>
<line x1="89.8" y1="530.6" x2="97.8" y2="530.6" stroke="#222" stroke-width="1.2"/>
<text x="65.09" y="538.80" font-family="&quot;Liberation Sans&quot;, sans-serif" font-size="22.8" font-weight="normal" font-style="normal" fill="#000" textLength="13.43" lengthAdjust="spacingAndGlyphs" stroke="#fff" stroke-width="0.4">2</text>
<line x1="92.8" y1="720.2" x2="97.8" y2="720.2" stroke="#222" stroke-width="1.2"/>
<line x1="92.8" y1="593.8" x2="97.8" y2="593.8" stroke="#222" stroke-width="1.2"/>
<line x1="97.8" y1="821.5" x2="97.8" y2="827.1" stroke="#222" stroke-width="1.2"/>
<line x1="123.8" y1="821.5" x2="123.8" y2="829.9" stroke="#222" stroke-width="1.2"/>
<text x="107.77" y="860.00" font-family="&quot;Liberation Sans&quot;, sans-serif" font-size="22.8" font-weight="normal" font-style="normal" fill="#000" textLength="29.36" lengthAdjust="spacingAndGlyphs" stroke="#fff" stroke-width="0.4">20</text>
<line x1="149.8" y1="821.5" x2="149.8" y2="827.1" stroke="#222" stroke-width="1.2"/>
<line x1="175.8" y1="821.5" x2="175.8" y2="829.9" stroke="#222" stroke-width="1.2"/>
<text x="160.18" y="860.00" font-family="&quot;Liberation Sans&quot;, sans-serif" font-size="22.8" font-weight="normal" font-style="normal" fill="#000" textLength="29.66" lengthAdjust="spacingAndGlyphs" stroke="#fff" stroke-width="0.4">30</text>
<line x1="201.8" y1="821.5" x2="201.8" y2="827.1" stroke="#222" stroke-width="1.2"/>
<line x1="227.8" y1="821.5" x2="227.8" y2="829.9" stroke="#222" stroke-width="1.2"/>
<text x="212.91" y="860.00" font-family="&quot;Liberation Sans&quot;, sans-serif" font-size="22.8" font-weight="normal" font-style="normal" fill="#000" textLength="28.59" lengthAdjust="spacingAndGlyphs" stroke="#fff" stroke-width="0.4">40</text>
<line x1="253.8" y1="821.5" x2="253.8" y2="827.1" stroke="#222" stroke-width="1.2"/>
<line x1="279.8" y1="821.5" x2="279.8" y2="829.9" stroke="#222" stroke-width="1.2"/>
<text x="265.08" y="860.00" font-family="&quot;Liberation Sans&quot;, sans-serif" font-size="22.8" font-weight="normal" font-style="normal" fill="#000" textLength="28.42" lengthAdjust="spacingAndGlyphs" stroke="#fff" stroke-width="0.4">50</text>
<line x1="305.8" y1="821.5" x2="305.8" y2="827.1" stroke="#222" stroke-width="1.2"/>
<line x1="331.8" y1="821.5" x2="331.8" y2="829.9" stroke="#222" stroke-width="1.2"/>
<text x="316.16" y="860.00" font-family="&quot;Liberation Sans&quot;, sans-serif" font-size="22.8" font-weight="normal" font-style="normal" fill="#000" textLength="29.37" lengthAdjust="spacingAndGlyphs" stroke="#fff" stroke-width="0.4">60</text>
<line x1="357.8" y1="821.5" x2="357.8" y2="827.1" stroke="#222" stroke-width="1.2"/>
<line x1="383.8" y1="821.5" x2="383.8" y2="829.9" stroke="#222" stroke-width="1.2"/>
<text x="370.35" y="860.00" font-family="&quot;Liberation Sans&quot;, sans-serif" font-size="22.8" font-weight="normal" font-style="normal" fill="#000" textLength="27.10" lengthAdjust="spacingAndGlyphs" stroke="#fff" stroke-width="0.4">70</text>
<line x1="409.8" y1="821.5" x2="409.8" y2="827.1" stroke="#222" stroke-width="1.2"/>
<line x1="435.8" y1="821.5" x2="435.8" y2="829.9" stroke="#222" stroke-width="1.2"/>
<text x="420.63" y="860.00" font-family="&quot;Liberation Sans&quot;, sans-serif" font-size="22.8" font-weight="normal" font-style="normal" fill="#000" textLength="30.03" lengthAdjust="spacingAndGlyphs" stroke="#fff" stroke-width="0.4">80</text>
<line x1="461.8" y1="821.5" x2="461.8" y2="827.1" stroke="#222" stroke-width="1.2"/>
<line x1="487.8" y1="821.5" x2="487.8" y2="829.9" stroke="#222" stroke-width="1.2"/>
<text x="472.44" y="860.00" font-family="&quot;Liberation Sans&quot;, sans-serif" font-size="22.8" font-weight="normal" font-style="normal" fill="#000" textLength="29.91" lengthAdjust="spacingAndGlyphs" stroke="#fff" stroke-width="0.4">90</text>
<text x="216.99" y="910.00" font-family="&quot;Liberation Sans&quot;, sans-serif" font-size="28.5" font-weight="normal" font-style="normal" fill="#000" textLength="14.53" lengthAdjust="spacingAndGlyphs" stroke="#fff" stroke-width="0.4">2</text>
<text x="229.73" y="910.00" font-family="&quot;Liberation Sans&quot;, sans-serif" font-size="28.5" font-weight="normal" font-style="italic" fill="#000" textLength="19.49" lengthAdjust="spacingAndGlyphs" stroke="#fff" stroke-width="0.4">θ</text>
<text x="255.53" y="910.00" font-family="&quot;Liberation Sans&quot;, sans-serif" font-size="28.5" font-weight="normal" font-style="normal" fill="#000" textLength="68.77" lengthAdjust="spacingAndGlyphs" stroke="#fff" stroke-width="0.4">(Cu K</text>
<text x="324.75" y="916.30" font-family="&quot;Liberation Sans&quot;, sans-serif" font-size="17.5" font-weight="normal" font-style="normal" fill="#000" textLength="35.25" lengthAdjust="spacingAndGlyphs" stroke="#fff" stroke-width="0.4">α1,2</text>
<text x="359.96" y="910.00" font-family="&quot;Liberation Sans&quot;, sans-serif" font-size="28.5" font-weight="normal" font-style="normal" fill="#000" textLength="7.91" lengthAdjust="spacingAndGlyphs" stroke="#fff" stroke-width="0.4">)</text>
<g transform="translate(35.9,0) rotate(-90)"><text x="-803.51" y="0.00" font-family="&quot;Liberation Sans&quot;, sans-serif" font-size="28.5" font-weight="normal" font-style="normal" fill="#000" textLength="163.97" lengthAdjust="spacingAndGlyphs" stroke="#fff" stroke-width="0.4">Intensity (×10</text><text x="-637.03" y="-12.80" font-family="&quot;Liberation Sans&quot;, sans-serif" font-size="18.5" font-weight="normal" font-style="normal" fill="#000" textLength="10.09" lengthAdjust="spacingAndGlyphs" stroke="#fff" stroke-width="0.4">5</text><text x="-618.54" y="0.00" font-family="&quot;Liberation Sans&quot;, sans-serif" font-size="28.5" font-weight="normal" font-style="normal" fill="#000" textLength="95.34" lengthAdjust="spacingAndGlyphs" stroke="#fff" stroke-width="0.4">counts)</text></g>
<text x="321.74" y="544.40" font-family="&quot;Liberation Sans&quot;, sans-serif" font-size="22.8" font-weight="normal" font-style="normal" fill="#000" textLength="105.73" lengthAdjust="spacingAndGlyphs" stroke="#fff" stroke-width="0.4">Observed</text>
<text x="321.63" y="568.50" font-family="&quot;Liberation Sans&quot;, sans-serif" font-size="22.8" font-weight="normal" font-style="normal" fill="#000" textLength="117.87" lengthAdjust="spacingAndGlyphs" stroke="#fff" stroke-width="0.4">Calculated</text>
<text x="320.88" y="592.30" font-family="&quot;Liberation Sans&quot;, sans-serif" font-size="22.8" font-weight="normal" font-style="normal" fill="#000" textLength="131.51" lengthAdjust="spacingAndGlyphs" stroke="#fff" stroke-width="0.4">Background</text>
<text x="320.87" y="616.60" font-family="&quot;Liberation Sans&quot;, sans-serif" font-size="22.8" font-weight="normal" font-style="normal" fill="#000" textLength="112.63" lengthAdjust="spacingAndGlyphs" stroke="#fff" stroke-width="0.4">Difference</text>
<text x="320.87" y="640.20" font-family="&quot;Liberation Sans&quot;, sans-serif" font-size="22.8" font-weight="normal" font-style="normal" fill="#000" textLength="158.24" lengthAdjust="spacingAndGlyphs" stroke="#fff" stroke-width="0.4">Bragg position</text>
<path d="M296.5,533.8L300.5,537.8M296.5,537.8L300.5,533.8" stroke="#ff0000" stroke-width="1.2"/>
<line x1="286" y1="560.8" x2="309.8" y2="560.8" stroke="#666" stroke-width="1.4"/>
<line x1="286" y1="584.4" x2="309.8" y2="584.4" stroke="#33dd33" stroke-width="1.2"/>
<line x1="286" y1="607.9" x2="309.8" y2="607.9" stroke="#3333ee" stroke-width="1.2"/>
<line x1="297.9" y1="628" x2="297.9" y2="636" stroke="#ff44ff" stroke-width="1.4"/>
<path d="M649.3,809.2 L649.3,807.2 L649.3,805.2 L649.3,803.2 L649.3,801.2 L649.3,799.2 L649.3,797.2 L649.3,795.2 L649.3,793.2 L649.3,791.2 L649.3,789.2 L649.3,787.2 L649.4,785.2 L649.4,783.2 L649.4,781.2 L649.4,779.2 L649.4,777.2 L649.4,775.2 L649.4,773.2 L649.4,771.2 L649.5,769.2 L649.5,767.2 L649.5,765.2 L649.5,763.2 L649.5,761.2 L649.6,759.2 L649.6,757.2 L649.6,755.2 L649.6,753.2 L649.6,751.2 L649.7,749.2 L649.7,747.2 L649.7,745.2 L649.7,743.2 L649.8,741.2 L649.8,739.2 L649.8,737.3 L649.9,735.3 L649.9,733.3 L650.0,731.2 L650.0,729.2 L650.1,727.2 L650.2,725.2 L650.3,723.2 L650.4,721.2 L650.6,719.3 L650.8,717.3 L651.0,715.3 L651.3,713.3 L651.6,711.3 L652.1,709.4 L652.7,707.4 L653.3,705.6 L654.0,703.8 L654.8,702.0 L655.7,700.4 L656.8,698.7 L657.9,697.1 L659.1,695.6 L660.4,694.0 L661.7,692.5 L663.1,691.0 L664.6,689.6 L666.1,688.1 L667.6,686.7 L669.2,685.3 L670.7,683.9 L672.2,682.5 L673.7,681.1 L675.1,679.7 L676.6,678.4 L678.1,677.1 L679.6,675.8 L681.2,674.5 L682.7,673.3 L684.3,672.0 L685.9,670.8 L687.5,669.6 L689.1,668.4 L690.7,667.1 L692.3,665.9 L693.8,664.6 L695.3,663.3 L696.8,662.0 L698.2,660.6 L699.6,659.2 L701.0,657.7 L702.3,656.2 L703.6,654.7 L704.8,653.1 L706.1,651.5 L707.3,649.8 L708.6,648.2 L709.8,646.6 L711.0,645.0 L712.3,643.4 L713.6,641.9 L714.9,640.4 L716.2,638.9 L717.6,637.5 L719.0,636.2 L720.5,635.0 L722.0,633.8 L723.6,632.6 L725.2,631.5 L726.9,630.4 L728.6,629.4 L730.4,628.4 L732.2,627.4 L733.9,626.5 L735.7,625.5 L737.5,624.6 L739.3,623.7 L741.1,622.8 L742.9,621.9 L744.7,621.0 L746.5,620.1 L748.3,619.2 L750.1,618.4 L751.9,617.6 L753.8,616.8 L755.6,616.0 L757.5,615.3 L759.4,614.7 L761.2,614.0 L763.1,613.5 L765.1,612.9 L767.0,612.4 L768.9,611.9 L770.9,611.4 L772.8,610.8 L774.7,610.3 L776.6,609.7 L778.5,609.1 L780.5,608.5 L782.3,607.8 L784.2,607.1 L786.1,606.4 L787.9,605.7 L789.8,604.9 L791.6,604.0 L793.3,603.1 L795.1,602.1 L796.8,601.1 L798.5,600.1 L800.2,599.0 L801.9,597.9 L803.5,596.7 L805.1,595.6 L806.7,594.4 L808.3,593.1 L809.8,591.9 L811.3,590.6 L812.9,589.3 L814.4,588.0 L816.0,586.7 L817.5,585.5 L819.1,584.2 L820.7,583.0 L822.2,581.8 L823.8,580.5 L825.3,579.3 L826.9,578.0 L828.4,576.8 L830.0,575.5 L831.5,574.2 L833.0,572.9 L834.5,571.5 L836.0,570.2 L837.5,568.9 L838.9,567.5 L840.4,566.2 L841.9,564.8 L843.3,563.5 L844.8,562.1 L846.3,560.7 L847.7,559.4 L849.2,558.0 L850.6,556.6 L852.1,555.2 L853.5,553.9 L855.0,552.5 L856.4,551.1 L857.9,549.8 L859.4,548.4 L860.8,547.1 L862.3,545.7 L863.8,544.3 L865.2,542.9 L866.6,541.5 L868.0,540.1 L869.4,538.6 L870.7,537.2 L872.0,535.7 L873.4,534.2 L874.7,532.7 L876.0,531.2 L877.2,529.6 L878.5,528.1 L879.1,527.3" fill="none" stroke="#c8e020" stroke-width="1.25" stroke-linejoin="round"/>
<path d="M649.3,550.2 L649.6,552.2 L649.9,554.2 L650.3,556.2 L650.6,558.2 L651.0,560.1 L651.5,562.1 L652.0,564.0 L652.5,565.9 L653.1,567.8 L653.7,569.7 L654.3,571.6 L655.1,573.5 L655.8,575.4 L656.6,577.2 L657.4,579.0 L658.3,580.8 L659.1,582.6 L660.1,584.4 L661.1,586.1 L662.1,587.8 L663.1,589.5 L664.2,591.2 L665.3,592.9 L666.3,594.6 L667.3,596.4 L668.4,598.1 L669.3,599.8 L670.3,601.6 L671.3,603.3 L672.2,605.1 L673.2,606.8 L674.2,608.6 L675.1,610.3 L676.1,612.1 L677.1,613.8 L678.1,615.6 L679.0,617.3 L680.0,619.1 L681.0,620.8 L682.0,622.6 L682.9,624.3 L683.8,626.1 L684.8,627.9 L685.7,629.6 L686.6,631.4 L687.4,633.2 L688.3,635.0 L689.1,636.9 L689.9,638.7 L690.7,640.5 L691.5,642.4 L692.3,644.2 L693.0,646.1 L693.7,647.9 L694.4,649.8 L695.2,651.7 L695.9,653.5 L696.7,655.3 L697.6,657.2 L698.4,659.0 L699.3,660.8 L700.2,662.5 L701.1,664.3 L702.1,666.1 L703.0,667.9 L703.9,669.6 L704.9,671.4 L705.8,673.2 L706.8,674.9 L707.8,676.6 L708.9,678.3 L710.0,680.0 L711.2,681.6 L712.4,683.2 L713.7,684.7 L715.0,686.3 L716.3,687.7 L717.7,689.1 L719.1,690.5 L720.6,691.9 L722.2,693.2 L723.7,694.4 L725.3,695.7 L726.9,696.9 L728.6,698.0 L730.2,699.1 L731.9,700.1 L733.6,701.2 L735.4,702.1 L737.2,703.1 L739.0,704.0 L740.8,704.9 L742.6,705.7 L744.4,706.5 L746.3,707.2 L748.1,708.0 L750.0,708.7 L751.9,709.4 L753.7,710.2 L755.6,711.0 L757.4,711.8 L759.2,712.6 L761.0,713.5 L762.8,714.4 L764.6,715.3 L766.4,716.1 L768.2,716.9 L770.1,717.7 L771.9,718.4 L773.8,719.1 L775.7,719.7 L777.6,720.3 L779.5,721.0 L781.4,721.6 L783.3,722.2 L785.2,722.8 L787.1,723.4 L789.0,724.1 L790.9,724.8 L792.7,725.5 L794.6,726.2 L796.5,726.9 L798.4,727.5 L800.3,728.2 L802.2,728.9 L804.1,729.5 L806.0,730.1 L807.9,730.7 L809.8,731.3 L811.7,731.9 L813.6,732.5 L815.5,733.1 L817.4,733.7 L819.3,734.4 L821.2,735.0 L823.1,735.6 L825.0,736.3 L826.9,737.0 L828.7,737.7 L830.6,738.4 L832.5,739.1 L834.3,739.9 L836.2,740.6 L838.0,741.4 L839.9,742.2 L841.7,743.1 L843.5,744.0 L845.3,744.9 L847.1,745.8 L848.8,746.8 L850.5,747.8 L852.2,748.9 L853.9,750.1 L855.5,751.4 L857.0,752.7 L858.4,754.1 L859.6,755.5 L860.7,757.1 L861.7,758.7 L862.6,760.5 L863.4,762.3 L864.1,764.2 L864.9,766.1 L865.5,768.0 L866.2,770.0 L866.8,772.0 L867.4,773.9 L868.0,775.8 L868.6,777.7 L869.2,779.7 L869.7,781.6 L870.3,783.5 L870.9,785.4 L871.4,787.3 L871.9,789.2 L872.5,791.1 L873.0,793.1 L873.5,795.0 L874.0,796.9 L874.5,798.9 L874.9,800.8 L875.4,802.8 L875.8,804.7 L876.2,806.7 L876.6,808.7 L877.0,810.6 L877.4,812.6 L877.7,814.6 L878.0,816.6 L878.3,818.6 L878.5,819.6" fill="none" stroke="#c8e020" stroke-width="1.25" stroke-linejoin="round"/>
<path d="M649.3,809.2 L649.3,807.2 L649.3,805.2 L649.3,803.2 L649.3,801.2 L649.3,799.2 L649.3,797.2 L649.3,795.2 L649.3,793.2 L649.3,791.2 L649.3,789.2 L649.3,787.2 L649.4,785.2 L649.4,783.2 L649.4,781.2 L649.4,779.2 L649.4,777.2 L649.4,775.2 L649.4,773.2 L649.4,771.2 L649.5,769.2 L649.5,767.2 L649.5,765.2 L649.5,763.2 L649.5,761.2 L649.6,759.2 L649.6,757.2 L649.6,755.3 L649.6,753.3 L649.6,751.3 L649.7,749.3 L649.7,747.3 L649.7,745.3 L649.7,743.3 L649.8,741.3 L649.8,739.3 L649.8,737.3 L649.9,735.3 L649.9,733.3 L650.0,731.3 L650.0,729.3 L650.1,727.3 L650.2,725.3 L650.3,723.3 L650.4,721.3 L650.6,719.3 L650.8,717.3 L651.0,715.3 L651.2,713.3 L651.5,711.3 L652.0,709.3 L652.4,707.4 L653.0,705.5 L653.7,703.7 L654.4,702.0 L655.3,700.3 L656.3,698.7 L657.4,697.2 L658.7,695.7 L660.0,694.3 L661.5,692.9 L663.1,691.5 L664.7,690.1 L666.3,688.8 L668.0,687.4 L669.6,686.1 L671.3,684.9 L672.9,683.6 L674.5,682.3 L676.1,681.1 L677.6,679.9 L679.2,678.7 L680.8,677.5 L682.4,676.3 L684.0,675.2 L685.7,674.0 L687.3,672.9 L689.0,671.8 L690.7,670.7 L692.4,669.6 L694.0,668.5 L695.7,667.4 L697.4,666.4 L699.1,665.3 L700.8,664.1 L702.4,663.0 L704.1,661.9 L705.7,660.8 L707.3,659.6 L708.9,658.4 L710.5,657.2 L712.1,656.0 L713.7,654.8 L715.3,653.5 L716.9,652.3 L718.5,651.0 L720.1,649.8 L721.7,648.5 L723.2,647.3 L724.8,646.1 L726.4,644.9 L728.0,643.7 L729.7,642.5 L731.3,641.4 L732.9,640.3 L734.6,639.2 L736.2,638.1 L737.9,637.1 L739.6,636.1 L741.3,635.1 L743.1,634.2 L744.8,633.3 L746.6,632.4 L748.4,631.6 L750.2,630.7 L752.0,629.9 L753.8,629.1 L755.6,628.3 L757.5,627.6 L759.3,626.8 L761.2,626.1 L763.1,625.3 L765.0,624.6 L766.9,623.9 L768.7,623.2 L770.6,622.5 L772.5,621.8 L774.4,621.1 L776.3,620.4 L778.2,619.7 L780.1,619.0 L782.0,618.3 L783.9,617.5 L785.8,616.8 L787.6,616.1 L789.5,615.3 L791.4,614.6 L793.2,613.8 L795.0,613.0 L796.9,612.2 L798.7,611.4 L800.5,610.6 L802.3,609.7 L804.0,608.8 L805.8,607.9 L807.5,607.0 L809.2,606.0 L810.9,605.0 L812.6,604.0 L814.3,602.9 L815.9,601.9 L817.6,600.8 L819.2,599.6 L820.9,598.5 L822.5,597.3 L824.1,596.1 L825.7,594.9 L827.3,593.7 L828.9,592.5 L830.5,591.3 L832.1,590.0 L833.7,588.8 L835.3,587.6 L836.9,586.3 L838.4,585.1 L840.0,583.8 L841.6,582.6 L843.1,581.3 L844.7,580.1 L846.3,578.9 L847.8,577.6 L849.4,576.4 L850.9,575.1 L852.5,573.9 L854.0,572.6 L855.6,571.3 L857.1,570.0 L858.6,568.7 L860.2,567.4 L861.7,566.1 L863.2,564.8 L864.7,563.5 L866.2,562.2 L867.7,560.9 L869.2,559.5 L870.7,558.2 L872.1,556.9 L873.6,555.5 L875.1,554.1 L876.5,552.8 L877.9,551.4 L879.4,550.0 L880.8,548.6 L882.2,547.2 L883.6,545.8 L885.0,544.4 L886.4,542.9 L887.7,541.5 L889.1,540.0 L890.5,538.6 L891.8,537.1 L893.1,535.6 L894.5,534.1 L895.8,532.6 L897.1,531.1 L898.4,529.6 L899.7,528.0 L900.4,527.3" fill="none" stroke="#2bb673" stroke-width="1.25" stroke-linejoin="round"/>
<path d="M649.3,546.1 L649.5,548.1 L649.7,550.1 L649.9,552.1 L650.2,554.1 L650.5,556.1 L650.9,558.1 L651.3,560.0 L651.8,561.9 L652.2,563.8 L652.8,565.7 L653.4,567.6 L654.1,569.4 L654.8,571.2 L655.7,573.0 L656.6,574.8 L657.5,576.6 L658.5,578.4 L659.5,580.1 L660.6,581.9 L661.6,583.6 L662.6,585.3 L663.7,587.1 L664.7,588.8 L665.8,590.4 L666.8,592.1 L667.9,593.8 L669.1,595.4 L670.2,597.1 L671.4,598.7 L672.5,600.3 L673.7,602.0 L674.9,603.6 L676.1,605.1 L677.3,606.7 L678.6,608.3 L679.8,609.8 L681.1,611.4 L682.4,612.9 L683.7,614.4 L685.0,615.9 L686.3,617.4 L687.6,619.0 L688.9,620.5 L690.2,622.0 L691.4,623.6 L692.7,625.1 L694.0,626.7 L695.2,628.2 L696.5,629.7 L697.8,631.3 L699.1,632.8 L700.3,634.3 L701.6,635.9 L703.0,637.4 L704.3,638.8 L705.6,640.3 L707.0,641.7 L708.4,643.2 L709.8,644.6 L711.3,645.9 L712.7,647.3 L714.2,648.7 L715.6,650.1 L717.0,651.5 L718.4,653.0 L719.7,654.4 L721.1,655.9 L722.4,657.4 L723.7,659.0 L724.9,660.5 L726.2,662.0 L727.5,663.6 L728.8,665.0 L730.2,666.5 L731.6,667.9 L733.0,669.3 L734.5,670.6 L736.0,672.0 L737.5,673.3 L739.0,674.5 L740.6,675.8 L742.2,677.0 L743.7,678.3 L745.3,679.5 L747.0,680.7 L748.6,681.8 L750.2,682.9 L751.9,684.0 L753.6,685.1 L755.3,686.1 L757.0,687.1 L758.8,688.0 L760.5,688.9 L762.3,689.8 L764.1,690.7 L765.9,691.6 L767.7,692.4 L769.6,693.3 L771.4,694.1 L773.2,695.0 L775.0,695.8 L776.8,696.7 L778.6,697.6 L780.3,698.5 L782.1,699.4 L783.9,700.3 L785.7,701.2 L787.5,702.1 L789.3,703.0 L791.1,703.9 L792.8,704.8 L794.6,705.6 L796.5,706.5 L798.3,707.3 L800.1,708.1 L801.9,708.9 L803.8,709.7 L805.6,710.4 L807.5,711.2 L809.3,711.9 L811.2,712.6 L813.1,713.3 L814.9,714.0 L816.8,714.7 L818.7,715.4 L820.5,716.1 L822.4,716.8 L824.3,717.5 L826.1,718.3 L828.0,719.0 L829.8,719.8 L831.6,720.6 L833.5,721.4 L835.3,722.1 L837.2,722.9 L839.1,723.7 L840.9,724.5 L842.8,725.3 L844.6,726.1 L846.5,726.9 L848.3,727.7 L850.1,728.6 L851.9,729.5 L853.7,730.4 L855.4,731.3 L857.1,732.3 L858.8,733.3 L860.5,734.3 L862.1,735.4 L863.8,736.5 L865.4,737.7 L867.1,738.9 L868.6,740.2 L870.2,741.5 L871.7,742.9 L873.1,744.3 L874.4,745.7 L875.7,747.2 L876.9,748.7 L878.1,750.3 L879.2,751.9 L880.3,753.6 L881.4,755.3 L882.4,757.1 L883.3,758.9 L884.3,760.7 L885.2,762.5 L886.0,764.4 L886.7,766.2 L887.5,768.1 L888.1,769.9 L888.8,771.8 L889.4,773.6 L890.0,775.5 L890.6,777.3 L891.2,779.2 L891.8,781.1 L892.4,783.0 L893.0,784.9 L893.5,786.8 L894.1,788.7 L894.6,790.6 L895.1,792.5 L895.6,794.5 L896.0,796.4 L896.5,798.4 L896.9,800.4 L897.3,802.3 L897.6,804.3 L898.0,806.3 L898.3,808.3 L898.5,810.4 L898.8,812.4 L899.0,814.5 L899.2,816.5 L899.3,818.6 L899.4,819.6" fill="none" stroke="#2bb673" stroke-width="1.25" stroke-linejoin="round"/>
<path d="M649.3,809.2 L649.3,807.2 L649.3,805.2 L649.3,803.2 L649.3,801.2 L649.3,799.2 L649.3,797.2 L649.3,795.2 L649.3,793.2 L649.3,791.2 L649.3,789.2 L649.3,787.2 L649.4,785.2 L649.4,783.2 L649.4,781.2 L649.4,779.2 L649.4,777.2 L649.4,775.2 L649.4,773.2 L649.4,771.2 L649.5,769.2 L649.5,767.2 L649.5,765.2 L649.5,763.2 L649.5,761.2 L649.6,759.2 L649.6,757.2 L649.6,755.2 L649.6,753.2 L649.6,751.2 L649.7,749.2 L649.7,747.2 L649.7,745.2 L649.7,743.2 L649.8,741.2 L649.8,739.2 L649.8,737.2 L649.9,735.2 L649.9,733.2 L650.0,731.2 L650.0,729.2 L650.1,727.2 L650.2,725.2 L650.3,723.2 L650.5,721.2 L650.6,719.2 L650.8,717.2 L651.0,715.2 L651.2,713.2 L651.6,711.2 L652.0,709.2 L652.5,707.3 L653.0,705.4 L653.7,703.6 L654.4,701.9 L655.3,700.2 L656.3,698.6 L657.5,697.1 L658.7,695.6 L660.1,694.2 L661.6,692.7 L663.1,691.3 L664.7,690.0 L666.4,688.6 L668.0,687.3 L669.7,686.0 L671.4,684.7 L673.0,683.5 L674.6,682.2 L676.2,681.0 L677.7,679.8 L679.3,678.6 L680.9,677.5 L682.5,676.3 L684.2,675.2 L685.8,674.1 L687.5,673.0 L689.2,671.9 L690.9,670.8 L692.6,669.8 L694.3,668.7 L696.1,667.7 L697.8,666.6 L699.5,665.6 L701.2,664.5 L702.9,663.5 L704.6,662.5 L706.3,661.4 L708.0,660.4 L709.8,659.3 L711.5,658.3 L713.2,657.3 L714.9,656.2 L716.6,655.2 L718.3,654.2 L720.0,653.2 L721.8,652.2 L723.5,651.2 L725.2,650.2 L727.0,649.2 L728.7,648.2 L730.5,647.2 L732.2,646.3 L734.0,645.3 L735.7,644.4 L737.5,643.4 L739.3,642.5 L741.0,641.6 L742.8,640.7 L744.6,639.8 L746.4,639.0 L748.2,638.1 L750.0,637.3 L751.9,636.5 L753.7,635.7 L755.5,634.9 L757.4,634.1 L759.2,633.3 L761.1,632.5 L762.9,631.8 L764.8,631.0 L766.6,630.3 L768.5,629.5 L770.4,628.8 L772.3,628.1 L774.1,627.3 L776.0,626.6 L777.9,625.9 L779.7,625.1 L781.6,624.4 L783.4,623.6 L785.3,622.9 L787.1,622.1 L789.0,621.4 L790.8,620.6 L792.7,619.8 L794.5,619.0 L796.3,618.2 L798.1,617.3 L799.9,616.5 L801.7,615.6 L803.4,614.7 L805.2,613.8 L807.0,612.9 L808.7,611.9 L810.4,611.0 L812.1,610.0 L813.8,608.9 L815.5,607.9 L817.2,606.8 L818.9,605.8 L820.6,604.7 L822.3,603.6 L823.9,602.4 L825.6,601.3 L827.3,600.2 L828.9,599.1 L830.6,597.9 L832.2,596.8 L833.9,595.7 L835.6,594.6 L837.2,593.5 L838.9,592.4 L840.6,591.2 L842.2,590.1 L843.9,589.0 L845.5,587.9 L847.2,586.8 L848.8,585.7 L850.5,584.5 L852.1,583.4 L853.8,582.3 L855.5,581.2 L857.1,580.1 L858.8,579.0 L860.5,577.9 L862.2,576.8 L863.9,575.7 L865.6,574.7 L867.3,573.6 L869.0,572.6 L870.6,571.5 L872.3,570.4 L874.0,569.4 L875.7,568.3 L877.3,567.1 L879.0,566.0 L880.6,564.9 L882.2,563.7 L883.8,562.5 L885.4,561.3 L887.0,560.1 L888.6,558.9 L890.2,557.7 L891.8,556.5 L893.4,555.2 L895.0,554.0 L896.5,552.7 L898.1,551.5 L899.6,550.2 L901.1,548.9 L902.6,547.6 L904.1,546.3 L905.6,545.0 L907.1,543.6 L908.6,542.3 L910.0,540.9 L911.5,539.5 L912.9,538.1 L914.3,536.7 L915.7,535.3 L917.1,533.9 L918.5,532.4 L919.9,531.0 L921.2,529.5 L922.6,528.0 L923.3,527.3" fill="none" stroke="#2ad8d0" stroke-width="1.25" stroke-linejoin="round"/>
<path d="M649.3,544.0 L649.4,546.1 L649.6,548.2 L649.8,550.2 L650.0,552.3 L650.3,554.3 L650.7,556.2 L651.1,558.1 L651.6,560.0 L652.1,561.8 L652.7,563.6 L653.4,565.3 L654.3,567.0 L655.3,568.7 L656.5,570.3 L657.7,571.9 L659.0,573.4 L660.4,575.0 L661.9,576.5 L663.3,578.1 L664.7,579.6 L666.1,581.1 L667.4,582.6 L668.7,584.2 L670.0,585.7 L671.3,587.2 L672.6,588.7 L674.0,590.2 L675.3,591.6 L676.7,593.1 L678.0,594.6 L679.4,596.0 L680.8,597.5 L682.1,598.9 L683.5,600.4 L684.9,601.8 L686.3,603.3 L687.7,604.7 L689.0,606.2 L690.4,607.6 L691.8,609.0 L693.2,610.5 L694.7,611.9 L696.1,613.3 L697.5,614.7 L699.0,616.0 L700.4,617.4 L701.9,618.8 L703.3,620.1 L704.8,621.4 L706.3,622.8 L707.8,624.1 L709.3,625.4 L710.8,626.7 L712.4,628.0 L713.9,629.3 L715.4,630.6 L717.0,631.9 L718.6,633.1 L720.1,634.4 L721.7,635.6 L723.3,636.8 L724.9,638.0 L726.5,639.1 L728.2,640.2 L729.8,641.3 L731.5,642.4 L733.2,643.4 L734.9,644.5 L736.7,645.5 L738.4,646.5 L740.1,647.6 L741.8,648.6 L743.5,649.7 L745.2,650.8 L746.8,651.8 L748.5,652.9 L750.2,654.0 L751.9,655.0 L753.6,656.1 L755.3,657.2 L756.9,658.3 L758.6,659.4 L760.3,660.4 L762.0,661.5 L763.7,662.6 L765.3,663.7 L767.0,664.8 L768.7,665.9 L770.4,666.9 L772.0,668.0 L773.7,669.1 L775.4,670.2 L777.1,671.3 L778.8,672.3 L780.4,673.4 L782.1,674.5 L783.8,675.6 L785.5,676.7 L787.2,677.8 L788.8,678.9 L790.5,680.0 L792.2,681.1 L793.8,682.2 L795.5,683.3 L797.2,684.3 L798.9,685.3 L800.7,686.3 L802.4,687.2 L804.2,688.0 L806.0,688.9 L807.8,689.7 L809.7,690.5 L811.5,691.2 L813.4,692.0 L815.2,692.7 L817.1,693.4 L819.0,694.2 L820.8,694.9 L822.7,695.6 L824.6,696.3 L826.5,697.0 L828.3,697.7 L830.2,698.5 L832.1,699.2 L833.9,700.0 L835.8,700.8 L837.6,701.6 L839.4,702.4 L841.2,703.3 L843.0,704.1 L844.8,705.0 L846.6,705.9 L848.4,706.8 L850.2,707.7 L851.9,708.6 L853.7,709.5 L855.5,710.5 L857.2,711.4 L859.0,712.4 L860.8,713.3 L862.5,714.3 L864.3,715.3 L866.0,716.2 L867.7,717.2 L869.4,718.2 L871.2,719.3 L872.9,720.3 L874.6,721.3 L876.4,722.3 L878.2,723.3 L880.0,724.3 L881.8,725.3 L883.6,726.3 L885.4,727.3 L887.2,728.4 L889.0,729.5 L890.7,730.5 L892.3,731.7 L894.0,732.8 L895.5,734.0 L896.9,735.2 L898.3,736.5 L899.6,737.9 L900.9,739.3 L902.1,740.8 L903.2,742.3 L904.3,744.0 L905.4,745.7 L906.5,747.5 L907.5,749.3 L908.4,751.2 L909.3,753.0 L910.1,754.9 L910.8,756.8 L911.5,758.7 L912.1,760.5 L912.7,762.4 L913.2,764.2 L913.7,766.1 L914.2,768.0 L914.8,769.8 L915.3,771.7 L915.7,773.6 L916.2,775.5 L916.7,777.4 L917.2,779.3 L917.6,781.2 L918.1,783.2 L918.5,785.1 L918.9,787.1 L919.3,789.0 L919.6,791.0 L920.0,793.0 L920.3,794.9 L920.6,796.9 L920.9,798.9 L921.2,801.0 L921.4,803.0 L921.6,805.0 L921.8,807.1 L922.0,809.1 L922.1,811.2 L922.2,813.3 L922.3,815.4 L922.3,817.5 L922.4,819.6 L922.4,819.6" fill="none" stroke="#2ad8d0" stroke-width="1.25" stroke-linejoin="round"/>
<path d="M649.3,809.2 L649.3,807.2 L649.3,805.2 L649.3,803.2 L649.3,801.2 L649.3,799.2 L649.3,797.2 L649.3,795.2 L649.3,793.2 L649.3,791.2 L649.3,789.2 L649.3,787.2 L649.4,785.2 L649.4,783.2 L649.4,781.2 L649.4,779.2 L649.4,777.2 L649.4,775.2 L649.4,773.2 L649.4,771.2 L649.5,769.2 L649.5,767.2 L649.5,765.2 L649.5,763.2 L649.5,761.2 L649.6,759.2 L649.6,757.2 L649.6,755.2 L649.6,753.2 L649.6,751.2 L649.7,749.2 L649.7,747.2 L649.7,745.2 L649.7,743.2 L649.8,741.2 L649.8,739.2 L649.8,737.2 L649.9,735.2 L649.9,733.2 L650.0,731.2 L650.1,729.2 L650.1,727.2 L650.2,725.2 L650.4,723.2 L650.5,721.3 L650.6,719.3 L650.8,717.3 L651.0,715.3 L651.2,713.2 L651.4,711.2 L651.7,709.2 L652.0,707.2 L652.4,705.2 L652.8,703.2 L653.2,701.3 L653.7,699.5 L654.4,697.7 L655.1,696.0 L656.0,694.4 L657.0,692.7 L658.1,691.2 L659.4,689.6 L660.7,688.1 L662.2,686.6 L663.7,685.1 L665.3,683.6 L666.9,682.2 L668.5,680.9 L670.1,679.5 L671.7,678.2 L673.3,677.0 L674.9,675.7 L676.5,674.5 L678.1,673.4 L679.7,672.3 L681.3,671.2 L683.0,670.1 L684.7,669.1 L686.4,668.1 L688.1,667.1 L689.9,666.1 L691.7,665.2 L693.5,664.2 L695.3,663.3 L697.1,662.3 L698.9,661.4 L700.6,660.4 L702.4,659.5 L704.2,658.5 L705.9,657.5 L707.7,656.5 L709.4,655.6 L711.2,654.6 L712.9,653.6 L714.6,652.6 L716.4,651.6 L718.1,650.7 L719.9,649.7 L721.6,648.7 L723.4,647.8 L725.1,646.8 L726.9,645.9 L728.6,644.9 L730.4,644.0 L732.2,643.0 L733.9,642.1 L735.7,641.2 L737.5,640.3 L739.3,639.4 L741.0,638.4 L742.8,637.6 L744.6,636.7 L746.4,635.8 L748.2,635.0 L750.1,634.2 L751.9,633.4 L753.7,632.6 L755.6,631.9 L757.4,631.1 L759.3,630.4 L761.2,629.7 L763.1,629.0 L765.0,628.4 L766.9,627.7 L768.7,627.1 L770.6,626.4 L772.6,625.8 L774.5,625.1 L776.4,624.5 L778.3,623.9 L780.2,623.2 L782.1,622.6 L784.0,622.0 L785.9,621.3 L787.8,620.7 L789.6,620.0 L791.5,619.3 L793.4,618.6 L795.3,617.9 L797.1,617.2 L799.0,616.5 L800.8,615.7 L802.6,615.0 L804.5,614.2 L806.3,613.4 L808.1,612.5 L809.8,611.6 L811.6,610.8 L813.4,609.8 L815.2,608.9 L816.9,607.9 L818.7,607.0 L820.4,606.0 L822.1,605.0 L823.9,604.0 L825.6,603.0 L827.3,602.0 L829.1,601.0 L830.8,600.0 L832.6,599.0 L834.3,598.0 L836.0,597.0 L837.8,596.0 L839.5,595.1 L841.3,594.1 L843.1,593.2 L844.8,592.3 L846.6,591.3 L848.4,590.4 L850.1,589.5 L851.9,588.5 L853.7,587.6 L855.5,586.7 L857.2,585.7 L859.0,584.8 L860.7,583.9 L862.5,582.9 L864.3,581.9 L866.0,581.0 L867.7,580.0 L869.5,579.0 L871.2,578.0 L872.9,577.0 L874.6,575.9 L876.3,574.9 L878.0,573.8 L879.7,572.7 L881.4,571.7 L883.1,570.6 L884.8,569.5 L886.4,568.5 L888.1,567.4 L889.8,566.4 L891.5,565.3 L893.3,564.3 L895.0,563.3 L896.7,562.3 L898.5,561.3 L900.2,560.3 L902.0,559.3 L903.7,558.3 L905.5,557.3 L907.2,556.3 L908.9,555.3 L910.6,554.3 L912.3,553.2 L913.9,552.1 L915.5,550.9 L917.1,549.8 L918.7,548.6 L920.2,547.4 L921.8,546.1 L923.3,544.8 L924.8,543.6 L926.4,542.3 L927.8,540.9 L929.3,539.6 L930.8,538.2 L932.2,536.8 L933.7,535.4 L935.1,534.0 L936.5,532.5 L937.9,531.0 L939.2,529.5 L940.6,528.0 L941.3,527.3" fill="none" stroke="#1e9bff" stroke-width="1.25" stroke-linejoin="round"/>
<path d="M649.3,541.9 L649.5,544.0 L649.7,546.1 L649.9,548.1 L650.3,550.2 L650.6,552.1 L651.1,554.1 L651.6,556.0 L652.2,557.9 L652.8,559.7 L653.4,561.5 L654.2,563.2 L655.0,564.9 L656.0,566.6 L657.1,568.2 L658.4,569.8 L659.7,571.4 L661.0,572.9 L662.4,574.5 L663.8,576.0 L665.2,577.5 L666.5,579.1 L667.9,580.6 L669.2,582.1 L670.5,583.6 L671.9,585.0 L673.2,586.5 L674.6,588.0 L676.0,589.4 L677.4,590.9 L678.7,592.3 L680.1,593.7 L681.5,595.2 L682.9,596.6 L684.3,598.0 L685.7,599.5 L687.1,600.9 L688.5,602.4 L689.9,603.9 L691.3,605.4 L692.6,606.8 L694.0,608.3 L695.5,609.7 L696.9,611.1 L698.4,612.4 L699.9,613.7 L701.4,614.9 L703.0,616.1 L704.6,617.2 L706.2,618.3 L707.9,619.4 L709.6,620.4 L711.3,621.4 L713.1,622.3 L714.9,623.3 L716.7,624.2 L718.5,625.1 L720.3,626.1 L722.1,627.0 L723.8,628.0 L725.6,629.0 L727.3,630.0 L729.0,631.0 L730.7,632.1 L732.3,633.3 L733.9,634.4 L735.5,635.6 L737.1,636.8 L738.7,638.1 L740.3,639.2 L742.0,640.4 L743.6,641.6 L745.3,642.7 L746.9,643.7 L748.6,644.8 L750.3,645.8 L752.0,646.9 L753.7,647.9 L755.4,648.9 L757.2,650.0 L758.9,651.0 L760.6,652.0 L762.4,653.0 L764.1,653.9 L765.8,654.9 L767.6,655.9 L769.4,656.9 L771.1,657.8 L772.9,658.8 L774.6,659.7 L776.4,660.7 L778.2,661.6 L780.0,662.5 L781.8,663.4 L783.6,664.3 L785.3,665.2 L787.1,666.1 L788.9,667.0 L790.7,667.9 L792.5,668.8 L794.3,669.7 L796.1,670.5 L797.9,671.4 L799.7,672.2 L801.5,673.1 L803.4,673.9 L805.2,674.7 L807.0,675.5 L808.9,676.2 L810.7,677.0 L812.6,677.8 L814.4,678.6 L816.3,679.3 L818.1,680.1 L820.0,680.8 L821.8,681.6 L823.7,682.4 L825.5,683.1 L827.4,683.9 L829.2,684.6 L831.1,685.4 L832.9,686.1 L834.8,686.9 L836.6,687.7 L838.5,688.5 L840.3,689.2 L842.1,690.0 L844.0,690.8 L845.8,691.6 L847.6,692.4 L849.5,693.2 L851.3,693.9 L853.2,694.7 L855.0,695.5 L856.8,696.3 L858.7,697.1 L860.5,697.9 L862.3,698.7 L864.2,699.5 L866.0,700.4 L867.8,701.2 L869.6,702.0 L871.5,702.8 L873.3,703.7 L875.1,704.5 L876.9,705.4 L878.7,706.2 L880.5,707.1 L882.3,707.9 L884.2,708.8 L886.0,709.6 L887.9,710.5 L889.7,711.3 L891.6,712.2 L893.4,713.0 L895.2,713.9 L897.0,714.9 L898.8,715.8 L900.5,716.8 L902.2,717.8 L903.8,718.9 L905.4,720.0 L906.9,721.2 L908.4,722.4 L909.9,723.7 L911.4,725.1 L912.8,726.6 L914.2,728.1 L915.5,729.7 L916.8,731.3 L917.9,732.9 L919.1,734.5 L920.1,736.2 L921.1,737.9 L922.1,739.6 L923.0,741.4 L923.9,743.2 L924.8,745.0 L925.6,746.8 L926.4,748.7 L927.2,750.6 L927.9,752.5 L928.5,754.4 L929.1,756.4 L929.6,758.3 L930.1,760.2 L930.6,762.1 L931.0,764.0 L931.4,765.9 L931.9,767.8 L932.3,769.8 L932.7,771.7 L933.1,773.6 L933.5,775.5 L933.8,777.5 L934.2,779.4 L934.6,781.4 L934.9,783.3 L935.3,785.3 L935.6,787.3 L935.9,789.2 L936.2,791.2 L936.5,793.2 L936.7,795.2 L937.0,797.2 L937.2,799.2 L937.4,801.2 L937.6,803.2 L937.8,805.2 L938.0,807.3 L938.1,809.3 L938.2,811.4 L938.3,813.4 L938.3,815.5 L938.4,817.5 L938.4,819.6 L938.4,819.6" fill="none" stroke="#1e9bff" stroke-width="1.25" stroke-linejoin="round"/>
<path d="M649.3,809.2 L649.3,807.2 L649.3,805.2 L649.3,803.2 L649.3,801.2 L649.3,799.1 L649.3,797.1 L649.3,795.1 L649.3,793.1 L649.3,791.1 L649.3,789.1 L649.3,787.1 L649.4,785.1 L649.4,783.1 L649.4,781.1 L649.4,779.1 L649.4,777.1 L649.4,775.1 L649.4,773.1 L649.4,771.1 L649.5,769.1 L649.5,767.2 L649.5,765.2 L649.5,763.2 L649.5,761.2 L649.5,759.2 L649.6,757.2 L649.6,755.2 L649.6,753.2 L649.6,751.2 L649.7,749.2 L649.7,747.2 L649.7,745.2 L649.7,743.2 L649.8,741.2 L649.8,739.2 L649.8,737.2 L649.9,735.2 L650.0,733.2 L650.1,731.2 L650.2,729.2 L650.4,727.2 L650.5,725.2 L650.7,723.2 L650.9,721.2 L651.1,719.2 L651.2,717.2 L651.4,715.2 L651.6,713.2 L651.8,711.2 L652.0,709.2 L652.2,707.1 L652.4,705.1 L652.6,703.1 L652.9,701.2 L653.2,699.2 L653.5,697.3 L653.8,695.4 L654.3,693.5 L654.8,691.6 L655.4,689.7 L656.1,687.8 L656.9,686.0 L657.7,684.1 L658.7,682.2 L659.7,680.4 L660.8,678.6 L661.9,676.9 L663.1,675.2 L664.2,673.6 L665.4,672.0 L666.6,670.5 L667.9,669.0 L669.2,667.6 L670.5,666.3 L672.0,665.0 L673.5,663.7 L675.1,662.5 L676.7,661.2 L678.4,660.1 L680.1,658.9 L681.8,657.8 L683.5,656.7 L685.3,655.6 L687.0,654.6 L688.8,653.5 L690.5,652.5 L692.2,651.5 L694.0,650.6 L695.7,649.6 L697.5,648.7 L699.3,647.8 L701.1,647.0 L702.9,646.1 L704.7,645.3 L706.5,644.4 L708.4,643.6 L710.2,642.8 L712.0,641.9 L713.8,641.1 L715.7,640.3 L717.5,639.4 L719.3,638.6 L721.1,637.7 L722.9,636.8 L724.7,635.9 L726.5,635.0 L728.3,634.1 L730.0,633.2 L731.8,632.3 L733.6,631.4 L735.4,630.5 L737.2,629.7 L739.1,628.9 L740.9,628.2 L742.8,627.5 L744.7,626.8 L746.5,626.1 L748.4,625.5 L750.3,624.9 L752.2,624.2 L754.1,623.6 L756.1,623.0 L758.0,622.4 L759.9,621.8 L761.8,621.2 L763.7,620.6 L765.6,620.0 L767.5,619.4 L769.4,618.9 L771.4,618.3 L773.3,617.7 L775.2,617.2 L777.1,616.6 L779.1,616.1 L781.0,615.5 L782.9,614.9 L784.8,614.4 L786.8,613.8 L788.7,613.2 L790.6,612.6 L792.5,612.0 L794.4,611.4 L796.3,610.8 L798.2,610.2 L800.1,609.5 L801.9,608.8 L803.8,608.1 L805.6,607.4 L807.5,606.7 L809.3,605.9 L811.1,605.1 L812.9,604.3 L814.8,603.5 L816.6,602.6 L818.4,601.7 L820.2,600.8 L821.9,599.9 L823.7,599.0 L825.5,598.1 L827.3,597.2 L829.1,596.3 L830.9,595.3 L832.6,594.4 L834.4,593.5 L836.2,592.6 L838.0,591.7 L839.8,590.8 L841.6,589.9 L843.4,589.0 L845.1,588.1 L846.9,587.2 L848.7,586.3 L850.5,585.4 L852.3,584.5 L854.1,583.6 L855.8,582.6 L857.6,581.7 L859.4,580.8 L861.2,580.0 L863.0,579.1 L864.8,578.2 L866.6,577.3 L868.4,576.5 L870.2,575.6 L872.0,574.8 L873.8,574.0 L875.7,573.2 L877.5,572.4 L879.3,571.6 L881.2,570.8 L883.0,570.0 L884.9,569.2 L886.7,568.4 L888.5,567.6 L890.4,566.8 L892.2,566.0 L894.0,565.2 L895.8,564.4 L897.6,563.5 L899.4,562.7 L901.2,561.8 L903.0,560.9 L904.8,560.0 L906.6,559.1 L908.3,558.1 L910.1,557.2 L911.9,556.3 L913.6,555.3 L915.4,554.4 L917.2,553.4 L918.9,552.5 L920.7,551.5 L922.5,550.6 L924.2,549.7 L926.0,548.8 L927.8,547.8 L929.6,546.9 L931.3,546.0 L933.1,545.0 L934.8,544.0 L936.5,543.0 L938.2,541.9 L939.9,540.9 L941.5,539.7 L943.2,538.6 L944.8,537.4 L946.4,536.3 L948.0,535.0 L949.6,533.8 L951.1,532.5 L952.7,531.3 L954.2,529.9 L955.7,528.6 L957.2,527.3 L957.2,527.3" fill="none" stroke="#3a1fdc" stroke-width="1.25" stroke-linejoin="round"/>
<path d="M649.3,537.7 L649.5,539.7 L649.8,541.7 L650.1,543.7 L650.4,545.7 L650.8,547.6 L651.2,549.6 L651.6,551.5 L652.1,553.5 L652.7,555.4 L653.3,557.3 L654.0,559.2 L654.8,561.0 L655.6,562.8 L656.5,564.6 L657.5,566.3 L658.6,567.9 L659.8,569.5 L661.0,571.0 L662.4,572.5 L663.8,574.0 L665.2,575.5 L666.6,577.0 L667.9,578.4 L669.3,579.9 L670.7,581.3 L672.1,582.8 L673.5,584.2 L674.9,585.6 L676.3,587.0 L677.7,588.4 L679.2,589.8 L680.6,591.2 L682.0,592.6 L683.4,594.0 L684.9,595.4 L686.3,596.8 L687.7,598.2 L689.2,599.6 L690.7,600.9 L692.1,602.3 L693.6,603.6 L695.1,604.9 L696.7,606.2 L698.2,607.5 L699.7,608.8 L701.3,610.1 L702.8,611.3 L704.4,612.6 L706.0,613.8 L707.6,615.0 L709.2,616.2 L710.8,617.3 L712.4,618.5 L714.1,619.6 L715.8,620.6 L717.5,621.6 L719.2,622.6 L720.9,623.6 L722.7,624.5 L724.4,625.5 L726.2,626.4 L728.0,627.3 L729.8,628.2 L731.6,629.2 L733.3,630.1 L735.1,631.0 L736.9,632.0 L738.6,633.0 L740.3,634.0 L742.0,635.0 L743.7,636.1 L745.4,637.2 L747.1,638.3 L748.8,639.4 L750.4,640.5 L752.1,641.5 L753.8,642.6 L755.5,643.6 L757.2,644.6 L759.0,645.6 L760.7,646.5 L762.5,647.4 L764.3,648.3 L766.1,649.2 L767.9,650.0 L769.7,650.9 L771.5,651.7 L773.3,652.6 L775.1,653.4 L776.9,654.2 L778.8,655.0 L780.6,655.8 L782.5,656.6 L784.3,657.4 L786.1,658.1 L788.0,658.9 L789.8,659.7 L791.7,660.5 L793.5,661.3 L795.4,662.0 L797.2,662.8 L799.0,663.6 L800.9,664.4 L802.7,665.2 L804.6,666.0 L806.4,666.7 L808.2,667.5 L810.1,668.3 L811.9,669.1 L813.8,669.8 L815.6,670.6 L817.4,671.4 L819.3,672.1 L821.1,672.9 L823.0,673.6 L824.8,674.4 L826.7,675.2 L828.5,675.9 L830.4,676.7 L832.2,677.5 L834.0,678.3 L835.9,679.1 L837.7,679.8 L839.5,680.6 L841.4,681.4 L843.2,682.2 L845.1,683.0 L846.9,683.8 L848.7,684.6 L850.6,685.4 L852.4,686.2 L854.2,686.9 L856.1,687.7 L857.9,688.5 L859.8,689.2 L861.6,690.0 L863.5,690.7 L865.3,691.5 L867.2,692.2 L869.0,692.9 L870.9,693.6 L872.8,694.3 L874.7,695.0 L876.6,695.6 L878.5,696.2 L880.4,696.8 L882.3,697.4 L884.2,698.0 L886.2,698.6 L888.1,699.3 L890.0,699.9 L891.8,700.5 L893.7,701.2 L895.6,701.9 L897.4,702.6 L899.2,703.4 L901.0,704.2 L902.8,705.1 L904.6,705.9 L906.5,706.9 L908.3,707.8 L910.0,708.8 L911.8,709.8 L913.6,710.8 L915.3,711.9 L917.0,713.0 L918.6,714.2 L920.2,715.3 L921.7,716.5 L923.3,717.8 L924.7,719.0 L926.2,720.4 L927.6,721.8 L928.9,723.3 L930.3,724.8 L931.6,726.4 L932.9,728.0 L934.1,729.6 L935.2,731.3 L936.3,733.0 L937.2,734.7 L938.1,736.4 L939.0,738.2 L939.8,740.0 L940.5,741.8 L941.2,743.7 L941.9,745.6 L942.6,747.5 L943.2,749.4 L943.8,751.4 L944.3,753.3 L944.8,755.3 L945.3,757.2 L945.7,759.2 L946.1,761.1 L946.5,763.1 L946.9,765.0 L947.3,766.9 L947.6,768.9 L948.0,770.8 L948.4,772.8 L948.7,774.7 L949.1,776.7 L949.4,778.6 L949.7,780.6 L950.1,782.6 L950.4,784.5 L950.7,786.5 L951.0,788.5 L951.3,790.5 L951.5,792.4 L951.8,794.4 L952.0,796.4 L952.2,798.4 L952.5,800.4 L952.6,802.4 L952.8,804.4 L953.0,806.4 L953.1,808.4 L953.2,810.5 L953.3,812.5 L953.4,814.5 L953.4,816.5 L953.4,818.6 L953.5,819.6" fill="none" stroke="#3a1fdc" stroke-width="1.25" stroke-linejoin="round"/>
<path d="M649.3,668.2 L649.3,666.2 L649.4,664.2 L649.5,662.2 L649.5,660.2 L649.6,658.2 L649.7,656.2 L649.8,654.2 L649.9,652.2 L650.0,650.2 L650.1,648.2 L650.2,646.2 L650.3,644.2 L650.4,642.2 L650.6,640.2 L650.8,638.2 L651.1,636.2 L651.5,634.2 L651.9,632.2 L652.5,630.3 L653.1,628.3 L653.9,626.5 L654.8,624.8 L655.8,623.2 L657.0,621.7 L658.5,620.3 L660.0,619.0 L661.7,617.9 L663.4,616.8 L665.2,615.9 L667.0,615.1 L668.9,614.3 L670.8,613.6 L672.7,612.9 L674.6,612.2 L676.4,611.5 L678.3,610.8 L680.2,610.1 L682.1,609.5 L684.0,608.8 L685.9,608.1 L687.7,607.5 L689.6,606.8 L691.5,606.1 L693.4,605.5 L695.3,604.8 L697.2,604.2 L699.1,603.6 L701.0,602.9 L702.9,602.3 L704.8,601.7 L706.7,601.1 L708.6,600.5 L710.5,599.9 L712.4,599.2 L714.3,598.6 L716.2,598.0 L718.1,597.4 L720.0,596.7 L721.8,596.0 L723.7,595.2 L725.5,594.4 L727.4,593.6 L729.2,592.8 L731.0,591.9 L732.8,591.0 L734.5,590.0 L736.2,589.0 L737.9,587.9 L739.5,586.8 L741.1,585.6 L742.7,584.4 L744.3,583.1 L745.8,581.8 L747.4,580.6 L748.9,579.3 L750.4,578.0 L751.9,576.6 L753.4,575.3 L754.9,574.0 L756.5,572.7 L758.0,571.5 L759.6,570.3 L761.2,569.1 L762.9,568.0 L764.6,567.0 L766.4,566.0 L768.2,565.1 L770.0,564.3 L771.8,563.5 L773.7,562.7 L775.6,562.0 L777.5,561.4 L779.4,560.8 L781.3,560.3 L783.2,559.8 L785.2,559.4 L787.2,559.1 L789.1,558.7 L791.1,558.4 L793.1,558.1 L795.1,557.9 L797.1,557.6 L799.1,557.4 L801.0,557.1 L803.0,556.9 L805.0,556.7 L807.0,556.5 L809.0,556.4 L811.0,556.2 L813.0,556.0 L815.0,555.9 L817.0,555.8 L819.0,555.6 L821.0,555.5 L823.0,555.4 L825.0,555.3 L827.0,555.2 L828.9,555.1 L830.9,555.1 L832.9,555.0 L834.9,554.9 L836.9,554.9 L838.9,554.8 L840.9,554.7 L842.9,554.7 L844.9,554.6 L846.9,554.5 L848.9,554.5 L850.9,554.4 L852.9,554.4 L854.9,554.3 L856.9,554.2 L858.9,554.2 L860.9,554.1 L862.9,554.0 L864.9,553.9 L866.9,553.9 L868.9,553.8 L870.9,553.7 L872.9,553.6 L874.9,553.5 L876.9,553.4 L878.9,553.4 L880.9,553.3 L882.9,553.2 L884.9,553.1 L886.9,553.0 L888.9,552.9 L890.9,552.8 L892.9,552.7 L894.9,552.7 L896.9,552.6 L898.9,552.5 L900.9,552.4 L902.9,552.3 L904.9,552.1 L906.8,552.0 L908.8,551.9 L910.8,551.8 L912.8,551.7 L914.8,551.6 L916.8,551.4 L918.8,551.3 L920.8,551.2 L922.8,551.0 L924.8,550.9 L926.8,550.7 L928.8,550.5 L930.8,550.4 L932.8,550.2 L934.8,550.0 L936.8,549.8 L938.8,549.6 L940.8,549.4 L942.8,549.2 L944.7,549.0 L946.7,548.8 L948.7,548.5 L950.7,548.3 L952.7,548.0 L954.6,547.7 L956.6,547.4 L958.6,547.1 L960.5,546.8 L962.5,546.4 L964.5,546.0 L966.4,545.6 L968.4,545.1 L970.3,544.6 L972.3,544.1 L974.2,543.5 L976.2,542.9 L978.1,542.3 L979.9,541.7 L981.8,541.0 L983.7,540.3 L985.5,539.6 L987.3,538.8 L989.1,538.0 L990.9,537.1 L992.6,536.2 L994.4,535.3 L996.1,534.2 L997.8,533.2 L999.5,532.0 L1001.2,530.9 L1002.8,529.7 L1004.5,528.5 L1006.1,527.3 L1006.1,527.3" fill="none" stroke="#222222" stroke-width="1.25" stroke-linejoin="round"/>
<path d="M649.3,535.6 L649.5,537.6 L649.7,539.6 L650.0,541.6 L650.3,543.6 L650.6,545.6 L651.0,547.5 L651.4,549.5 L651.9,551.4 L652.4,553.3 L653.0,555.3 L653.6,557.2 L654.3,559.0 L655.1,560.9 L656.0,562.6 L657.0,564.4 L658.0,566.0 L659.1,567.6 L660.4,569.2 L661.7,570.7 L663.0,572.2 L664.4,573.7 L665.8,575.1 L667.2,576.6 L668.6,578.1 L670.0,579.5 L671.4,580.9 L672.8,582.4 L674.2,583.8 L675.6,585.2 L677.0,586.6 L678.4,588.0 L679.8,589.5 L681.2,590.9 L682.6,592.4 L683.9,593.8 L685.3,595.3 L686.7,596.7 L688.1,598.1 L689.5,599.5 L691.0,600.8 L692.5,602.2 L694.0,603.5 L695.5,604.8 L697.0,606.1 L698.6,607.4 L700.1,608.6 L701.7,609.9 L703.3,611.1 L704.9,612.3 L706.5,613.5 L708.1,614.7 L709.7,615.8 L711.4,616.9 L713.0,618.0 L714.7,619.1 L716.4,620.2 L718.1,621.2 L719.8,622.2 L721.6,623.1 L723.3,624.1 L725.1,625.1 L726.8,626.0 L728.6,626.9 L730.4,627.9 L732.2,628.8 L733.9,629.7 L735.7,630.7 L737.5,631.6 L739.2,632.5 L741.0,633.5 L742.8,634.4 L744.5,635.3 L746.3,636.2 L748.1,637.2 L749.9,638.1 L751.6,639.0 L753.4,639.8 L755.2,640.7 L757.0,641.5 L758.9,642.3 L760.7,643.1 L762.5,643.9 L764.4,644.7 L766.2,645.4 L768.1,646.1 L769.9,646.9 L771.8,647.6 L773.7,648.3 L775.5,649.0 L777.4,649.7 L779.3,650.5 L781.1,651.2 L783.0,651.9 L784.8,652.7 L786.7,653.4 L788.5,654.1 L790.4,654.9 L792.2,655.6 L794.1,656.4 L796.0,657.1 L797.8,657.8 L799.7,658.6 L801.5,659.3 L803.4,660.0 L805.2,660.8 L807.1,661.5 L808.9,662.3 L810.8,663.0 L812.6,663.7 L814.5,664.5 L816.4,665.2 L818.2,665.9 L820.1,666.7 L821.9,667.4 L823.8,668.1 L825.6,668.9 L827.5,669.6 L829.3,670.4 L831.2,671.1 L833.1,671.8 L834.9,672.6 L836.8,673.3 L838.6,674.0 L840.5,674.8 L842.3,675.5 L844.2,676.2 L846.0,677.0 L847.9,677.7 L849.8,678.5 L851.6,679.2 L853.5,679.9 L855.3,680.7 L857.2,681.4 L859.0,682.1 L860.9,682.9 L862.7,683.6 L864.6,684.4 L866.4,685.1 L868.3,685.8 L870.2,686.6 L872.0,687.3 L873.9,688.0 L875.7,688.8 L877.6,689.5 L879.4,690.2 L881.3,690.9 L883.2,691.7 L885.0,692.4 L886.9,693.1 L888.7,693.9 L890.6,694.6 L892.4,695.4 L894.3,696.1 L896.1,696.9 L898.0,697.7 L899.8,698.4 L901.6,699.2 L903.5,700.0 L905.3,700.8 L907.2,701.6 L909.0,702.4 L910.9,703.2 L912.7,704.0 L914.5,704.9 L916.3,705.8 L918.0,706.7 L919.7,707.7 L921.4,708.7 L923.1,709.8 L924.7,711.0 L926.4,712.2 L927.9,713.5 L929.4,714.8 L930.9,716.1 L932.2,717.6 L933.6,719.0 L934.8,720.6 L936.1,722.2 L937.2,723.8 L938.4,725.5 L939.4,727.2 L940.4,728.9 L941.4,730.7 L942.2,732.5 L943.0,734.3 L943.8,736.1 L944.5,737.9 L945.2,739.8 L945.9,741.7 L946.5,743.6 L947.1,745.5 L947.7,747.5 L948.3,749.4 L948.8,751.4 L949.3,753.3 L949.8,755.2 L950.2,757.2 L950.6,759.1 L951.0,761.1 L951.4,763.0 L951.8,765.0 L952.1,767.0 L952.4,768.9 L952.8,770.9 L953.1,772.9 L953.3,774.9 L953.6,776.9 L953.9,778.8 L954.1,780.8 L954.3,782.8 L954.6,784.8 L954.8,786.8 L955.0,788.7 L955.2,790.7 L955.4,792.7 L955.6,794.7 L955.8,796.7 L956.0,798.7 L956.2,800.6 L956.4,802.6 L956.5,804.6 L956.7,806.6 L956.8,808.6 L957.0,810.6 L957.1,812.6 L957.2,814.6 L957.3,816.6 L957.4,818.6 L957.4,819.6" fill="none" stroke="#222222" stroke-width="1.25" stroke-linejoin="round"/>
<rect x="649.3" y="506.3" width="387.10000000000014" height="313.3" fill="none" stroke="#333" stroke-width="1.2"/>
<line x1="640.8" y1="819.6" x2="649.3" y2="819.6" stroke="#333" stroke-width="1.2"/>
<text x="593.09" y="828.20" font-family="&quot;Liberation Sans&quot;, sans-serif" font-size="22.8" font-weight="normal" font-style="normal" fill="#000" textLength="36.23" lengthAdjust="spacingAndGlyphs" stroke="#fff" stroke-width="0.4">2.0</text>
<line x1="640.8" y1="767.4" x2="649.3" y2="767.4" stroke="#333" stroke-width="1.2"/>
<text x="595.68" y="776.00" font-family="&quot;Liberation Sans&quot;, sans-serif" font-size="22.8" font-weight="normal" font-style="normal" fill="#000" textLength="33.63" lengthAdjust="spacingAndGlyphs" stroke="#fff" stroke-width="0.4">2.5</text>
<line x1="640.8" y1="715.2" x2="649.3" y2="715.2" stroke="#333" stroke-width="1.2"/>
<text x="593.42" y="723.80" font-family="&quot;Liberation Sans&quot;, sans-serif" font-size="22.8" font-weight="normal" font-style="normal" fill="#000" textLength="35.89" lengthAdjust="spacingAndGlyphs" stroke="#fff" stroke-width="0.4">3.0</text>
<line x1="640.8" y1="663.0" x2="649.3" y2="663.0" stroke="#333" stroke-width="1.2"/>
<text x="595.99" y="671.60" font-family="&quot;Liberation Sans&quot;, sans-serif" font-size="22.8" font-weight="normal" font-style="normal" fill="#000" textLength="33.32" lengthAdjust="spacingAndGlyphs" stroke="#fff" stroke-width="0.4">3.5</text>
<line x1="640.8" y1="610.8" x2="649.3" y2="610.8" stroke="#333" stroke-width="1.2"/>
<text x="593.20" y="619.40" font-family="&quot;Liberation Sans&quot;, sans-serif" font-size="22.8" font-weight="normal" font-style="normal" fill="#000" textLength="36.11" lengthAdjust="spacingAndGlyphs" stroke="#fff" stroke-width="0.4">4.0</text>
<line x1="640.8" y1="558.6" x2="649.3" y2="558.6" stroke="#333" stroke-width="1.2"/>
<text x="595.44" y="567.20" font-family="&quot;Liberation Sans&quot;, sans-serif" font-size="22.8" font-weight="normal" font-style="normal" fill="#000" textLength="33.88" lengthAdjust="spacingAndGlyphs" stroke="#fff" stroke-width="0.4">4.5</text>
<line x1="640.8" y1="506.4" x2="649.3" y2="506.4" stroke="#333" stroke-width="1.2"/>
<text x="593.67" y="515.00" font-family="&quot;Liberation Sans&quot;, sans-serif" font-size="22.8" font-weight="normal" font-style="normal" fill="#000" textLength="35.63" lengthAdjust="spacingAndGlyphs" stroke="#fff" stroke-width="0.4">5.0</text>
<line x1="644.3" y1="793.5" x2="649.3" y2="793.5" stroke="#333" stroke-width="1.2"/>
<line x1="644.3" y1="741.3" x2="649.3" y2="741.3" stroke="#333" stroke-width="1.2"/>
<line x1="644.3" y1="689.1" x2="649.3" y2="689.1" stroke="#333" stroke-width="1.2"/>
<line x1="644.3" y1="636.9" x2="649.3" y2="636.9" stroke="#333" stroke-width="1.2"/>
<line x1="644.3" y1="584.7" x2="649.3" y2="584.7" stroke="#333" stroke-width="1.2"/>
<line x1="644.3" y1="532.5" x2="649.3" y2="532.5" stroke="#333" stroke-width="1.2"/>
<line x1="649.3" y1="819.6" x2="649.3" y2="827.6" stroke="#333" stroke-width="1.2"/>
<text x="641.85" y="860.00" font-family="&quot;Liberation Sans&quot;, sans-serif" font-size="22.8" font-weight="normal" font-style="normal" fill="#000" textLength="15.01" lengthAdjust="spacingAndGlyphs" stroke="#fff" stroke-width="0.4">0</text>
<line x1="676.9" y1="819.6" x2="676.9" y2="824.6" stroke="#333" stroke-width="1.2"/>
<line x1="704.6" y1="819.6" x2="704.6" y2="827.6" stroke="#333" stroke-width="1.2"/>
<text x="689.63" y="860.00" font-family="&quot;Liberation Sans&quot;, sans-serif" font-size="22.8" font-weight="normal" font-style="normal" fill="#000" textLength="29.61" lengthAdjust="spacingAndGlyphs" stroke="#fff" stroke-width="0.4">50</text>
<line x1="732.2" y1="819.6" x2="732.2" y2="824.6" stroke="#333" stroke-width="1.2"/>
<line x1="759.9" y1="819.6" x2="759.9" y2="827.6" stroke="#333" stroke-width="1.2"/>
<text x="738.11" y="860.00" font-family="&quot;Liberation Sans&quot;, sans-serif" font-size="22.8" font-weight="normal" font-style="normal" fill="#000" textLength="41.36" lengthAdjust="spacingAndGlyphs" stroke="#fff" stroke-width="0.4">100</text>
<line x1="787.5" y1="819.6" x2="787.5" y2="824.6" stroke="#333" stroke-width="1.2"/>
<line x1="815.2" y1="819.6" x2="815.2" y2="827.6" stroke="#333" stroke-width="1.2"/>
<text x="795.05" y="860.00" font-family="&quot;Liberation Sans&quot;, sans-serif" font-size="22.8" font-weight="normal" font-style="normal" fill="#000" textLength="38.35" lengthAdjust="spacingAndGlyphs" stroke="#fff" stroke-width="0.4">150</text>
<line x1="842.8" y1="819.6" x2="842.8" y2="824.6" stroke="#333" stroke-width="1.2"/>
<line x1="870.5" y1="819.6" x2="870.5" y2="827.6" stroke="#333" stroke-width="1.2"/>
<text x="847.35" y="860.00" font-family="&quot;Liberation Sans&quot;, sans-serif" font-size="22.8" font-weight="normal" font-style="normal" fill="#000" textLength="44.80" lengthAdjust="spacingAndGlyphs" stroke="#fff" stroke-width="0.4">200</text>
<line x1="898.1" y1="819.6" x2="898.1" y2="824.6" stroke="#333" stroke-width="1.2"/>
<line x1="925.8" y1="819.6" x2="925.8" y2="827.6" stroke="#333" stroke-width="1.2"/>
<text x="903.59" y="860.00" font-family="&quot;Liberation Sans&quot;, sans-serif" font-size="22.8" font-weight="normal" font-style="normal" fill="#000" textLength="43.53" lengthAdjust="spacingAndGlyphs" stroke="#fff" stroke-width="0.4">250</text>
<line x1="953.5" y1="819.6" x2="953.5" y2="824.6" stroke="#333" stroke-width="1.2"/>
<line x1="981.1" y1="819.6" x2="981.1" y2="827.6" stroke="#333" stroke-width="1.2"/>
<text x="958.46" y="860.00" font-family="&quot;Liberation Sans&quot;, sans-serif" font-size="22.8" font-weight="normal" font-style="normal" fill="#000" textLength="45.40" lengthAdjust="spacingAndGlyphs" stroke="#fff" stroke-width="0.4">300</text>
<line x1="1008.8" y1="819.6" x2="1008.8" y2="824.6" stroke="#333" stroke-width="1.2"/>
<line x1="1036.4" y1="819.6" x2="1036.4" y2="827.6" stroke="#333" stroke-width="1.2"/>
<text x="1014.60" y="860.00" font-family="&quot;Liberation Sans&quot;, sans-serif" font-size="22.8" font-weight="normal" font-style="normal" fill="#000" textLength="43.83" lengthAdjust="spacingAndGlyphs" stroke="#fff" stroke-width="0.4">350</text>
<text x="724.96" y="909.50" font-family="&quot;Liberation Sans&quot;, sans-serif" font-size="28.5" font-weight="normal" font-style="normal" fill="#000" textLength="210.18" lengthAdjust="spacingAndGlyphs" stroke="#fff" stroke-width="0.4">Capacity (mAh g</text>
<text x="935.02" y="896.80" font-family="&quot;Liberation Sans&quot;, sans-serif" font-size="18.5" font-weight="normal" font-style="normal" fill="#000" textLength="15.65" lengthAdjust="spacingAndGlyphs" stroke="#fff" stroke-width="0.4">−1</text>
<text x="952.95" y="909.50" font-family="&quot;Liberation Sans&quot;, sans-serif" font-size="28.5" font-weight="normal" font-style="normal" fill="#000" textLength="8.42" lengthAdjust="spacingAndGlyphs" stroke="#fff" stroke-width="0.4">)</text>
<g transform="translate(567.5,0) rotate(-90)"><text x="-784.62" y="0.00" font-family="&quot;Liberation Sans&quot;, sans-serif" font-size="28.5" font-weight="normal" font-style="normal" fill="#000" textLength="159.60" lengthAdjust="spacingAndGlyphs" stroke="#fff" stroke-width="0.4">Voltage vs Li</text><text x="-623.80" y="-13.00" font-family="&quot;Liberation Sans&quot;, sans-serif" font-size="18.4" font-weight="normal" font-style="normal" fill="#000" textLength="9.62" lengthAdjust="spacingAndGlyphs" stroke="#fff" stroke-width="0.4">+</text><text x="-614.00" y="0.00" font-family="&quot;Liberation Sans&quot;, sans-serif" font-size="28.5" font-weight="normal" font-style="normal" fill="#000" textLength="74.12" lengthAdjust="spacingAndGlyphs" stroke="#fff" stroke-width="0.4">/Li (V)</text></g>
<line x1="931" y1="573.2" x2="954.9" y2="573.2" stroke="#222222" stroke-width="1.3"/>
<text x="966.97" y="581.00" font-family="&quot;Liberation Sans&quot;, sans-serif" font-size="22.8" font-weight="normal" font-style="normal" fill="#000" textLength="28.59" lengthAdjust="spacingAndGlyphs" stroke="#fff" stroke-width="0.4">1st</text>
<line x1="931" y1="596.7" x2="954.9" y2="596.7" stroke="#3a1fdc" stroke-width="1.3"/>
<text x="967.34" y="604.50" font-family="&quot;Liberation Sans&quot;, sans-serif" font-size="22.8" font-weight="normal" font-style="normal" fill="#000" textLength="41.88" lengthAdjust="spacingAndGlyphs" stroke="#fff" stroke-width="0.4">2nd</text>
<line x1="931" y1="620.3" x2="954.9" y2="620.3" stroke="#1e9bff" stroke-width="1.3"/>
<text x="967.56" y="628.00" font-family="&quot;Liberation Sans&quot;, sans-serif" font-size="22.8" font-weight="normal" font-style="normal" fill="#000" textLength="36.02" lengthAdjust="spacingAndGlyphs" stroke="#fff" stroke-width="0.4">5th</text>
<line x1="931" y1="643.8" x2="954.9" y2="643.8" stroke="#2ad8d0" stroke-width="1.3"/>
<text x="967.26" y="651.50" font-family="&quot;Liberation Sans&quot;, sans-serif" font-size="22.8" font-weight="normal" font-style="normal" fill="#000" textLength="51.76" lengthAdjust="spacingAndGlyphs" stroke="#fff" stroke-width="0.4">20th</text>
<line x1="931" y1="667.4" x2="954.9" y2="667.4" stroke="#2bb673" stroke-width="1.3"/>
<text x="967.22" y="675.80" font-family="&quot;Liberation Sans&quot;, sans-serif" font-size="22.8" font-weight="normal" font-style="normal" fill="#000" textLength="52.95" lengthAdjust="spacingAndGlyphs" stroke="#fff" stroke-width="0.4">60th</text>
<line x1="931" y1="690.9" x2="954.9" y2="690.9" stroke="#c8e020" stroke-width="1.3"/>
<text x="966.65" y="698.50" font-family="&quot;Liberation Sans&quot;, sans-serif" font-size="22.8" font-weight="normal" font-style="normal" fill="#000" textLength="64.01" lengthAdjust="spacingAndGlyphs" stroke="#fff" stroke-width="0.4">100th</text>
</svg>
</body></html>
